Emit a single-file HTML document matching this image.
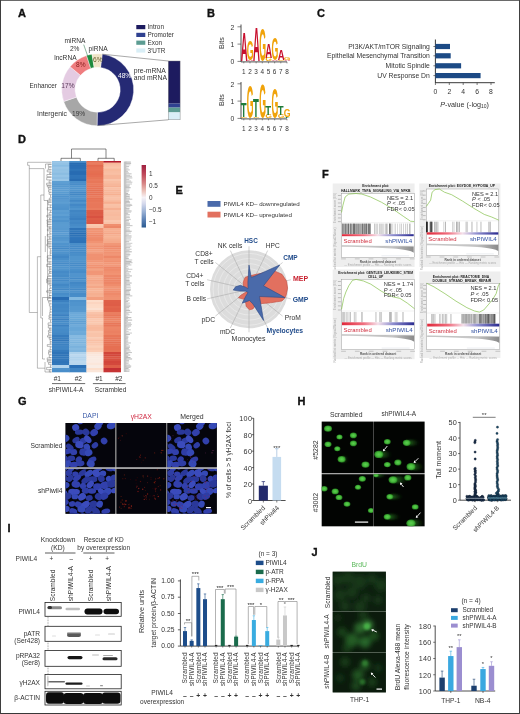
<!DOCTYPE html>
<html><head><meta charset="utf-8"><style>
html,body{margin:0;padding:0;background:#fff;}
svg{display:block;font-family:"Liberation Sans", sans-serif;will-change:transform;}
</style></head><body>
<svg width="520" height="714" viewBox="0 0 520 714">
<rect width="520" height="714" fill="#fff"/>
<text x="18.00" y="17.00" font-size="11" fill="#111" font-weight="bold" stroke="#111" stroke-width="0.35">A</text>
<text x="207.00" y="17.00" font-size="11" fill="#111" font-weight="bold" stroke="#111" stroke-width="0.35">B</text>
<text x="317.00" y="17.00" font-size="11" fill="#111" font-weight="bold" stroke="#111" stroke-width="0.35">C</text>
<text x="18.00" y="143.00" font-size="11" fill="#111" font-weight="bold" stroke="#111" stroke-width="0.35">D</text>
<text x="175.50" y="194.00" font-size="11" fill="#111" font-weight="bold" stroke="#111" stroke-width="0.35">E</text>
<text x="322.00" y="178.00" font-size="11" fill="#111" font-weight="bold" stroke="#111" stroke-width="0.35">F</text>
<text x="18.00" y="405.00" font-size="11" fill="#111" font-weight="bold" stroke="#111" stroke-width="0.35">G</text>
<text x="297.50" y="405.00" font-size="11" fill="#111" font-weight="bold" stroke="#111" stroke-width="0.35">H</text>
<text x="7.50" y="532.00" font-size="11" fill="#111" font-weight="bold" stroke="#111" stroke-width="0.35">I</text>
<text x="311.50" y="555.50" font-size="11" fill="#111" font-weight="bold" stroke="#111" stroke-width="0.35">J</text>
<path d="M102.21,54.08 A36,36 0 0 1 97.07,125.79 L97.31,112.30 A22.5,22.5 0 0 0 100.52,67.48 Z" fill="#252a74" stroke="#fff" stroke-width="0.4" />
<path d="M97.07,125.79 A36,36 0 0 1 63.66,101.52 L76.43,97.13 A22.5,22.5 0 0 0 97.31,112.30 Z" fill="#a7a7a7" stroke="#fff" stroke-width="0.4" />
<path d="M63.66,101.52 A36,36 0 0 1 70.12,66.66 L80.46,75.34 A22.5,22.5 0 0 0 76.43,97.13 Z" fill="#e4cbe2" stroke="#fff" stroke-width="0.4" />
<path d="M70.12,66.66 A36,36 0 0 1 86.58,55.56 L90.75,68.40 A22.5,22.5 0 0 0 80.46,75.34 Z" fill="#ef7d7f" stroke="#fff" stroke-width="0.4" />
<path d="M86.58,55.56 A36,36 0 0 1 92.07,54.24 L94.18,67.58 A22.5,22.5 0 0 0 90.75,68.40 Z" fill="#1e8a3d" stroke="#fff" stroke-width="0.4" />
<path d="M92.07,54.24 A36,36 0 0 1 102.21,54.08 L100.52,67.48 A22.5,22.5 0 0 0 94.18,67.58 Z" fill="#efe4c6" stroke="#fff" stroke-width="0.4" />
<line x1="102.30" y1="54.20" x2="168.30" y2="61.00" stroke="#555" stroke-width="0.5" />
<line x1="97.50" y1="125.60" x2="168.30" y2="119.80" stroke="#555" stroke-width="0.5" />
<rect x="168.30" y="61.00" width="11.80" height="42.60" fill="#1d1b5f" />
<rect x="168.30" y="103.60" width="11.80" height="4.00" fill="#2f4190" />
<rect x="168.30" y="107.60" width="11.80" height="4.80" fill="#5c9c92" />
<rect x="168.30" y="112.40" width="11.80" height="7.40" fill="#d9eef6" />
<rect x="168.30" y="61.00" width="11.80" height="58.80" fill="none" stroke="#777" stroke-width="0.4"/>
<rect x="136.30" y="25.00" width="9.00" height="4.20" fill="#1d1b5f" />
<text x="147.60" y="29.28" font-size="6.4" fill="#333" >Intron</text>
<rect x="136.30" y="32.80" width="9.00" height="4.20" fill="#2f4190" />
<text x="147.60" y="37.08" font-size="6.4" fill="#333" >Promoter</text>
<rect x="136.30" y="40.60" width="9.00" height="4.20" fill="#5c9c92" />
<text x="147.60" y="44.88" font-size="6.4" fill="#333" >Exon</text>
<rect x="136.30" y="48.40" width="9.00" height="4.20" fill="#d9eef6" />
<text x="147.60" y="52.68" font-size="6.4" fill="#333" >3′UTR</text>
<text x="133.70" y="72.71" font-size="6.8" fill="#333" >pre-mRNA</text>
<text x="133.70" y="79.71" font-size="6.8" fill="#333" >and mRNA</text>
<text x="118.00" y="77.74" font-size="6.6" fill="#fff" >48%</text>
<text x="75.00" y="42.64" font-size="6.6" fill="#333" text-anchor="middle" >miRNA</text>
<text x="74.70" y="50.74" font-size="6.6" fill="#333" text-anchor="middle" >2%</text>
<text x="54.20" y="59.54" font-size="6.6" fill="#333" >lncRNA</text>
<text x="88.50" y="51.44" font-size="6.6" fill="#333" >piRNA</text>
<text x="76.00" y="66.84" font-size="6.6" fill="#8a2020" >8%</text>
<text x="93.00" y="62.24" font-size="6.6" fill="#6a6030" >6%</text>
<text x="29.60" y="87.98" font-size="6.4" fill="#333" >Enhancer</text>
<text x="61.30" y="88.04" font-size="6.6" fill="#5a3a5a" >17%</text>
<text x="37.00" y="115.81" font-size="6.8" fill="#333" >Intergenic</text>
<text x="72.00" y="115.74" font-size="6.6" fill="#3a3a3a" >19%</text>
<line x1="83.70" y1="44.60" x2="87.60" y2="55.80" stroke="#1e6a3d" stroke-width="0.5" />
<line x1="241.00" y1="24.50" x2="241.00" y2="61.90" stroke="#222" stroke-width="0.8" />
<line x1="241.00" y1="61.90" x2="287.00" y2="61.90" stroke="#222" stroke-width="0.8" />
<line x1="237.50" y1="61.40" x2="241.00" y2="61.40" stroke="#333" stroke-width="0.6" />
<text x="234.20" y="64.31" font-size="6.8" fill="#333" text-anchor="end" >0</text>
<line x1="237.50" y1="44.10" x2="241.00" y2="44.10" stroke="#333" stroke-width="0.6" />
<text x="234.20" y="47.01" font-size="6.8" fill="#333" text-anchor="end" >1</text>
<line x1="237.50" y1="26.80" x2="241.00" y2="26.80" stroke="#333" stroke-width="0.6" />
<text x="234.20" y="29.71" font-size="6.8" fill="#333" text-anchor="end" >2</text>
<text transform="translate(221.50,43.10) rotate(-90)" x="0" y="2.45" font-size="7.2" fill="#333" text-anchor="middle" >Bits</text>
<line x1="243.80" y1="61.90" x2="243.80" y2="63.40" stroke="#333" stroke-width="0.5" />
<text x="243.80" y="73.58" font-size="6.4" fill="#333" text-anchor="middle" >1</text>
<line x1="249.97" y1="61.90" x2="249.97" y2="63.40" stroke="#333" stroke-width="0.5" />
<text x="249.97" y="73.58" font-size="6.4" fill="#333" text-anchor="middle" >2</text>
<line x1="256.14" y1="61.90" x2="256.14" y2="63.40" stroke="#333" stroke-width="0.5" />
<text x="256.14" y="73.58" font-size="6.4" fill="#333" text-anchor="middle" >3</text>
<line x1="262.31" y1="61.90" x2="262.31" y2="63.40" stroke="#333" stroke-width="0.5" />
<text x="262.31" y="73.58" font-size="6.4" fill="#333" text-anchor="middle" >4</text>
<line x1="268.48" y1="61.90" x2="268.48" y2="63.40" stroke="#333" stroke-width="0.5" />
<text x="268.48" y="73.58" font-size="6.4" fill="#333" text-anchor="middle" >5</text>
<line x1="274.65" y1="61.90" x2="274.65" y2="63.40" stroke="#333" stroke-width="0.5" />
<text x="274.65" y="73.58" font-size="6.4" fill="#333" text-anchor="middle" >6</text>
<line x1="280.82" y1="61.90" x2="280.82" y2="63.40" stroke="#333" stroke-width="0.5" />
<text x="280.82" y="73.58" font-size="6.4" fill="#333" text-anchor="middle" >7</text>
<line x1="286.99" y1="61.90" x2="286.99" y2="63.40" stroke="#333" stroke-width="0.5" />
<text x="286.99" y="73.58" font-size="6.4" fill="#333" text-anchor="middle" >8</text>
<text transform="translate(240.65,61.40) scale(0.955,4.156)" font-size="10" font-weight="bold" fill="#c8102e" x="0" y="0">A</text>
<text transform="translate(246.82,61.40) scale(0.955,0.193)" font-size="10" font-weight="bold" fill="#c8102e" x="0" y="0">A</text>
<text transform="translate(246.82,60.02) scale(0.875,2.706)" font-size="10" font-weight="bold" fill="#f0a30a" x="0" y="0">G</text>
<text transform="translate(252.99,61.40) scale(0.955,4.760)" font-size="10" font-weight="bold" fill="#c8102e" x="0" y="0">A</text>
<text transform="translate(259.16,61.40) scale(0.875,4.639)" font-size="10" font-weight="bold" fill="#f0a30a" x="0" y="0">G</text>
<text transform="translate(265.33,61.40) scale(0.875,0.483)" font-size="10" font-weight="bold" fill="#f0a30a" x="0" y="0">G</text>
<text transform="translate(265.33,57.94) scale(0.955,2.054)" font-size="10" font-weight="bold" fill="#c8102e" x="0" y="0">A</text>
<text transform="translate(271.50,61.40) scale(0.955,0.242)" font-size="10" font-weight="bold" fill="#c8102e" x="0" y="0">A</text>
<text transform="translate(271.50,59.67) scale(0.875,3.141)" font-size="10" font-weight="bold" fill="#f0a30a" x="0" y="0">G</text>
<text transform="translate(277.67,61.40) scale(0.875,0.242)" font-size="10" font-weight="bold" fill="#f0a30a" x="0" y="0">G</text>
<text transform="translate(277.67,59.67) scale(0.955,1.450)" font-size="10" font-weight="bold" fill="#c8102e" x="0" y="0">A</text>
<text transform="translate(283.84,61.40) scale(0.955,0.193)" font-size="10" font-weight="bold" fill="#c8102e" x="0" y="0">A</text>
<text transform="translate(283.84,60.02) scale(0.875,0.362)" font-size="10" font-weight="bold" fill="#f0a30a" x="0" y="0">G</text>
<line x1="241.00" y1="82.00" x2="241.00" y2="118.90" stroke="#222" stroke-width="0.8" />
<line x1="241.00" y1="118.90" x2="287.00" y2="118.90" stroke="#222" stroke-width="0.8" />
<line x1="237.50" y1="118.40" x2="241.00" y2="118.40" stroke="#333" stroke-width="0.6" />
<text x="234.20" y="121.31" font-size="6.8" fill="#333" text-anchor="end" >0</text>
<line x1="237.50" y1="101.10" x2="241.00" y2="101.10" stroke="#333" stroke-width="0.6" />
<text x="234.20" y="104.01" font-size="6.8" fill="#333" text-anchor="end" >1</text>
<line x1="237.50" y1="83.80" x2="241.00" y2="83.80" stroke="#333" stroke-width="0.6" />
<text x="234.20" y="86.71" font-size="6.8" fill="#333" text-anchor="end" >2</text>
<text transform="translate(221.50,100.10) rotate(-90)" x="0" y="2.45" font-size="7.2" fill="#333" text-anchor="middle" >Bits</text>
<line x1="243.80" y1="118.90" x2="243.80" y2="120.40" stroke="#333" stroke-width="0.5" />
<text x="243.80" y="130.58" font-size="6.4" fill="#333" text-anchor="middle" >1</text>
<line x1="249.97" y1="118.90" x2="249.97" y2="120.40" stroke="#333" stroke-width="0.5" />
<text x="249.97" y="130.58" font-size="6.4" fill="#333" text-anchor="middle" >2</text>
<line x1="256.14" y1="118.90" x2="256.14" y2="120.40" stroke="#333" stroke-width="0.5" />
<text x="256.14" y="130.58" font-size="6.4" fill="#333" text-anchor="middle" >3</text>
<line x1="262.31" y1="118.90" x2="262.31" y2="120.40" stroke="#333" stroke-width="0.5" />
<text x="262.31" y="130.58" font-size="6.4" fill="#333" text-anchor="middle" >4</text>
<line x1="268.48" y1="118.90" x2="268.48" y2="120.40" stroke="#333" stroke-width="0.5" />
<text x="268.48" y="130.58" font-size="6.4" fill="#333" text-anchor="middle" >5</text>
<line x1="274.65" y1="118.90" x2="274.65" y2="120.40" stroke="#333" stroke-width="0.5" />
<text x="274.65" y="130.58" font-size="6.4" fill="#333" text-anchor="middle" >6</text>
<line x1="280.82" y1="118.90" x2="280.82" y2="120.40" stroke="#333" stroke-width="0.5" />
<text x="280.82" y="130.58" font-size="6.4" fill="#333" text-anchor="middle" >7</text>
<line x1="286.99" y1="118.90" x2="286.99" y2="120.40" stroke="#333" stroke-width="0.5" />
<text x="286.99" y="130.58" font-size="6.4" fill="#333" text-anchor="middle" >8</text>
<text transform="translate(240.65,118.40) scale(0.875,0.242)" font-size="10" font-weight="bold" fill="#f0a30a" x="0" y="0">G</text>
<text transform="translate(240.65,116.67) scale(0.955,1.933)" font-size="10" font-weight="bold" fill="#1e7b3a" x="0" y="0">T</text>
<text transform="translate(246.82,118.40) scale(0.875,4.712)" font-size="10" font-weight="bold" fill="#f0a30a" x="0" y="0">G</text>
<text transform="translate(252.99,118.40) scale(0.875,0.242)" font-size="10" font-weight="bold" fill="#f0a30a" x="0" y="0">G</text>
<text transform="translate(252.99,116.67) scale(0.955,2.537)" font-size="10" font-weight="bold" fill="#1e7b3a" x="0" y="0">T</text>
<text transform="translate(259.16,118.40) scale(0.875,4.784)" font-size="10" font-weight="bold" fill="#f0a30a" x="0" y="0">G</text>
<text transform="translate(265.33,118.40) scale(0.875,0.483)" font-size="10" font-weight="bold" fill="#f0a30a" x="0" y="0">G</text>
<text transform="translate(265.33,114.94) scale(0.955,1.329)" font-size="10" font-weight="bold" fill="#1e7b3a" x="0" y="0">T</text>
<text transform="translate(271.50,118.40) scale(0.875,4.301)" font-size="10" font-weight="bold" fill="#f0a30a" x="0" y="0">G</text>
<text transform="translate(277.67,118.40) scale(0.875,0.483)" font-size="10" font-weight="bold" fill="#f0a30a" x="0" y="0">G</text>
<text transform="translate(277.67,114.94) scale(0.955,1.329)" font-size="10" font-weight="bold" fill="#1e7b3a" x="0" y="0">T</text>
<text transform="translate(283.84,118.40) scale(0.955,0.242)" font-size="10" font-weight="bold" fill="#1e7b3a" x="0" y="0">T</text>
<text transform="translate(283.84,116.67) scale(0.875,1.087)" font-size="10" font-weight="bold" fill="#f0a30a" x="0" y="0">G</text>
<line x1="435.40" y1="39.50" x2="435.40" y2="82.90" stroke="#222" stroke-width="0.9" />
<line x1="435.40" y1="82.70" x2="494.80" y2="82.70" stroke="#222" stroke-width="0.9" />
<rect x="435.40" y="43.90" width="14.60" height="5.20" fill="#1c4a85" />
<line x1="433.40" y1="46.50" x2="435.40" y2="46.50" stroke="#222" stroke-width="0.6" />
<text x="429.80" y="48.81" font-size="6.8" fill="#333" text-anchor="end" >PI3K/AKT/mTOR Signaling</text>
<rect x="435.40" y="53.20" width="15.29" height="5.20" fill="#1c4a85" />
<line x1="433.40" y1="55.80" x2="435.40" y2="55.80" stroke="#222" stroke-width="0.6" />
<text x="429.80" y="58.11" font-size="6.8" fill="#333" text-anchor="end" >Epithelial Mesenchymal Transition</text>
<rect x="435.40" y="63.20" width="25.72" height="5.20" fill="#1c4a85" />
<line x1="433.40" y1="65.80" x2="435.40" y2="65.80" stroke="#222" stroke-width="0.6" />
<text x="429.80" y="68.11" font-size="6.8" fill="#333" text-anchor="end" >Mitotic Spindle</text>
<rect x="435.40" y="73.00" width="45.18" height="5.20" fill="#1c4a85" />
<line x1="433.40" y1="75.60" x2="435.40" y2="75.60" stroke="#222" stroke-width="0.6" />
<text x="429.80" y="77.91" font-size="6.8" fill="#333" text-anchor="end" >UV Response Dn</text>
<line x1="435.40" y1="82.70" x2="435.40" y2="85.00" stroke="#222" stroke-width="0.6" />
<text x="435.40" y="94.31" font-size="6.8" fill="#333" text-anchor="middle" >0</text>
<line x1="449.30" y1="82.70" x2="449.30" y2="85.00" stroke="#222" stroke-width="0.6" />
<text x="449.30" y="94.31" font-size="6.8" fill="#333" text-anchor="middle" >2</text>
<line x1="463.20" y1="82.70" x2="463.20" y2="85.00" stroke="#222" stroke-width="0.6" />
<text x="463.20" y="94.31" font-size="6.8" fill="#333" text-anchor="middle" >4</text>
<line x1="477.10" y1="82.70" x2="477.10" y2="85.00" stroke="#222" stroke-width="0.6" />
<text x="477.10" y="94.31" font-size="6.8" fill="#333" text-anchor="middle" >6</text>
<line x1="491.00" y1="82.70" x2="491.00" y2="85.00" stroke="#222" stroke-width="0.6" />
<text x="491.00" y="94.31" font-size="6.8" fill="#333" text-anchor="middle" >8</text>
<text x="464.6" y="106.5" font-size="7.2" fill="#333" text-anchor="middle"><tspan font-style="italic">P</tspan>-value (-log<tspan font-size="5" dy="1.5">10</tspan><tspan dy="-1.5">)</tspan></text>
<rect x="52.00" y="161.00" width="17.50" height="1.90" fill="#95c4e6" />
<rect x="69.20" y="161.00" width="17.50" height="1.90" fill="#4b90ca" />
<rect x="86.40" y="161.00" width="17.40" height="1.90" fill="#e56c50" />
<rect x="103.50" y="161.00" width="17.50" height="1.90" fill="#b2182b" />
<rect x="52.00" y="162.60" width="17.50" height="2.34" fill="#93c2e5" />
<rect x="69.20" y="162.60" width="17.50" height="2.34" fill="#286cb2" />
<rect x="86.40" y="162.60" width="17.40" height="2.34" fill="#ea7d5f" />
<rect x="103.50" y="162.60" width="17.50" height="2.34" fill="#f7b89b" />
<rect x="52.00" y="164.64" width="17.50" height="2.34" fill="#89bce2" />
<rect x="69.20" y="164.64" width="17.50" height="2.34" fill="#296db3" />
<rect x="86.40" y="164.64" width="17.40" height="2.34" fill="#e46a4e" />
<rect x="103.50" y="164.64" width="17.50" height="2.34" fill="#f9bfa4" />
<rect x="52.00" y="166.69" width="17.50" height="2.34" fill="#98c5e7" />
<rect x="69.20" y="166.69" width="17.50" height="2.34" fill="#2a6fb5" />
<rect x="86.40" y="166.69" width="17.40" height="2.34" fill="#e67154" />
<rect x="103.50" y="166.69" width="17.50" height="2.34" fill="#fac5ab" />
<rect x="52.00" y="168.73" width="17.50" height="2.34" fill="#93c2e5" />
<rect x="69.20" y="168.73" width="17.50" height="2.34" fill="#3075b9" />
<rect x="86.40" y="168.73" width="17.40" height="2.34" fill="#e77356" />
<rect x="103.50" y="168.73" width="17.50" height="2.34" fill="#f8ba9d" />
<rect x="52.00" y="170.78" width="17.50" height="2.34" fill="#94c3e5" />
<rect x="69.20" y="170.78" width="17.50" height="2.34" fill="#286cb2" />
<rect x="86.40" y="170.78" width="17.40" height="2.34" fill="#e56f52" />
<rect x="103.50" y="170.78" width="17.50" height="2.34" fill="#f8bda1" />
<rect x="52.00" y="172.82" width="17.50" height="2.34" fill="#8bbde2" />
<rect x="69.20" y="172.82" width="17.50" height="2.34" fill="#276bb2" />
<rect x="86.40" y="172.82" width="17.40" height="2.34" fill="#e56d50" />
<rect x="103.50" y="172.82" width="17.50" height="2.34" fill="#f9bfa4" />
<rect x="52.00" y="174.87" width="17.50" height="2.34" fill="#95c4e6" />
<rect x="69.20" y="174.87" width="17.50" height="2.34" fill="#3075b9" />
<rect x="86.40" y="174.87" width="17.40" height="2.34" fill="#e66f53" />
<rect x="103.50" y="174.87" width="17.50" height="2.34" fill="#f7b699" />
<rect x="52.00" y="176.91" width="17.50" height="2.34" fill="#8dbee3" />
<rect x="69.20" y="176.91" width="17.50" height="2.34" fill="#2f74b8" />
<rect x="86.40" y="176.91" width="17.40" height="2.34" fill="#e77557" />
<rect x="103.50" y="176.91" width="17.50" height="2.34" fill="#f7b699" />
<rect x="52.00" y="178.96" width="17.50" height="2.34" fill="#99c6e7" />
<rect x="69.20" y="178.96" width="17.50" height="2.34" fill="#286cb2" />
<rect x="86.40" y="178.96" width="17.40" height="2.34" fill="#e97a5d" />
<rect x="103.50" y="178.96" width="17.50" height="2.34" fill="#f9c4aa" />
<rect x="52.00" y="181.00" width="17.50" height="2.37" fill="#5e9fd3" />
<rect x="69.20" y="181.00" width="17.50" height="2.37" fill="#498ec9" />
<rect x="86.40" y="181.00" width="17.40" height="2.37" fill="#e87759" />
<rect x="103.50" y="181.00" width="17.50" height="2.37" fill="#f8bda1" />
<rect x="52.00" y="183.07" width="17.50" height="2.37" fill="#5799d0" />
<rect x="69.20" y="183.07" width="17.50" height="2.37" fill="#488dc9" />
<rect x="86.40" y="183.07" width="17.40" height="2.37" fill="#ea7c5e" />
<rect x="103.50" y="183.07" width="17.50" height="2.37" fill="#f7b79a" />
<rect x="52.00" y="185.14" width="17.50" height="2.37" fill="#589ad0" />
<rect x="69.20" y="185.14" width="17.50" height="2.37" fill="#5094cd" />
<rect x="86.40" y="185.14" width="17.40" height="2.37" fill="#e87659" />
<rect x="103.50" y="185.14" width="17.50" height="2.37" fill="#f6b193" />
<rect x="52.00" y="187.21" width="17.50" height="2.37" fill="#5d9dd2" />
<rect x="69.20" y="187.21" width="17.50" height="2.37" fill="#5295cd" />
<rect x="86.40" y="187.21" width="17.40" height="2.37" fill="#e87659" />
<rect x="103.50" y="187.21" width="17.50" height="2.37" fill="#f9bfa4" />
<rect x="52.00" y="189.29" width="17.50" height="2.37" fill="#5d9ed2" />
<rect x="69.20" y="189.29" width="17.50" height="2.37" fill="#5195cd" />
<rect x="86.40" y="189.29" width="17.40" height="2.37" fill="#e67255" />
<rect x="103.50" y="189.29" width="17.50" height="2.37" fill="#f7b79a" />
<rect x="52.00" y="191.36" width="17.50" height="2.37" fill="#5a9cd1" />
<rect x="69.20" y="191.36" width="17.50" height="2.37" fill="#458ac7" />
<rect x="86.40" y="191.36" width="17.40" height="2.37" fill="#e77356" />
<rect x="103.50" y="191.36" width="17.50" height="2.37" fill="#f7b79a" />
<rect x="52.00" y="193.43" width="17.50" height="2.37" fill="#5396ce" />
<rect x="69.20" y="193.43" width="17.50" height="2.37" fill="#4388c5" />
<rect x="86.40" y="193.43" width="17.40" height="2.37" fill="#e77256" />
<rect x="103.50" y="193.43" width="17.50" height="2.37" fill="#f6b091" />
<rect x="52.00" y="195.50" width="17.50" height="2.37" fill="#5094cd" />
<rect x="69.20" y="195.50" width="17.50" height="2.37" fill="#4f93cc" />
<rect x="86.40" y="195.50" width="17.40" height="2.37" fill="#e97b5d" />
<rect x="103.50" y="195.50" width="17.50" height="2.37" fill="#f9bfa4" />
<rect x="52.00" y="197.57" width="17.50" height="2.37" fill="#5496ce" />
<rect x="69.20" y="197.57" width="17.50" height="2.37" fill="#4e92cc" />
<rect x="86.40" y="197.57" width="17.40" height="2.37" fill="#e77255" />
<rect x="103.50" y="197.57" width="17.50" height="2.37" fill="#f9c1a7" />
<rect x="52.00" y="199.64" width="17.50" height="2.37" fill="#599ad0" />
<rect x="69.20" y="199.64" width="17.50" height="2.37" fill="#4388c5" />
<rect x="86.40" y="199.64" width="17.40" height="2.37" fill="#e77558" />
<rect x="103.50" y="199.64" width="17.50" height="2.37" fill="#f8bca0" />
<rect x="52.00" y="201.71" width="17.50" height="2.37" fill="#5d9ed2" />
<rect x="69.20" y="201.71" width="17.50" height="2.37" fill="#5295cd" />
<rect x="86.40" y="201.71" width="17.40" height="2.37" fill="#e9795c" />
<rect x="103.50" y="201.71" width="17.50" height="2.37" fill="#f6af91" />
<rect x="52.00" y="203.79" width="17.50" height="2.37" fill="#5497ce" />
<rect x="69.20" y="203.79" width="17.50" height="2.37" fill="#4388c6" />
<rect x="86.40" y="203.79" width="17.40" height="2.37" fill="#e8775a" />
<rect x="103.50" y="203.79" width="17.50" height="2.37" fill="#f9c2a7" />
<rect x="52.00" y="205.86" width="17.50" height="2.37" fill="#5295cd" />
<rect x="69.20" y="205.86" width="17.50" height="2.37" fill="#498ec9" />
<rect x="86.40" y="205.86" width="17.40" height="2.37" fill="#e8775a" />
<rect x="103.50" y="205.86" width="17.50" height="2.37" fill="#f9bfa4" />
<rect x="52.00" y="207.93" width="17.50" height="2.37" fill="#4f93cc" />
<rect x="69.20" y="207.93" width="17.50" height="2.37" fill="#5094cd" />
<rect x="86.40" y="207.93" width="17.40" height="2.37" fill="#ea7d5f" />
<rect x="103.50" y="207.93" width="17.50" height="2.37" fill="#f6b092" />
<rect x="52.00" y="210.00" width="17.50" height="2.30" fill="#5d9ed2" />
<rect x="69.20" y="210.00" width="17.50" height="2.30" fill="#4085c3" />
<rect x="86.40" y="210.00" width="17.40" height="2.30" fill="#dd5c46" />
<rect x="103.50" y="210.00" width="17.50" height="2.30" fill="#f8bea3" />
<rect x="52.00" y="212.00" width="17.50" height="2.30" fill="#599bd1" />
<rect x="69.20" y="212.00" width="17.50" height="2.30" fill="#4489c6" />
<rect x="86.40" y="212.00" width="17.40" height="2.30" fill="#dc5a45" />
<rect x="103.50" y="212.00" width="17.50" height="2.30" fill="#f8bca0" />
<rect x="52.00" y="214.00" width="17.50" height="2.30" fill="#5e9fd3" />
<rect x="69.20" y="214.00" width="17.50" height="2.30" fill="#4287c5" />
<rect x="86.40" y="214.00" width="17.40" height="2.30" fill="#dd5c47" />
<rect x="103.50" y="214.00" width="17.50" height="2.30" fill="#f8ba9e" />
<rect x="52.00" y="216.00" width="17.50" height="2.30" fill="#5396ce" />
<rect x="69.20" y="216.00" width="17.50" height="2.30" fill="#3f84c3" />
<rect x="86.40" y="216.00" width="17.40" height="2.30" fill="#d85241" />
<rect x="103.50" y="216.00" width="17.50" height="2.30" fill="#f8bea2" />
<rect x="52.00" y="218.00" width="17.50" height="2.30" fill="#589ad0" />
<rect x="69.20" y="218.00" width="17.50" height="2.30" fill="#3a7fc0" />
<rect x="86.40" y="218.00" width="17.40" height="2.30" fill="#de5d47" />
<rect x="103.50" y="218.00" width="17.50" height="2.30" fill="#f8bda1" />
<rect x="52.00" y="220.00" width="17.50" height="2.30" fill="#4f93cc" />
<rect x="69.20" y="220.00" width="17.50" height="2.30" fill="#4489c6" />
<rect x="86.40" y="220.00" width="17.40" height="2.30" fill="#dc5945" />
<rect x="103.50" y="220.00" width="17.50" height="2.30" fill="#fac7ae" />
<rect x="52.00" y="222.00" width="17.50" height="2.30" fill="#599bd0" />
<rect x="69.20" y="222.00" width="17.50" height="2.30" fill="#4186c4" />
<rect x="86.40" y="222.00" width="17.40" height="2.30" fill="#db5844" />
<rect x="103.50" y="222.00" width="17.50" height="2.30" fill="#f9c1a7" />
<rect x="52.00" y="224.00" width="17.50" height="2.30" fill="#5a9cd1" />
<rect x="69.20" y="224.00" width="17.50" height="2.30" fill="#468bc7" />
<rect x="86.40" y="224.00" width="17.40" height="2.30" fill="#fac8ae" />
<rect x="103.50" y="224.00" width="17.50" height="2.30" fill="#f08f6f" />
<rect x="52.00" y="226.00" width="17.50" height="2.30" fill="#5a9bd1" />
<rect x="69.20" y="226.00" width="17.50" height="2.30" fill="#498eca" />
<rect x="86.40" y="226.00" width="17.40" height="2.30" fill="#f9c3a9" />
<rect x="103.50" y="226.00" width="17.50" height="2.30" fill="#ed8768" />
<rect x="52.00" y="228.00" width="17.50" height="2.44" fill="#589ad0" />
<rect x="69.20" y="228.00" width="17.50" height="2.44" fill="#2f74b8" />
<rect x="86.40" y="228.00" width="17.40" height="2.44" fill="#f09373" />
<rect x="103.50" y="228.00" width="17.50" height="2.44" fill="#f6af91" />
<rect x="52.00" y="230.14" width="17.50" height="2.44" fill="#5597cf" />
<rect x="69.20" y="230.14" width="17.50" height="2.44" fill="#3479bb" />
<rect x="86.40" y="230.14" width="17.40" height="2.44" fill="#f19474" />
<rect x="103.50" y="230.14" width="17.50" height="2.44" fill="#f6ae90" />
<rect x="52.00" y="232.29" width="17.50" height="2.44" fill="#5b9cd2" />
<rect x="69.20" y="232.29" width="17.50" height="2.44" fill="#2a6fb5" />
<rect x="86.40" y="232.29" width="17.40" height="2.44" fill="#f08f6f" />
<rect x="103.50" y="232.29" width="17.50" height="2.44" fill="#f4a789" />
<rect x="52.00" y="234.43" width="17.50" height="2.44" fill="#5497ce" />
<rect x="69.20" y="234.43" width="17.50" height="2.44" fill="#2e73b7" />
<rect x="86.40" y="234.43" width="17.40" height="2.44" fill="#ee8a6b" />
<rect x="103.50" y="234.43" width="17.50" height="2.44" fill="#f6b192" />
<rect x="52.00" y="236.57" width="17.50" height="2.44" fill="#5295cd" />
<rect x="69.20" y="236.57" width="17.50" height="2.44" fill="#3176ba" />
<rect x="86.40" y="236.57" width="17.40" height="2.44" fill="#ef8c6d" />
<rect x="103.50" y="236.57" width="17.50" height="2.44" fill="#f7b395" />
<rect x="52.00" y="238.71" width="17.50" height="2.44" fill="#5497ce" />
<rect x="69.20" y="238.71" width="17.50" height="2.44" fill="#2f74b9" />
<rect x="86.40" y="238.71" width="17.40" height="2.44" fill="#ee8a6a" />
<rect x="103.50" y="238.71" width="17.50" height="2.44" fill="#f5ad8e" />
<rect x="52.00" y="240.86" width="17.50" height="2.44" fill="#5c9dd2" />
<rect x="69.20" y="240.86" width="17.50" height="2.44" fill="#2d72b7" />
<rect x="86.40" y="240.86" width="17.40" height="2.44" fill="#f19373" />
<rect x="103.50" y="240.86" width="17.50" height="2.44" fill="#f5a98a" />
<rect x="52.00" y="243.00" width="17.50" height="2.43" fill="#5094cd" />
<rect x="69.20" y="243.00" width="17.50" height="2.43" fill="#498ec9" />
<rect x="86.40" y="243.00" width="17.40" height="2.43" fill="#f39e7f" />
<rect x="103.50" y="243.00" width="17.50" height="2.43" fill="#f19777" />
<rect x="52.00" y="245.13" width="17.50" height="2.43" fill="#4a8fca" />
<rect x="69.20" y="245.13" width="17.50" height="2.43" fill="#458ac7" />
<rect x="86.40" y="245.13" width="17.40" height="2.43" fill="#f19474" />
<rect x="103.50" y="245.13" width="17.50" height="2.43" fill="#ee8a6a" />
<rect x="52.00" y="247.27" width="17.50" height="2.43" fill="#458ac7" />
<rect x="69.20" y="247.27" width="17.50" height="2.43" fill="#468bc8" />
<rect x="86.40" y="247.27" width="17.40" height="2.43" fill="#f19474" />
<rect x="103.50" y="247.27" width="17.50" height="2.43" fill="#ef8d6e" />
<rect x="52.00" y="249.40" width="17.50" height="2.43" fill="#4f93cc" />
<rect x="69.20" y="249.40" width="17.50" height="2.43" fill="#488dc8" />
<rect x="86.40" y="249.40" width="17.40" height="2.43" fill="#f3a081" />
<rect x="103.50" y="249.40" width="17.50" height="2.43" fill="#f19474" />
<rect x="52.00" y="251.53" width="17.50" height="2.43" fill="#4f93cc" />
<rect x="69.20" y="251.53" width="17.50" height="2.43" fill="#468bc8" />
<rect x="86.40" y="251.53" width="17.40" height="2.43" fill="#f29c7d" />
<rect x="103.50" y="251.53" width="17.50" height="2.43" fill="#f09272" />
<rect x="52.00" y="253.67" width="17.50" height="2.43" fill="#498ec9" />
<rect x="69.20" y="253.67" width="17.50" height="2.43" fill="#498ec9" />
<rect x="86.40" y="253.67" width="17.40" height="2.43" fill="#f09172" />
<rect x="103.50" y="253.67" width="17.50" height="2.43" fill="#f19677" />
<rect x="52.00" y="255.80" width="17.50" height="2.43" fill="#4287c5" />
<rect x="69.20" y="255.80" width="17.50" height="2.43" fill="#5195cd" />
<rect x="86.40" y="255.80" width="17.40" height="2.43" fill="#f09272" />
<rect x="103.50" y="255.80" width="17.50" height="2.43" fill="#ed8768" />
<rect x="52.00" y="257.93" width="17.50" height="2.43" fill="#498ec9" />
<rect x="69.20" y="257.93" width="17.50" height="2.43" fill="#5195cd" />
<rect x="86.40" y="257.93" width="17.40" height="2.43" fill="#f09171" />
<rect x="103.50" y="257.93" width="17.50" height="2.43" fill="#f19575" />
<rect x="52.00" y="260.07" width="17.50" height="2.43" fill="#4e92cc" />
<rect x="69.20" y="260.07" width="17.50" height="2.43" fill="#4f93cc" />
<rect x="86.40" y="260.07" width="17.40" height="2.43" fill="#f19677" />
<rect x="103.50" y="260.07" width="17.50" height="2.43" fill="#f09070" />
<rect x="52.00" y="262.20" width="17.50" height="2.43" fill="#478cc8" />
<rect x="69.20" y="262.20" width="17.50" height="2.43" fill="#478cc8" />
<rect x="86.40" y="262.20" width="17.40" height="2.43" fill="#f39e7f" />
<rect x="103.50" y="262.20" width="17.50" height="2.43" fill="#f29878" />
<rect x="52.00" y="264.33" width="17.50" height="2.43" fill="#4b90cb" />
<rect x="69.20" y="264.33" width="17.50" height="2.43" fill="#478cc8" />
<rect x="86.40" y="264.33" width="17.40" height="2.43" fill="#f19474" />
<rect x="103.50" y="264.33" width="17.50" height="2.43" fill="#f29879" />
<rect x="52.00" y="266.47" width="17.50" height="2.43" fill="#5094cd" />
<rect x="69.20" y="266.47" width="17.50" height="2.43" fill="#4d91cb" />
<rect x="86.40" y="266.47" width="17.40" height="2.43" fill="#f09171" />
<rect x="103.50" y="266.47" width="17.50" height="2.43" fill="#ee8869" />
<rect x="52.00" y="268.60" width="17.50" height="2.43" fill="#5094cd" />
<rect x="69.20" y="268.60" width="17.50" height="2.43" fill="#4b90cb" />
<rect x="86.40" y="268.60" width="17.40" height="2.43" fill="#f3a283" />
<rect x="103.50" y="268.60" width="17.50" height="2.43" fill="#ef8b6c" />
<rect x="52.00" y="270.73" width="17.50" height="2.43" fill="#458ac7" />
<rect x="69.20" y="270.73" width="17.50" height="2.43" fill="#478cc8" />
<rect x="86.40" y="270.73" width="17.40" height="2.43" fill="#f19677" />
<rect x="103.50" y="270.73" width="17.50" height="2.43" fill="#f09070" />
<rect x="52.00" y="272.87" width="17.50" height="2.43" fill="#498ec9" />
<rect x="69.20" y="272.87" width="17.50" height="2.43" fill="#5194cd" />
<rect x="86.40" y="272.87" width="17.40" height="2.43" fill="#f19778" />
<rect x="103.50" y="272.87" width="17.50" height="2.43" fill="#f19373" />
<rect x="52.00" y="275.00" width="17.50" height="2.50" fill="#468bc7" />
<rect x="69.20" y="275.00" width="17.50" height="2.50" fill="#5094cd" />
<rect x="86.40" y="275.00" width="17.40" height="2.50" fill="#f5ac8e" />
<rect x="103.50" y="275.00" width="17.50" height="2.50" fill="#ed8768" />
<rect x="52.00" y="277.20" width="17.50" height="2.50" fill="#488dc8" />
<rect x="69.20" y="277.20" width="17.50" height="2.50" fill="#458ac7" />
<rect x="86.40" y="277.20" width="17.40" height="2.50" fill="#f5ab8d" />
<rect x="103.50" y="277.20" width="17.50" height="2.50" fill="#ed8667" />
<rect x="52.00" y="279.40" width="17.50" height="2.50" fill="#458ac7" />
<rect x="69.20" y="279.40" width="17.50" height="2.50" fill="#4f93cc" />
<rect x="86.40" y="279.40" width="17.40" height="2.50" fill="#f4a485" />
<rect x="103.50" y="279.40" width="17.50" height="2.50" fill="#ed8667" />
<rect x="52.00" y="281.60" width="17.50" height="2.50" fill="#4f93cc" />
<rect x="69.20" y="281.60" width="17.50" height="2.50" fill="#4287c5" />
<rect x="86.40" y="281.60" width="17.40" height="2.50" fill="#f5a98b" />
<rect x="103.50" y="281.60" width="17.50" height="2.50" fill="#ed8566" />
<rect x="52.00" y="283.80" width="17.50" height="2.50" fill="#4388c5" />
<rect x="69.20" y="283.80" width="17.50" height="2.50" fill="#468bc8" />
<rect x="86.40" y="283.80" width="17.40" height="2.50" fill="#f6b092" />
<rect x="103.50" y="283.80" width="17.50" height="2.50" fill="#ef8c6c" />
<rect x="52.00" y="286.00" width="17.50" height="2.50" fill="#498ec9" />
<rect x="69.20" y="286.00" width="17.50" height="2.50" fill="#4a8fca" />
<rect x="86.40" y="286.00" width="17.40" height="2.50" fill="#f4a788" />
<rect x="103.50" y="286.00" width="17.50" height="2.50" fill="#f19676" />
<rect x="52.00" y="288.20" width="17.50" height="2.50" fill="#4388c5" />
<rect x="69.20" y="288.20" width="17.50" height="2.50" fill="#4489c6" />
<rect x="86.40" y="288.20" width="17.40" height="2.50" fill="#f7b395" />
<rect x="103.50" y="288.20" width="17.50" height="2.50" fill="#f19475" />
<rect x="52.00" y="290.40" width="17.50" height="2.50" fill="#5295cd" />
<rect x="69.20" y="290.40" width="17.50" height="2.50" fill="#5093cc" />
<rect x="86.40" y="290.40" width="17.40" height="2.50" fill="#f7b395" />
<rect x="103.50" y="290.40" width="17.50" height="2.50" fill="#ef8c6d" />
<rect x="52.00" y="292.60" width="17.50" height="2.50" fill="#478cc8" />
<rect x="69.20" y="292.60" width="17.50" height="2.50" fill="#478cc8" />
<rect x="86.40" y="292.60" width="17.40" height="2.50" fill="#f6af90" />
<rect x="103.50" y="292.60" width="17.50" height="2.50" fill="#ee896a" />
<rect x="52.00" y="294.80" width="17.50" height="2.50" fill="#4b90cb" />
<rect x="69.20" y="294.80" width="17.50" height="2.50" fill="#488dc9" />
<rect x="86.40" y="294.80" width="17.40" height="2.50" fill="#f6b193" />
<rect x="103.50" y="294.80" width="17.50" height="2.50" fill="#f08f70" />
<rect x="52.00" y="297.00" width="17.50" height="3.30" fill="#286cb3" />
<rect x="69.20" y="297.00" width="17.50" height="3.30" fill="#84b9e0" />
<rect x="86.40" y="297.00" width="17.40" height="3.30" fill="#f39f7f" />
<rect x="103.50" y="297.00" width="17.50" height="3.30" fill="#f09272" />
<rect x="52.00" y="300.00" width="17.50" height="2.30" fill="#3b80c0" />
<rect x="69.20" y="300.00" width="17.50" height="2.30" fill="#4d91cb" />
<rect x="86.40" y="300.00" width="17.40" height="2.30" fill="#fdddca" />
<rect x="103.50" y="300.00" width="17.50" height="2.30" fill="#df5f48" />
<rect x="52.00" y="302.00" width="17.50" height="2.30" fill="#478cc8" />
<rect x="69.20" y="302.00" width="17.50" height="2.30" fill="#5094cd" />
<rect x="86.40" y="302.00" width="17.40" height="2.30" fill="#fcd5c0" />
<rect x="103.50" y="302.00" width="17.50" height="2.30" fill="#de5e48" />
<rect x="52.00" y="304.00" width="17.50" height="2.30" fill="#4186c4" />
<rect x="69.20" y="304.00" width="17.50" height="2.30" fill="#5094cd" />
<rect x="86.40" y="304.00" width="17.40" height="2.30" fill="#fddbc7" />
<rect x="103.50" y="304.00" width="17.50" height="2.30" fill="#de5d47" />
<rect x="52.00" y="306.00" width="17.50" height="2.30" fill="#4186c4" />
<rect x="69.20" y="306.00" width="17.50" height="2.30" fill="#5598cf" />
<rect x="86.40" y="306.00" width="17.40" height="2.30" fill="#fddcc8" />
<rect x="103.50" y="306.00" width="17.50" height="2.30" fill="#e2654c" />
<rect x="52.00" y="308.00" width="17.50" height="2.30" fill="#4388c5" />
<rect x="69.20" y="308.00" width="17.50" height="2.30" fill="#5598cf" />
<rect x="86.40" y="308.00" width="17.40" height="2.30" fill="#fce1d1" />
<rect x="103.50" y="308.00" width="17.50" height="2.30" fill="#e0624a" />
<rect x="52.00" y="310.00" width="17.50" height="2.30" fill="#4186c4" />
<rect x="69.20" y="310.00" width="17.50" height="2.30" fill="#589ad0" />
<rect x="86.40" y="310.00" width="17.40" height="2.30" fill="#fcd3bd" />
<rect x="103.50" y="310.00" width="17.50" height="2.30" fill="#e1634a" />
<rect x="52.00" y="312.00" width="17.50" height="2.39" fill="#488dc9" />
<rect x="69.20" y="312.00" width="17.50" height="2.39" fill="#6ca9d9" />
<rect x="86.40" y="312.00" width="17.40" height="2.39" fill="#f9c3a9" />
<rect x="103.50" y="312.00" width="17.50" height="2.39" fill="#ea7e60" />
<rect x="52.00" y="314.09" width="17.50" height="2.39" fill="#3c81c1" />
<rect x="69.20" y="314.09" width="17.50" height="2.39" fill="#6daad9" />
<rect x="86.40" y="314.09" width="17.40" height="2.39" fill="#f8bb9f" />
<rect x="103.50" y="314.09" width="17.50" height="2.39" fill="#e87658" />
<rect x="52.00" y="316.18" width="17.50" height="2.39" fill="#478cc8" />
<rect x="69.20" y="316.18" width="17.50" height="2.39" fill="#69a8d8" />
<rect x="86.40" y="316.18" width="17.40" height="2.39" fill="#f8ba9d" />
<rect x="103.50" y="316.18" width="17.50" height="2.39" fill="#ea7c5e" />
<rect x="52.00" y="318.27" width="17.50" height="2.39" fill="#3c81c1" />
<rect x="69.20" y="318.27" width="17.50" height="2.39" fill="#68a7d7" />
<rect x="86.40" y="318.27" width="17.40" height="2.39" fill="#fac8af" />
<rect x="103.50" y="318.27" width="17.50" height="2.39" fill="#ec8465" />
<rect x="52.00" y="320.36" width="17.50" height="2.39" fill="#468bc8" />
<rect x="69.20" y="320.36" width="17.50" height="2.39" fill="#60a0d3" />
<rect x="86.40" y="320.36" width="17.40" height="2.39" fill="#fac6ad" />
<rect x="103.50" y="320.36" width="17.50" height="2.39" fill="#ec8566" />
<rect x="52.00" y="322.45" width="17.50" height="2.39" fill="#488dc9" />
<rect x="69.20" y="322.45" width="17.50" height="2.39" fill="#62a1d4" />
<rect x="86.40" y="322.45" width="17.40" height="2.39" fill="#fac8ae" />
<rect x="103.50" y="322.45" width="17.50" height="2.39" fill="#e87759" />
<rect x="52.00" y="324.55" width="17.50" height="2.39" fill="#3c81c1" />
<rect x="69.20" y="324.55" width="17.50" height="2.39" fill="#6eaad9" />
<rect x="86.40" y="324.55" width="17.40" height="2.39" fill="#f8bb9f" />
<rect x="103.50" y="324.55" width="17.50" height="2.39" fill="#e87759" />
<rect x="52.00" y="326.64" width="17.50" height="2.39" fill="#498eca" />
<rect x="69.20" y="326.64" width="17.50" height="2.39" fill="#68a6d7" />
<rect x="86.40" y="326.64" width="17.40" height="2.39" fill="#f8b99c" />
<rect x="103.50" y="326.64" width="17.50" height="2.39" fill="#ed8667" />
<rect x="52.00" y="328.73" width="17.50" height="2.39" fill="#468bc8" />
<rect x="69.20" y="328.73" width="17.50" height="2.39" fill="#67a6d7" />
<rect x="86.40" y="328.73" width="17.40" height="2.39" fill="#f8ba9e" />
<rect x="103.50" y="328.73" width="17.50" height="2.39" fill="#ec8466" />
<rect x="52.00" y="330.82" width="17.50" height="2.39" fill="#468bc7" />
<rect x="69.20" y="330.82" width="17.50" height="2.39" fill="#70acda" />
<rect x="86.40" y="330.82" width="17.40" height="2.39" fill="#fac7ae" />
<rect x="103.50" y="330.82" width="17.50" height="2.39" fill="#eb8062" />
<rect x="52.00" y="332.91" width="17.50" height="2.39" fill="#4388c5" />
<rect x="69.20" y="332.91" width="17.50" height="2.39" fill="#6daad9" />
<rect x="86.40" y="332.91" width="17.40" height="2.39" fill="#f9c3a9" />
<rect x="103.50" y="332.91" width="17.50" height="2.39" fill="#ec8364" />
<rect x="52.00" y="335.00" width="17.50" height="2.42" fill="#367bbd" />
<rect x="69.20" y="335.00" width="17.50" height="2.42" fill="#86bae1" />
<rect x="86.40" y="335.00" width="17.40" height="2.42" fill="#f9c3a9" />
<rect x="103.50" y="335.00" width="17.50" height="2.42" fill="#e87658" />
<rect x="52.00" y="337.12" width="17.50" height="2.42" fill="#387dbe" />
<rect x="69.20" y="337.12" width="17.50" height="2.42" fill="#80b6df" />
<rect x="86.40" y="337.12" width="17.40" height="2.42" fill="#facbb3" />
<rect x="103.50" y="337.12" width="17.50" height="2.42" fill="#e77558" />
<rect x="52.00" y="339.25" width="17.50" height="2.42" fill="#3378bb" />
<rect x="69.20" y="339.25" width="17.50" height="2.42" fill="#83b8e0" />
<rect x="86.40" y="339.25" width="17.40" height="2.42" fill="#f9bfa4" />
<rect x="103.50" y="339.25" width="17.50" height="2.42" fill="#e87558" />
<rect x="52.00" y="341.38" width="17.50" height="2.42" fill="#3e83c2" />
<rect x="69.20" y="341.38" width="17.50" height="2.42" fill="#7bb3dd" />
<rect x="86.40" y="341.38" width="17.40" height="2.42" fill="#f9c4aa" />
<rect x="103.50" y="341.38" width="17.50" height="2.42" fill="#e56f52" />
<rect x="52.00" y="343.50" width="17.50" height="2.42" fill="#3d82c1" />
<rect x="69.20" y="343.50" width="17.50" height="2.42" fill="#83b8e0" />
<rect x="86.40" y="343.50" width="17.40" height="2.42" fill="#fac8af" />
<rect x="103.50" y="343.50" width="17.50" height="2.42" fill="#e67154" />
<rect x="52.00" y="345.62" width="17.50" height="2.42" fill="#4085c4" />
<rect x="69.20" y="345.62" width="17.50" height="2.42" fill="#7ab2dd" />
<rect x="86.40" y="345.62" width="17.40" height="2.42" fill="#fbd0b9" />
<rect x="103.50" y="345.62" width="17.50" height="2.42" fill="#e66f52" />
<rect x="52.00" y="347.75" width="17.50" height="2.42" fill="#4186c4" />
<rect x="69.20" y="347.75" width="17.50" height="2.42" fill="#83b8e0" />
<rect x="86.40" y="347.75" width="17.40" height="2.42" fill="#fac9b0" />
<rect x="103.50" y="347.75" width="17.50" height="2.42" fill="#e66f53" />
<rect x="52.00" y="349.88" width="17.50" height="2.42" fill="#357abc" />
<rect x="69.20" y="349.88" width="17.50" height="2.42" fill="#7db4de" />
<rect x="86.40" y="349.88" width="17.40" height="2.42" fill="#fbceb6" />
<rect x="103.50" y="349.88" width="17.50" height="2.42" fill="#e67255" />
<rect x="52.00" y="352.00" width="17.50" height="2.47" fill="#2f74b8" />
<rect x="69.20" y="352.00" width="17.50" height="2.47" fill="#afd2ec" />
<rect x="86.40" y="352.00" width="17.40" height="2.47" fill="#fbe4d6" />
<rect x="103.50" y="352.00" width="17.50" height="2.47" fill="#d2463a" />
<rect x="52.00" y="354.17" width="17.50" height="2.47" fill="#2f74b8" />
<rect x="69.20" y="354.17" width="17.50" height="2.47" fill="#bbd8ef" />
<rect x="86.40" y="354.17" width="17.40" height="2.47" fill="#fae7dc" />
<rect x="103.50" y="354.17" width="17.50" height="2.47" fill="#d3483b" />
<rect x="52.00" y="356.33" width="17.50" height="2.47" fill="#3378bb" />
<rect x="69.20" y="356.33" width="17.50" height="2.47" fill="#b0d2ec" />
<rect x="86.40" y="356.33" width="17.40" height="2.47" fill="#faeae1" />
<rect x="103.50" y="356.33" width="17.50" height="2.47" fill="#db5744" />
<rect x="52.00" y="358.50" width="17.50" height="2.47" fill="#3277ba" />
<rect x="69.20" y="358.50" width="17.50" height="2.47" fill="#b3d4ed" />
<rect x="86.40" y="358.50" width="17.40" height="2.47" fill="#faebe2" />
<rect x="103.50" y="358.50" width="17.50" height="2.47" fill="#d85140" />
<rect x="52.00" y="360.67" width="17.50" height="2.47" fill="#2f74b8" />
<rect x="69.20" y="360.67" width="17.50" height="2.47" fill="#bcd9ef" />
<rect x="86.40" y="360.67" width="17.40" height="2.47" fill="#faebe3" />
<rect x="103.50" y="360.67" width="17.50" height="2.47" fill="#d2453a" />
<rect x="52.00" y="362.83" width="17.50" height="2.47" fill="#3277ba" />
<rect x="69.20" y="362.83" width="17.50" height="2.47" fill="#b8d7ee" />
<rect x="86.40" y="362.83" width="17.40" height="2.47" fill="#fbe7db" />
<rect x="103.50" y="362.83" width="17.50" height="2.47" fill="#d3483c" />
<rect x="52.00" y="365.00" width="17.50" height="3.30" fill="#b1d3ed" />
<rect x="69.20" y="365.00" width="17.50" height="3.30" fill="#2b70b6" />
<rect x="86.40" y="365.00" width="17.40" height="3.30" fill="#f9ece4" />
<rect x="103.50" y="365.00" width="17.50" height="3.30" fill="#de5d47" />
<rect x="52.00" y="368.00" width="17.50" height="2.30" fill="#5093cc" />
<rect x="69.20" y="368.00" width="17.50" height="2.30" fill="#4085c4" />
<rect x="86.40" y="368.00" width="17.40" height="2.30" fill="#fcdfcd" />
<rect x="103.50" y="368.00" width="17.50" height="2.30" fill="#c32f33" />
<rect x="52.00" y="370.00" width="17.50" height="2.30" fill="#498eca" />
<rect x="69.20" y="370.00" width="17.50" height="2.30" fill="#3e83c2" />
<rect x="86.40" y="370.00" width="17.40" height="2.30" fill="#fbe6d9" />
<rect x="103.50" y="370.00" width="17.50" height="2.30" fill="#c73535" />
<rect x="123.80" y="161.50" width="2.60" height="210.50" fill="#c4c4c4" />
<rect x="125.50" y="161.50" width="5.30" height="1.10" fill="#bcbcbc" />
<rect x="125.50" y="162.79" width="5.61" height="1.10" fill="#bcbcbc" />
<rect x="125.50" y="164.31" width="4.89" height="1.10" fill="#d0d0d0" />
<rect x="125.50" y="165.93" width="3.62" height="1.10" fill="#c8c8c8" />
<rect x="125.50" y="167.65" width="3.01" height="1.10" fill="#d0d0d0" />
<rect x="125.50" y="169.34" width="4.21" height="1.10" fill="#c8c8c8" />
<rect x="125.50" y="170.80" width="2.56" height="1.10" fill="#c8c8c8" />
<rect x="125.50" y="172.13" width="3.32" height="1.10" fill="#d0d0d0" />
<rect x="125.50" y="173.26" width="6.09" height="1.10" fill="#c8c8c8" />
<rect x="125.50" y="174.75" width="4.50" height="1.10" fill="#c8c8c8" />
<rect x="125.50" y="175.75" width="6.42" height="1.10" fill="#c8c8c8" />
<rect x="125.50" y="177.37" width="6.82" height="1.10" fill="#c8c8c8" />
<rect x="125.50" y="179.07" width="3.80" height="1.10" fill="#c8c8c8" />
<rect x="125.50" y="180.50" width="5.55" height="1.10" fill="#c8c8c8" />
<rect x="125.50" y="181.65" width="6.86" height="1.10" fill="#c8c8c8" />
<rect x="125.50" y="183.42" width="6.52" height="1.10" fill="#d0d0d0" />
<rect x="125.50" y="184.44" width="4.37" height="1.10" fill="#c8c8c8" />
<rect x="125.50" y="185.65" width="3.99" height="1.10" fill="#bcbcbc" />
<rect x="125.50" y="187.12" width="5.18" height="1.10" fill="#bcbcbc" />
<rect x="125.50" y="188.39" width="3.89" height="1.10" fill="#d0d0d0" />
<rect x="125.50" y="189.77" width="3.92" height="1.10" fill="#d0d0d0" />
<rect x="125.50" y="191.15" width="3.29" height="1.10" fill="#d0d0d0" />
<rect x="125.50" y="192.93" width="2.60" height="1.10" fill="#bcbcbc" />
<rect x="125.50" y="194.22" width="4.32" height="1.10" fill="#bcbcbc" />
<rect x="125.50" y="195.85" width="4.15" height="1.10" fill="#bcbcbc" />
<rect x="125.50" y="197.52" width="4.54" height="1.10" fill="#bcbcbc" />
<rect x="125.50" y="198.66" width="6.80" height="1.10" fill="#c8c8c8" />
<rect x="125.50" y="199.76" width="3.61" height="1.10" fill="#d0d0d0" />
<rect x="125.50" y="201.04" width="4.10" height="1.10" fill="#bcbcbc" />
<rect x="125.50" y="202.24" width="4.58" height="1.10" fill="#bcbcbc" />
<rect x="125.50" y="203.84" width="6.09" height="1.10" fill="#d0d0d0" />
<rect x="125.50" y="204.86" width="6.76" height="1.10" fill="#c8c8c8" />
<rect x="125.50" y="206.03" width="4.81" height="1.10" fill="#d0d0d0" />
<rect x="125.50" y="207.77" width="4.03" height="1.10" fill="#bcbcbc" />
<rect x="125.50" y="209.20" width="3.91" height="1.10" fill="#d0d0d0" />
<rect x="125.50" y="210.45" width="6.09" height="1.10" fill="#bcbcbc" />
<rect x="125.50" y="211.57" width="5.60" height="1.10" fill="#d0d0d0" />
<rect x="125.50" y="212.69" width="2.72" height="1.10" fill="#bcbcbc" />
<rect x="125.50" y="214.12" width="4.33" height="1.10" fill="#c8c8c8" />
<rect x="125.50" y="215.71" width="4.05" height="1.10" fill="#d0d0d0" />
<rect x="125.50" y="217.08" width="4.40" height="1.10" fill="#c8c8c8" />
<rect x="125.50" y="218.86" width="5.37" height="1.10" fill="#d0d0d0" />
<rect x="125.50" y="220.13" width="3.43" height="1.10" fill="#bcbcbc" />
<rect x="125.50" y="221.58" width="3.10" height="1.10" fill="#d0d0d0" />
<rect x="125.50" y="222.67" width="4.46" height="1.10" fill="#c8c8c8" />
<rect x="125.50" y="223.71" width="4.39" height="1.10" fill="#c8c8c8" />
<rect x="125.50" y="225.08" width="7.00" height="1.10" fill="#c8c8c8" />
<rect x="125.50" y="226.86" width="4.54" height="1.10" fill="#d0d0d0" />
<rect x="125.50" y="228.41" width="3.93" height="1.10" fill="#d0d0d0" />
<rect x="125.50" y="229.64" width="4.32" height="1.10" fill="#c8c8c8" />
<rect x="125.50" y="230.73" width="6.20" height="1.10" fill="#bcbcbc" />
<rect x="125.50" y="232.50" width="5.32" height="1.10" fill="#d0d0d0" />
<rect x="125.50" y="234.19" width="3.31" height="1.10" fill="#d0d0d0" />
<rect x="125.50" y="235.41" width="6.02" height="1.10" fill="#bcbcbc" />
<rect x="125.50" y="236.70" width="6.04" height="1.10" fill="#d0d0d0" />
<rect x="125.50" y="238.25" width="5.49" height="1.10" fill="#d0d0d0" />
<rect x="125.50" y="239.55" width="5.67" height="1.10" fill="#d0d0d0" />
<rect x="125.50" y="241.21" width="3.69" height="1.10" fill="#bcbcbc" />
<rect x="125.50" y="242.79" width="6.81" height="1.10" fill="#d0d0d0" />
<rect x="125.50" y="244.31" width="5.11" height="1.10" fill="#c8c8c8" />
<rect x="125.50" y="245.69" width="5.98" height="1.10" fill="#d0d0d0" />
<rect x="125.50" y="247.22" width="4.58" height="1.10" fill="#bcbcbc" />
<rect x="125.50" y="248.74" width="6.09" height="1.10" fill="#d0d0d0" />
<rect x="125.50" y="249.96" width="4.06" height="1.10" fill="#d0d0d0" />
<rect x="125.50" y="251.24" width="6.29" height="1.10" fill="#bcbcbc" />
<rect x="125.50" y="252.60" width="4.14" height="1.10" fill="#d0d0d0" />
<rect x="125.50" y="254.01" width="4.88" height="1.10" fill="#c8c8c8" />
<rect x="125.50" y="255.17" width="4.13" height="1.10" fill="#d0d0d0" />
<rect x="125.50" y="256.40" width="2.85" height="1.10" fill="#bcbcbc" />
<rect x="125.50" y="257.98" width="3.27" height="1.10" fill="#bcbcbc" />
<rect x="125.50" y="259.40" width="6.71" height="1.10" fill="#d0d0d0" />
<rect x="125.50" y="260.90" width="5.99" height="1.10" fill="#bcbcbc" />
<rect x="125.50" y="262.11" width="6.98" height="1.10" fill="#c8c8c8" />
<rect x="125.50" y="263.24" width="4.48" height="1.10" fill="#bcbcbc" />
<rect x="125.50" y="264.39" width="5.92" height="1.10" fill="#c8c8c8" />
<rect x="125.50" y="265.89" width="2.69" height="1.10" fill="#d0d0d0" />
<rect x="125.50" y="267.67" width="3.25" height="1.10" fill="#c8c8c8" />
<rect x="125.50" y="268.76" width="6.86" height="1.10" fill="#d0d0d0" />
<rect x="125.50" y="269.92" width="2.66" height="1.10" fill="#d0d0d0" />
<rect x="125.50" y="271.20" width="5.48" height="1.10" fill="#c8c8c8" />
<rect x="125.50" y="272.67" width="3.57" height="1.10" fill="#d0d0d0" />
<rect x="125.50" y="273.67" width="4.32" height="1.10" fill="#d0d0d0" />
<rect x="125.50" y="275.36" width="6.40" height="1.10" fill="#bcbcbc" />
<rect x="125.50" y="277.02" width="4.18" height="1.10" fill="#c8c8c8" />
<rect x="125.50" y="278.46" width="3.86" height="1.10" fill="#d0d0d0" />
<rect x="125.50" y="279.90" width="4.03" height="1.10" fill="#bcbcbc" />
<rect x="125.50" y="281.13" width="4.08" height="1.10" fill="#c8c8c8" />
<rect x="125.50" y="282.47" width="6.16" height="1.10" fill="#bcbcbc" />
<rect x="125.50" y="283.90" width="4.60" height="1.10" fill="#c8c8c8" />
<rect x="125.50" y="285.37" width="5.04" height="1.10" fill="#c8c8c8" />
<rect x="125.50" y="287.15" width="5.24" height="1.10" fill="#d0d0d0" />
<rect x="125.50" y="288.81" width="5.48" height="1.10" fill="#d0d0d0" />
<rect x="125.50" y="289.89" width="5.05" height="1.10" fill="#bcbcbc" />
<rect x="125.50" y="291.32" width="3.96" height="1.10" fill="#bcbcbc" />
<rect x="125.50" y="292.62" width="4.44" height="1.10" fill="#c8c8c8" />
<rect x="125.50" y="294.02" width="4.66" height="1.10" fill="#bcbcbc" />
<rect x="125.50" y="295.32" width="6.83" height="1.10" fill="#c8c8c8" />
<rect x="125.50" y="296.80" width="3.67" height="1.10" fill="#d0d0d0" />
<rect x="125.50" y="298.20" width="4.37" height="1.10" fill="#d0d0d0" />
<rect x="125.50" y="299.95" width="3.88" height="1.10" fill="#d0d0d0" />
<rect x="125.50" y="301.07" width="2.61" height="1.10" fill="#bcbcbc" />
<rect x="125.50" y="302.56" width="4.50" height="1.10" fill="#d0d0d0" />
<rect x="125.50" y="303.60" width="3.11" height="1.10" fill="#d0d0d0" />
<rect x="125.50" y="304.61" width="4.90" height="1.10" fill="#d0d0d0" />
<rect x="125.50" y="305.80" width="4.63" height="1.10" fill="#c8c8c8" />
<rect x="125.50" y="307.00" width="3.70" height="1.10" fill="#c8c8c8" />
<rect x="125.50" y="308.58" width="3.79" height="1.10" fill="#d0d0d0" />
<rect x="125.50" y="310.06" width="4.64" height="1.10" fill="#bcbcbc" />
<rect x="125.50" y="311.75" width="6.46" height="1.10" fill="#c8c8c8" />
<rect x="125.50" y="312.77" width="3.07" height="1.10" fill="#d0d0d0" />
<rect x="125.50" y="314.19" width="4.01" height="1.10" fill="#d0d0d0" />
<rect x="125.50" y="315.78" width="2.62" height="1.10" fill="#d0d0d0" />
<rect x="125.50" y="317.07" width="5.85" height="1.10" fill="#bcbcbc" />
<rect x="125.50" y="318.17" width="2.51" height="1.10" fill="#bcbcbc" />
<rect x="125.50" y="319.54" width="6.62" height="1.10" fill="#bcbcbc" />
<rect x="125.50" y="320.97" width="2.57" height="1.10" fill="#d0d0d0" />
<rect x="125.50" y="322.45" width="5.60" height="1.10" fill="#bcbcbc" />
<rect x="125.50" y="323.97" width="6.36" height="1.10" fill="#d0d0d0" />
<rect x="125.50" y="325.35" width="5.57" height="1.10" fill="#bcbcbc" />
<rect x="125.50" y="326.51" width="3.83" height="1.10" fill="#c8c8c8" />
<rect x="125.50" y="327.75" width="2.51" height="1.10" fill="#d0d0d0" />
<rect x="125.50" y="329.21" width="5.42" height="1.10" fill="#d0d0d0" />
<rect x="125.50" y="330.94" width="3.14" height="1.10" fill="#d0d0d0" />
<rect x="125.50" y="332.50" width="6.50" height="1.10" fill="#d0d0d0" />
<rect x="125.50" y="333.93" width="4.42" height="1.10" fill="#bcbcbc" />
<rect x="125.50" y="335.58" width="2.81" height="1.10" fill="#c8c8c8" />
<rect x="125.50" y="336.79" width="2.88" height="1.10" fill="#c8c8c8" />
<rect x="125.50" y="338.32" width="2.61" height="1.10" fill="#bcbcbc" />
<rect x="125.50" y="339.67" width="2.81" height="1.10" fill="#d0d0d0" />
<rect x="125.50" y="341.23" width="2.72" height="1.10" fill="#c8c8c8" />
<rect x="125.50" y="342.40" width="5.41" height="1.10" fill="#c8c8c8" />
<rect x="125.50" y="343.97" width="3.11" height="1.10" fill="#d0d0d0" />
<rect x="125.50" y="345.54" width="4.47" height="1.10" fill="#c8c8c8" />
<rect x="125.50" y="347.03" width="4.36" height="1.10" fill="#c8c8c8" />
<rect x="125.50" y="348.08" width="3.46" height="1.10" fill="#bcbcbc" />
<rect x="125.50" y="349.17" width="4.21" height="1.10" fill="#c8c8c8" />
<rect x="125.50" y="350.39" width="5.07" height="1.10" fill="#c8c8c8" />
<rect x="125.50" y="351.98" width="6.45" height="1.10" fill="#c8c8c8" />
<rect x="125.50" y="352.99" width="2.91" height="1.10" fill="#bcbcbc" />
<rect x="125.50" y="354.47" width="4.70" height="1.10" fill="#bcbcbc" />
<rect x="125.50" y="355.77" width="2.75" height="1.10" fill="#bcbcbc" />
<rect x="125.50" y="357.01" width="5.06" height="1.10" fill="#bcbcbc" />
<rect x="125.50" y="358.41" width="6.60" height="1.10" fill="#bcbcbc" />
<rect x="125.50" y="359.85" width="3.49" height="1.10" fill="#c8c8c8" />
<rect x="125.50" y="361.29" width="3.64" height="1.10" fill="#d0d0d0" />
<rect x="125.50" y="362.71" width="3.10" height="1.10" fill="#c8c8c8" />
<rect x="125.50" y="364.40" width="4.54" height="1.10" fill="#d0d0d0" />
<rect x="125.50" y="365.54" width="5.71" height="1.10" fill="#bcbcbc" />
<rect x="125.50" y="366.81" width="5.08" height="1.10" fill="#c8c8c8" />
<rect x="125.50" y="367.89" width="3.06" height="1.10" fill="#bcbcbc" />
<rect x="125.50" y="369.25" width="4.25" height="1.10" fill="#d0d0d0" />
<rect x="125.50" y="370.64" width="3.95" height="1.10" fill="#bcbcbc" />
<path d="M61,161 V158.3 H80.3 V161 M98,161 V158.3 H114.2 V161 M71.5,158.3 V149 H106 V158.3" fill="none" stroke="#333" stroke-width="0.6" />
<path d="M51.5,162.3 H27.6 V165.3 H29.3 M29.3,165.3 V312.5 H37.4 M29.3,168.6 H44 V200.5 M40.8,195 H44 M40.8,195 V318 H42.5 M37.4,256.7 H40.8 M37.4,256.7 V368.2 H45 M42.5,318 V359 H45 M44,200.5 H47.5 V300 M42.5,297.5 H50.8 M42.5,297.5 V316 M45.3,236 V252 M45,362 V372 H51.5 M45.5,168.6 V164 H51.5 M51.5,164.5 H48.3 V166.5 H51.5 M51.5,167.4 H48.4 V169.3 H51.5 M51.5,170.0 H47.2 V171.9 H51.5 M51.5,172.6 H49.7 V174.1 H51.5 M51.5,174.5 H46.9 V176.7 H51.5 M51.5,177.5 H46.7 V179.9 H51.5 M51.5,180.8 H49.1 V182.9 H51.5 M51.5,183.2 H46.6 V185.1 H51.5 M51.5,185.4 H47.3 V187.0 H51.5 M51.5,187.2 H48.4 V189.1 H51.5 M51.5,189.9 H48.6 V192.0 H51.5 M51.5,192.6 H49.1 V194.4 H51.5 M51.5,194.9 H50.5 V197.3 H51.5 M51.5,198.1 H49.3 V199.8 H51.5 M51.5,200.2 H47.7 V201.7 H51.5 M51.5,202.5 H48.1 V204.8 H51.5 M51.5,205.3 H50.3 V207.5 H51.5 M51.5,207.7 H47.3 V210.0 H51.5 M51.5,210.6 H50.4 V212.4 H51.5 M51.5,212.7 H49.0 V214.8 H51.5 M51.5,215.3 H46.8 V217.0 H51.5 M51.5,218.0 H49.5 V219.5 H51.5 M51.5,219.9 H46.9 V221.3 H51.5 M51.5,222.2 H47.2 V224.1 H51.5 M51.5,224.7 H47.3 V226.8 H51.5 M51.5,227.1 H49.1 V228.6 H51.5 M51.5,229.2 H47.4 V230.8 H51.5 M51.5,231.8 H49.7 V233.5 H51.5 M51.5,234.4 H47.3 V236.2 H51.5 M51.5,237.1 H49.1 V238.6 H51.5 M51.5,239.6 H47.4 V241.3 H51.5 M51.5,242.1 H47.8 V243.8 H51.5 M51.5,244.0 H46.9 V246.0 H51.5 M51.5,246.4 H48.9 V248.2 H51.5 M51.5,248.8 H50.3 V250.6 H51.5 M51.5,251.3 H50.0 V252.9 H51.5 M51.5,253.2 H50.1 V255.4 H51.5 M51.5,255.8 H47.3 V258.0 H51.5 M51.5,258.9 H47.3 V261.3 H51.5 M51.5,262.2 H48.9 V264.0 H51.5 M51.5,264.3 H46.7 V266.6 H51.5 M51.5,267.0 H49.3 V268.7 H51.5 M51.5,269.5 H48.9 V271.2 H51.5 M51.5,271.6 H49.4 V273.0 H51.5 M51.5,273.4 H48.7 V275.7 H51.5 M51.5,276.4 H47.6 V278.7 H51.5 M51.5,279.0 H46.6 V280.7 H51.5 M51.5,281.3 H46.7 V282.9 H51.5 M51.5,283.3 H48.8 V284.9 H51.5 M51.5,285.4 H50.1 V287.7 H51.5 M51.5,288.5 H49.3 V290.5 H51.5 M51.5,290.8 H46.6 V292.2 H51.5 M51.5,293.1 H49.3 V295.5 H51.5 M51.5,295.7 H49.0 V297.6 H51.5 M51.5,298.4 H47.8 V300.8 H51.5 M51.5,301.0 H48.7 V303.2 H51.5 M51.5,304.1 H49.4 V306.2 H51.5 M51.5,307.0 H50.2 V308.8 H51.5 M51.5,309.5 H50.1 V311.8 H51.5 M51.5,312.3 H49.7 V314.6 H51.5 M51.5,315.2 H49.0 V317.0 H51.5 M51.5,317.7 H48.9 V319.2 H51.5 M51.5,319.9 H50.5 V322.2 H51.5 M51.5,322.9 H48.1 V325.1 H51.5 M51.5,325.7 H48.3 V328.0 H51.5 M51.5,328.3 H49.5 V329.7 H51.5 M51.5,330.4 H48.4 V332.0 H51.5 M51.5,332.8 H48.5 V334.8 H51.5 M51.5,335.7 H47.5 V337.1 H51.5 M51.5,337.6 H49.2 V339.2 H51.5 M51.5,339.5 H50.1 V341.6 H51.5 M51.5,342.1 H50.1 V343.8 H51.5 M51.5,344.6 H47.3 V346.4 H51.5 M51.5,347.2 H50.2 V349.5 H51.5 M51.5,350.0 H48.8 V351.7 H51.5 M51.5,352.1 H48.5 V354.3 H51.5 M51.5,355.2 H49.3 V357.5 H51.5 M51.5,357.9 H47.2 V359.8 H51.5 M51.5,360.2 H47.4 V362.0 H51.5 M51.5,362.7 H48.5 V364.4 H51.5 M51.5,365.3 H50.4 V367.2 H51.5 M51.5,367.4 H46.6 V369.7 H51.5 M51.5,369.9 H49.3 V371.9 H51.5" fill="none" stroke="#6a6a6a" stroke-width="0.45" />
<defs><linearGradient id="cbg" x1="0" y1="0" x2="0" y2="1"><stop offset="0" stop-color="#a02040"/><stop offset="0.15" stop-color="#c04a5c"/><stop offset="0.3" stop-color="#d88888"/><stop offset="0.42" stop-color="#ecc4bc"/><stop offset="0.52" stop-color="#f6f2f6"/><stop offset="0.62" stop-color="#d4d8ec"/><stop offset="0.75" stop-color="#98b0d4"/><stop offset="0.88" stop-color="#5a80b4"/><stop offset="1" stop-color="#2a5a90"/></linearGradient></defs>
<rect x="141.60" y="165.00" width="4.40" height="62.50" fill="url(#cbg)" />
<text x="148.90" y="175.68" font-size="6.4" fill="#333" >1</text>
<text x="148.90" y="187.98" font-size="6.4" fill="#333" >0.5</text>
<text x="148.90" y="200.28" font-size="6.4" fill="#333" >0</text>
<text x="148.90" y="212.08" font-size="6.4" fill="#333" >−0.5</text>
<text x="148.90" y="224.38" font-size="6.4" fill="#333" >−1</text>
<text x="57.30" y="380.54" font-size="6.6" fill="#333" text-anchor="middle" >#1</text>
<text x="78.30" y="380.54" font-size="6.6" fill="#333" text-anchor="middle" >#2</text>
<text x="99.10" y="380.54" font-size="6.6" fill="#333" text-anchor="middle" >#1</text>
<text x="118.80" y="380.54" font-size="6.6" fill="#333" text-anchor="middle" >#2</text>
<line x1="52.00" y1="383.60" x2="85.20" y2="383.60" stroke="#444" stroke-width="0.8" />
<line x1="92.90" y1="383.60" x2="125.60" y2="383.60" stroke="#444" stroke-width="0.8" />
<text x="66.00" y="392.01" font-size="6.5" fill="#333" text-anchor="middle" >shPIWIL4-A</text>
<text x="110.60" y="392.04" font-size="6.6" fill="#333" text-anchor="middle" >Scrambled</text>
<circle cx="249" cy="289.3" r="39" fill="#dcdcdc"/>
<circle cx="249" cy="289.3" r="5.13" fill="none" stroke="#ececec" stroke-width="0.7"/>
<circle cx="249" cy="289.3" r="10.26" fill="none" stroke="#ececec" stroke-width="0.7"/>
<circle cx="249" cy="289.3" r="15.39" fill="none" stroke="#ececec" stroke-width="0.7"/>
<circle cx="249" cy="289.3" r="20.53" fill="none" stroke="#ececec" stroke-width="0.7"/>
<circle cx="249" cy="289.3" r="25.66" fill="none" stroke="#ececec" stroke-width="0.7"/>
<circle cx="249" cy="289.3" r="30.79" fill="none" stroke="#ececec" stroke-width="0.7"/>
<circle cx="249" cy="289.3" r="35.92" fill="none" stroke="#ececec" stroke-width="0.7"/>
<line x1="249.00" y1="289.30" x2="249.00" y2="246.30" stroke="#9a9a9a" stroke-width="0.45" />
<line x1="249.00" y1="289.30" x2="267.66" y2="250.56" stroke="#9a9a9a" stroke-width="0.45" />
<line x1="249.00" y1="289.30" x2="282.62" y2="262.49" stroke="#9a9a9a" stroke-width="0.45" />
<line x1="249.00" y1="289.30" x2="290.92" y2="279.73" stroke="#9a9a9a" stroke-width="0.45" />
<line x1="249.00" y1="289.30" x2="290.92" y2="298.87" stroke="#9a9a9a" stroke-width="0.45" />
<line x1="249.00" y1="289.30" x2="282.62" y2="316.11" stroke="#9a9a9a" stroke-width="0.45" />
<line x1="249.00" y1="289.30" x2="268.96" y2="330.74" stroke="#9a9a9a" stroke-width="0.45" />
<line x1="249.00" y1="289.30" x2="249.00" y2="332.30" stroke="#9a9a9a" stroke-width="0.45" />
<line x1="249.00" y1="289.30" x2="230.34" y2="328.04" stroke="#9a9a9a" stroke-width="0.45" />
<line x1="249.00" y1="289.30" x2="215.38" y2="316.11" stroke="#9a9a9a" stroke-width="0.45" />
<line x1="249.00" y1="289.30" x2="207.08" y2="298.87" stroke="#9a9a9a" stroke-width="0.45" />
<line x1="249.00" y1="289.30" x2="207.08" y2="279.73" stroke="#9a9a9a" stroke-width="0.45" />
<line x1="249.00" y1="289.30" x2="215.38" y2="262.49" stroke="#9a9a9a" stroke-width="0.45" />
<line x1="249.00" y1="289.30" x2="230.34" y2="250.56" stroke="#9a9a9a" stroke-width="0.45" />
<path d="M243.20,281.90 L245.20,277.20 L251.90,275.20 L262.70,273.00 L269.40,271.60 L275.00,271.20 L282.00,274.30 L286.60,281.20 L287.60,288.20 L286.20,295.00 L285.00,297.80 L282.00,301.00 L270.40,302.80 L259.60,303.80 L254.50,306.50 L252.90,309.00 L249.50,309.80 L246.20,306.50 L245.20,299.60 L238.50,297.80 L240.50,295.40 L247.10,291.50 L243.80,288.60 Z" fill="#e2705f" stroke="#c24a3c" stroke-width="0.6" stroke-linejoin="round"/>
<path d="M249.00,265.10 L251.20,277.20 L253.90,276.50 L279.70,265.00 L263.50,285.80 L285.00,297.60 L259.50,296.50 L263.50,320.40 L252.90,304.00 L249.50,300.50 L242.30,303.20 L245.70,296.30 L248.00,292.50 L245.70,291.20 L239.40,291.00 L233.20,290.10 L235.60,286.70 L240.40,285.30 L245.70,287.20 L248.00,288.70 L247.90,281.90 Z" fill="#4a6aaa" stroke="#2c4a86" stroke-width="0.6" stroke-linejoin="round"/>
<rect x="207.50" y="201.00" width="13.00" height="5.80" fill="#4a6aaa" />
<rect x="207.50" y="211.70" width="13.00" height="5.80" fill="#e2705f" />
<text x="223.40" y="206.01" font-size="6.2" fill="#333" >PIWIL4 KD– downregulated</text>
<text x="223.40" y="216.71" font-size="6.2" fill="#333" >PIWIL4 KD– upregulated</text>
<text x="230.00" y="248.28" font-size="6.7" fill="#333" text-anchor="middle" >NK cells</text>
<text x="251.00" y="242.78" font-size="6.4" fill="#1f4a8a" text-anchor="middle" font-weight="bold" >HSC</text>
<text x="272.80" y="248.44" font-size="6.6" fill="#333" text-anchor="middle" >HPC</text>
<text x="290.50" y="259.91" font-size="6.5" fill="#1f4a8a" text-anchor="middle" font-weight="bold" >CMP</text>
<text x="300.50" y="280.88" font-size="7" fill="#c8202e" text-anchor="middle" font-weight="bold" >MEP</text>
<text x="300.50" y="302.15" font-size="6.9" fill="#1f4a8a" text-anchor="middle" font-weight="bold" >GMP</text>
<text x="292.80" y="320.28" font-size="6.7" fill="#333" text-anchor="middle" >ProM</text>
<text x="284.80" y="333.11" font-size="6.8" fill="#1f4a8a" text-anchor="middle" font-weight="bold" >Myelocytes</text>
<text x="248.50" y="341.18" font-size="7.0" fill="#333" text-anchor="middle" >Monocytes</text>
<text x="227.40" y="333.74" font-size="6.6" fill="#333" text-anchor="middle" >mDC</text>
<text x="208.40" y="322.11" font-size="6.8" fill="#333" text-anchor="middle" >pDC</text>
<text x="196.30" y="300.88" font-size="6.7" fill="#333" text-anchor="middle" >B cells</text>
<text x="194.80" y="278.28" font-size="6.7" fill="#333" text-anchor="middle" >CD4+</text>
<text x="194.80" y="286.28" font-size="6.7" fill="#333" text-anchor="middle" >T cells</text>
<text x="204.00" y="256.28" font-size="6.7" fill="#333" text-anchor="middle" >CD8+</text>
<text x="204.00" y="264.28" font-size="6.7" fill="#333" text-anchor="middle" >T cells</text>
<rect x="332.70" y="183.50" width="81.90" height="83.50" fill="#eeeeee" />
<text x="375.65" y="186.96" font-size="3.4" fill="#222" text-anchor="middle" font-weight="bold" >Enrichment plot:</text>
<text x="375.65" y="191.56" font-size="3.4" fill="#222" text-anchor="middle" font-weight="bold" >HALLMARK_TNFA_SIGNALING_VIA_NFKB</text>
<rect x="341.50" y="193.50" width="72.70" height="63.80" fill="#ffffff" stroke="#888" stroke-width="0.4"/>
<rect x="337.90" y="195.10" width="3.00" height="0.80" fill="#b0b0b0" />
<rect x="337.90" y="198.84" width="3.00" height="0.80" fill="#b0b0b0" />
<rect x="337.90" y="202.59" width="3.00" height="0.80" fill="#b0b0b0" />
<rect x="337.90" y="206.33" width="3.00" height="0.80" fill="#b0b0b0" />
<rect x="337.90" y="210.07" width="3.00" height="0.80" fill="#b0b0b0" />
<rect x="337.90" y="213.81" width="3.00" height="0.80" fill="#b0b0b0" />
<rect x="337.90" y="217.56" width="3.00" height="0.80" fill="#b0b0b0" />
<rect x="337.90" y="221.30" width="3.00" height="0.80" fill="#b0b0b0" />
<text transform="translate(335.20,208.10) rotate(-90)" x="0" y="1.02" font-size="3" fill="#aaa" text-anchor="middle" >Enrichment score (ES)</text>
<text transform="translate(335.20,249.75) rotate(-90)" x="0" y="1.02" font-size="3" fill="#aaa" text-anchor="middle" >Ranked list metric (Signal2Noise)</text>
<path d="M341.50,212.48 L342.95,205.18 L345.13,197.00 L348.77,194.08 L356.04,193.50 L361.86,194.08 L370.58,197.00 L381.49,202.26 L392.39,208.68 L403.29,216.28 L410.56,221.24 L414.20,221.53" fill="none" stroke="#84c04a" stroke-width="0.7" />
<line x1="341.50" y1="222.70" x2="414.20" y2="222.70" stroke="#ccc" stroke-width="0.3" />
<rect x="342.00" y="223.60" width="0.38" height="10.60" fill="#111" />
<rect x="342.76" y="223.60" width="0.47" height="10.60" fill="#444" />
<rect x="343.69" y="223.60" width="0.44" height="10.60" fill="#222" />
<rect x="344.33" y="223.60" width="0.36" height="10.60" fill="#444" />
<rect x="345.23" y="223.60" width="0.54" height="10.60" fill="#111" />
<rect x="346.33" y="223.60" width="0.42" height="10.60" fill="#222" />
<rect x="347.35" y="223.60" width="0.38" height="10.60" fill="#333" />
<rect x="347.94" y="223.60" width="0.36" height="10.60" fill="#1a1a1a" />
<rect x="348.52" y="223.60" width="0.57" height="10.60" fill="#222" />
<rect x="349.83" y="223.60" width="0.53" height="10.60" fill="#1a1a1a" />
<rect x="350.57" y="223.60" width="0.46" height="10.60" fill="#444" />
<rect x="351.56" y="223.60" width="0.44" height="10.60" fill="#222" />
<rect x="352.70" y="223.60" width="0.59" height="10.60" fill="#111" />
<rect x="353.59" y="223.60" width="0.58" height="10.60" fill="#111" />
<rect x="354.30" y="223.60" width="0.60" height="10.60" fill="#333" />
<rect x="354.96" y="223.60" width="0.43" height="10.60" fill="#1a1a1a" />
<rect x="356.25" y="223.60" width="0.46" height="10.60" fill="#222" />
<rect x="357.05" y="223.60" width="0.50" height="10.60" fill="#444" />
<rect x="358.26" y="223.60" width="0.48" height="10.60" fill="#1a1a1a" />
<rect x="359.48" y="223.60" width="0.47" height="10.60" fill="#444" />
<rect x="360.36" y="223.60" width="0.39" height="10.60" fill="#1a1a1a" />
<rect x="361.60" y="223.60" width="0.54" height="10.60" fill="#333" />
<rect x="362.24" y="223.60" width="0.52" height="10.60" fill="#111" />
<rect x="363.40" y="223.60" width="0.48" height="10.60" fill="#444" />
<rect x="364.25" y="223.60" width="0.53" height="10.60" fill="#444" />
<rect x="364.86" y="223.60" width="0.53" height="10.60" fill="#1a1a1a" />
<rect x="365.88" y="223.60" width="0.45" height="10.60" fill="#222" />
<rect x="366.57" y="223.60" width="0.41" height="10.60" fill="#111" />
<rect x="367.73" y="223.60" width="0.48" height="10.60" fill="#1a1a1a" />
<rect x="368.48" y="223.60" width="0.48" height="10.60" fill="#1a1a1a" />
<rect x="369.32" y="223.60" width="0.58" height="10.60" fill="#1a1a1a" />
<rect x="370.35" y="223.60" width="0.53" height="10.60" fill="#444" />
<rect x="374.50" y="223.60" width="0.46" height="10.60" fill="#888" />
<rect x="375.82" y="223.60" width="0.41" height="10.60" fill="#666" />
<rect x="377.59" y="223.60" width="0.40" height="10.60" fill="#999" />
<rect x="378.96" y="223.60" width="0.34" height="10.60" fill="#666" />
<rect x="380.24" y="223.60" width="0.37" height="10.60" fill="#999" />
<rect x="381.03" y="223.60" width="0.41" height="10.60" fill="#999" />
<rect x="382.28" y="223.60" width="0.31" height="10.60" fill="#888" />
<rect x="383.72" y="223.60" width="0.41" height="10.60" fill="#888" />
<rect x="385.40" y="223.60" width="0.46" height="10.60" fill="#999" />
<rect x="386.21" y="223.60" width="0.49" height="10.60" fill="#777" />
<rect x="387.08" y="223.60" width="0.30" height="10.60" fill="#777" />
<rect x="389.00" y="223.60" width="0.46" height="10.60" fill="#444" />
<rect x="389.48" y="223.60" width="0.52" height="10.60" fill="#444" />
<rect x="390.06" y="223.60" width="0.43" height="10.60" fill="#444" />
<rect x="390.78" y="223.60" width="0.43" height="10.60" fill="#444" />
<rect x="392.00" y="223.60" width="0.36" height="10.60" fill="#aaa" />
<rect x="393.89" y="223.60" width="0.32" height="10.60" fill="#aaa" />
<rect x="395.62" y="223.60" width="0.38" height="10.60" fill="#999" />
<rect x="397.16" y="223.60" width="0.35" height="10.60" fill="#999" />
<rect x="399.76" y="223.60" width="0.39" height="10.60" fill="#888" />
<rect x="401.25" y="223.60" width="0.38" height="10.60" fill="#888" />
<rect x="403.48" y="223.60" width="0.33" height="10.60" fill="#777" />
<rect x="405.45" y="223.60" width="0.34" height="10.60" fill="#777" />
<rect x="406.93" y="223.60" width="0.43" height="10.60" fill="#777" />
<rect x="409.09" y="223.60" width="0.46" height="10.60" fill="#777" />
<rect x="410.32" y="223.60" width="0.36" height="10.60" fill="#999" />
<defs><linearGradient id="g332183" x1="0" x2="1"><stop offset="0" stop-color="#e0283a"/><stop offset="0.3" stop-color="#f07080"/><stop offset="0.5" stop-color="#f4e0ea"/><stop offset="0.7" stop-color="#9090d0"/><stop offset="1" stop-color="#2a2a90"/></linearGradient></defs>
<rect x="342.00" y="234.20" width="71.70" height="2.00" fill="url(#g332183)" />
<text x="343.50" y="242.51" font-size="5.9" fill="#d03040" >Scrambled</text>
<text x="412.20" y="242.61" font-size="6.2" fill="#3050a0" text-anchor="end" >shPIWIL4</text>
<defs><linearGradient id="g332183r" x1="0" x2="1"><stop offset="0" stop-color="#d4d4d4"/><stop offset="0.7" stop-color="#c4c4c4"/><stop offset="1" stop-color="#8a8a8a"/></linearGradient></defs>
<path d="M342.00,245.00 C363.31,245.80 385.12,246.20 413.70,246.40 L413.70,252.70 C409.20,248.70 385.12,247.60 342.00,246.80 Z" fill="url(#g332183r)" stroke="none" stroke-width="0.6" />
<line x1="341.50" y1="246.20" x2="414.20" y2="246.20" stroke="#aaa" stroke-width="0.3" />
<line x1="381.49" y1="255.80" x2="409.20" y2="255.80" stroke="#b8c0cc" stroke-width="0.3" />
<rect x="341.10" y="258.50" width="4.80" height="0.80" fill="#b8b8b8" />
<rect x="354.84" y="258.50" width="4.80" height="0.80" fill="#b8b8b8" />
<rect x="368.58" y="258.50" width="4.80" height="0.80" fill="#b8b8b8" />
<rect x="382.32" y="258.50" width="4.80" height="0.80" fill="#b8b8b8" />
<rect x="396.06" y="258.50" width="4.80" height="0.80" fill="#b8b8b8" />
<rect x="409.80" y="258.50" width="4.80" height="0.80" fill="#b8b8b8" />
<text x="377.85" y="262.69" font-size="3.2" fill="#555" text-anchor="middle" font-weight="bold" >Rank in ordered dataset</text>
<text x="377.85" y="266.25" font-size="2.8" fill="#aaa" text-anchor="middle" >— Enrichment profile  — Hits  — Ranking metric scores</text>
<text x="387.00" y="199.64" font-size="5.7" fill="#333" >NES = 2.1</text>
<text x="387.00" y="205.14" font-size="5.7" fill="#333"><tspan font-style="italic">P</tspan> &lt; .05</text>
<text x="387.00" y="210.74" font-size="5.7" fill="#333" >FDR< 0.05</text>
<rect x="419.30" y="183.50" width="81.10" height="83.50" fill="#eeeeee" />
<text x="461.85" y="186.96" font-size="3.4" fill="#222" text-anchor="middle" font-weight="bold" >Enrichment plot: EGYDOE_HYPOXIA_UP</text>
<rect x="426.30" y="189.00" width="72.50" height="66.40" fill="#ffffff" stroke="#888" stroke-width="0.4"/>
<rect x="422.70" y="190.60" width="3.00" height="0.80" fill="#b0b0b0" />
<rect x="422.70" y="194.71" width="3.00" height="0.80" fill="#b0b0b0" />
<rect x="422.70" y="198.83" width="3.00" height="0.80" fill="#b0b0b0" />
<rect x="422.70" y="202.94" width="3.00" height="0.80" fill="#b0b0b0" />
<rect x="422.70" y="207.06" width="3.00" height="0.80" fill="#b0b0b0" />
<rect x="422.70" y="211.17" width="3.00" height="0.80" fill="#b0b0b0" />
<rect x="422.70" y="215.29" width="3.00" height="0.80" fill="#b0b0b0" />
<rect x="422.70" y="219.40" width="3.00" height="0.80" fill="#b0b0b0" />
<text transform="translate(421.80,204.90) rotate(-90)" x="0" y="1.02" font-size="3" fill="#aaa" text-anchor="middle" >Enrichment score (ES)</text>
<text transform="translate(421.80,248.00) rotate(-90)" x="0" y="1.02" font-size="3" fill="#aaa" text-anchor="middle" >Ranked list metric (Signal2Noise)</text>
<path d="M426.30,206.49 L428.48,203.31 L430.65,200.13 L432.10,192.18 L435.00,189.64 L439.35,189.00 L444.43,192.18 L451.68,194.72 L462.55,201.08 L473.43,208.08 L484.30,214.44 L491.55,216.98 L498.80,220.16" fill="none" stroke="#84c04a" stroke-width="0.7" />
<line x1="426.30" y1="220.80" x2="498.80" y2="220.80" stroke="#ccc" stroke-width="0.3" />
<rect x="426.20" y="221.70" width="0.79" height="10.60" fill="#111" />
<rect x="426.60" y="221.70" width="0.61" height="10.60" fill="#111" />
<rect x="427.32" y="221.70" width="0.70" height="10.60" fill="#111" />
<rect x="429.80" y="221.70" width="0.56" height="10.60" fill="#111" />
<rect x="430.44" y="221.70" width="0.55" height="10.60" fill="#222" />
<rect x="431.11" y="221.70" width="0.74" height="10.60" fill="#222" />
<rect x="431.73" y="221.70" width="0.63" height="10.60" fill="#222" />
<rect x="434.20" y="221.70" width="0.66" height="10.60" fill="#999" />
<rect x="435.37" y="221.70" width="0.50" height="10.60" fill="#999" />
<rect x="436.49" y="221.70" width="0.67" height="10.60" fill="#888" />
<rect x="437.75" y="221.70" width="0.47" height="10.60" fill="#888" />
<rect x="443.70" y="221.70" width="0.43" height="10.60" fill="#999" />
<rect x="445.10" y="221.70" width="0.53" height="10.60" fill="#777" />
<rect x="452.50" y="221.70" width="0.49" height="10.60" fill="#aaa" />
<rect x="453.69" y="221.70" width="0.58" height="10.60" fill="#aaa" />
<rect x="456.00" y="221.70" width="0.51" height="10.60" fill="#888" />
<rect x="456.73" y="221.70" width="0.63" height="10.60" fill="#888" />
<rect x="457.85" y="221.70" width="0.47" height="10.60" fill="#888" />
<rect x="459.19" y="221.70" width="0.55" height="10.60" fill="#888" />
<rect x="465.70" y="221.70" width="0.49" height="10.60" fill="#aaa" />
<rect x="466.58" y="221.70" width="0.55" height="10.60" fill="#aaa" />
<rect x="467.57" y="221.70" width="0.44" height="10.60" fill="#aaa" />
<rect x="471.00" y="221.70" width="0.57" height="10.60" fill="#bbb" />
<rect x="472.22" y="221.70" width="0.50" height="10.60" fill="#bbb" />
<rect x="476.00" y="221.70" width="0.44" height="10.60" fill="#bbb" />
<rect x="477.02" y="221.70" width="0.34" height="10.60" fill="#bbb" />
<rect x="480.00" y="221.70" width="0.42" height="10.60" fill="#aaa" />
<rect x="481.47" y="221.70" width="0.37" height="10.60" fill="#aaa" />
<rect x="488.30" y="221.70" width="0.44" height="10.60" fill="#999" />
<rect x="489.08" y="221.70" width="0.53" height="10.60" fill="#aaa" />
<rect x="490.36" y="221.70" width="0.54" height="10.60" fill="#999" />
<defs><linearGradient id="g419183" x1="0" x2="1"><stop offset="0" stop-color="#e0283a"/><stop offset="0.3" stop-color="#f07080"/><stop offset="0.5" stop-color="#f4e0ea"/><stop offset="0.7" stop-color="#9090d0"/><stop offset="1" stop-color="#2a2a90"/></linearGradient></defs>
<rect x="426.80" y="232.30" width="71.50" height="2.30" fill="url(#g419183)" />
<text x="428.30" y="240.91" font-size="5.9" fill="#d03040" >Scrambled</text>
<text x="496.80" y="241.01" font-size="6.2" fill="#3050a0" text-anchor="end" >shPIWIL4</text>
<defs><linearGradient id="g419183r" x1="0" x2="1"><stop offset="0" stop-color="#d4d4d4"/><stop offset="0.7" stop-color="#c4c4c4"/><stop offset="1" stop-color="#8a8a8a"/></linearGradient></defs>
<path d="M426.80,243.40 C448.05,244.20 469.80,244.60 498.30,244.80 L498.30,251.10 C493.80,247.10 469.80,246.00 426.80,245.20 Z" fill="url(#g419183r)" stroke="none" stroke-width="0.6" />
<line x1="426.30" y1="244.60" x2="498.80" y2="244.60" stroke="#aaa" stroke-width="0.3" />
<line x1="466.18" y1="253.90" x2="493.80" y2="253.90" stroke="#b8c0cc" stroke-width="0.3" />
<rect x="425.90" y="256.60" width="4.80" height="0.80" fill="#b8b8b8" />
<rect x="439.60" y="256.60" width="4.80" height="0.80" fill="#b8b8b8" />
<rect x="453.30" y="256.60" width="4.80" height="0.80" fill="#b8b8b8" />
<rect x="467.00" y="256.60" width="4.80" height="0.80" fill="#b8b8b8" />
<rect x="480.70" y="256.60" width="4.80" height="0.80" fill="#b8b8b8" />
<rect x="494.40" y="256.60" width="4.80" height="0.80" fill="#b8b8b8" />
<text x="462.55" y="260.79" font-size="3.2" fill="#555" text-anchor="middle" font-weight="bold" >Rank in ordered dataset</text>
<text x="462.55" y="264.35" font-size="2.8" fill="#aaa" text-anchor="middle" >— Enrichment profile  — Hits  — Ranking metric scores</text>
<text x="472.00" y="195.74" font-size="5.7" fill="#333" >NES = 2.1</text>
<text x="472.00" y="201.14" font-size="5.7" fill="#333"><tspan font-style="italic">P</tspan> &lt; .05</text>
<text x="472.00" y="206.74" font-size="5.7" fill="#333" >FDR< 0.05</text>
<rect x="332.70" y="269.50" width="81.90" height="89.70" fill="#eeeeee" />
<text x="375.65" y="273.86" font-size="3.4" fill="#222" text-anchor="middle" font-weight="bold" >Enrichment plot: GENTLES_LEUKEMIC_STEM</text>
<text x="375.65" y="277.66" font-size="3.4" fill="#222" text-anchor="middle" font-weight="bold" >CELL_UP</text>
<rect x="341.50" y="279.40" width="73.10" height="70.20" fill="#ffffff" stroke="#888" stroke-width="0.4"/>
<rect x="337.90" y="281.00" width="3.00" height="0.80" fill="#b0b0b0" />
<rect x="337.90" y="285.09" width="3.00" height="0.80" fill="#b0b0b0" />
<rect x="337.90" y="289.17" width="3.00" height="0.80" fill="#b0b0b0" />
<rect x="337.90" y="293.26" width="3.00" height="0.80" fill="#b0b0b0" />
<rect x="337.90" y="297.34" width="3.00" height="0.80" fill="#b0b0b0" />
<rect x="337.90" y="301.43" width="3.00" height="0.80" fill="#b0b0b0" />
<rect x="337.90" y="305.51" width="3.00" height="0.80" fill="#b0b0b0" />
<rect x="337.90" y="309.60" width="3.00" height="0.80" fill="#b0b0b0" />
<text transform="translate(335.20,295.20) rotate(-90)" x="0" y="1.02" font-size="3" fill="#aaa" text-anchor="middle" >Enrichment score (ES)</text>
<text transform="translate(335.20,340.40) rotate(-90)" x="0" y="1.02" font-size="3" fill="#aaa" text-anchor="middle" >Ranked list metric (Signal2Noise)</text>
<path d="M341.50,309.42 L343.69,298.36 L345.89,292.04 L348.81,285.72 L352.47,280.35 L356.12,279.40 L363.43,280.98 L370.74,284.14 L381.71,291.41 L392.67,296.78 L399.98,298.36 L407.29,303.10 L414.60,308.79" fill="none" stroke="#84c04a" stroke-width="0.7" />
<line x1="341.50" y1="311.00" x2="414.60" y2="311.00" stroke="#ccc" stroke-width="0.3" />
<rect x="342.20" y="312.00" width="0.45" height="10.30" fill="#999" />
<rect x="343.10" y="312.00" width="0.52" height="10.30" fill="#999" />
<rect x="344.18" y="312.00" width="0.58" height="10.30" fill="#aaa" />
<rect x="345.80" y="312.00" width="0.45" height="10.30" fill="#999" />
<rect x="346.83" y="312.00" width="0.51" height="10.30" fill="#999" />
<rect x="348.80" y="312.00" width="0.43" height="10.30" fill="#888" />
<rect x="350.09" y="312.00" width="0.50" height="10.30" fill="#888" />
<rect x="353.90" y="312.00" width="0.41" height="10.30" fill="#999" />
<rect x="354.74" y="312.00" width="0.41" height="10.30" fill="#aaa" />
<rect x="355.72" y="312.00" width="0.54" height="10.30" fill="#aaa" />
<rect x="361.20" y="312.00" width="0.58" height="10.30" fill="#aaa" />
<rect x="362.38" y="312.00" width="0.52" height="10.30" fill="#aaa" />
<rect x="375.00" y="312.00" width="0.42" height="10.30" fill="#aaa" />
<rect x="376.00" y="312.00" width="0.45" height="10.30" fill="#bbb" />
<rect x="379.50" y="312.00" width="0.57" height="10.30" fill="#aaa" />
<rect x="380.51" y="312.00" width="0.48" height="10.30" fill="#aaa" />
<rect x="381.53" y="312.00" width="0.48" height="10.30" fill="#999" />
<rect x="389.00" y="312.00" width="0.54" height="10.30" fill="#888" />
<rect x="390.29" y="312.00" width="0.60" height="10.30" fill="#888" />
<rect x="391.44" y="312.00" width="0.47" height="10.30" fill="#888" />
<rect x="394.80" y="312.00" width="0.44" height="10.30" fill="#bbb" />
<rect x="395.63" y="312.00" width="0.41" height="10.30" fill="#bbb" />
<rect x="396.30" y="312.00" width="0.56" height="10.30" fill="#bbb" />
<rect x="397.62" y="312.00" width="0.40" height="10.30" fill="#bbb" />
<rect x="402.00" y="312.00" width="0.57" height="10.30" fill="#bbb" />
<rect x="403.08" y="312.00" width="0.55" height="10.30" fill="#bbb" />
<defs><linearGradient id="g332269" x1="0" x2="1"><stop offset="0" stop-color="#e0283a"/><stop offset="0.3" stop-color="#f07080"/><stop offset="0.5" stop-color="#f4e0ea"/><stop offset="0.7" stop-color="#9090d0"/><stop offset="1" stop-color="#2a2a90"/></linearGradient></defs>
<rect x="342.00" y="322.30" width="72.10" height="2.90" fill="url(#g332269)" />
<text x="343.50" y="331.51" font-size="5.9" fill="#d03040" >Scrambled</text>
<text x="412.60" y="331.61" font-size="6.2" fill="#3050a0" text-anchor="end" >shPIWIL4</text>
<defs><linearGradient id="g332269r" x1="0" x2="1"><stop offset="0" stop-color="#d4d4d4"/><stop offset="0.7" stop-color="#c4c4c4"/><stop offset="1" stop-color="#8a8a8a"/></linearGradient></defs>
<path d="M342.00,334.00 C363.43,334.80 385.36,335.20 414.10,335.40 L414.10,341.70 C409.60,337.70 385.36,336.60 342.00,335.80 Z" fill="url(#g332269r)" stroke="none" stroke-width="0.6" />
<line x1="341.50" y1="335.20" x2="414.60" y2="335.20" stroke="#aaa" stroke-width="0.3" />
<line x1="381.71" y1="348.10" x2="409.60" y2="348.10" stroke="#b8c0cc" stroke-width="0.3" />
<rect x="341.10" y="350.80" width="4.80" height="0.80" fill="#b8b8b8" />
<rect x="354.92" y="350.80" width="4.80" height="0.80" fill="#b8b8b8" />
<rect x="368.74" y="350.80" width="4.80" height="0.80" fill="#b8b8b8" />
<rect x="382.56" y="350.80" width="4.80" height="0.80" fill="#b8b8b8" />
<rect x="396.38" y="350.80" width="4.80" height="0.80" fill="#b8b8b8" />
<rect x="410.20" y="350.80" width="4.80" height="0.80" fill="#b8b8b8" />
<text x="378.05" y="354.99" font-size="3.2" fill="#555" text-anchor="middle" font-weight="bold" >Rank in ordered dataset</text>
<text x="378.05" y="358.55" font-size="2.8" fill="#aaa" text-anchor="middle" >— Enrichment profile  — Hits  — Ranking metric scores</text>
<text x="383.80" y="286.14" font-size="5.7" fill="#333" >NES = 1.74</text>
<text x="383.80" y="291.54" font-size="5.7" fill="#333"><tspan font-style="italic">P</tspan> &lt; .05</text>
<text x="383.80" y="297.14" font-size="5.7" fill="#333" >FDR< 0.05</text>
<rect x="419.30" y="271.50" width="81.10" height="86.50" fill="#eeeeee" />
<text x="461.85" y="277.66" font-size="3.4" fill="#222" text-anchor="middle" font-weight="bold" >Enrichment plot: REACTOME_DNA_</text>
<text x="461.85" y="281.96" font-size="3.4" fill="#222" text-anchor="middle" font-weight="bold" >DOUBLE_STRAND_BREAK_REPAIR</text>
<rect x="426.70" y="283.30" width="73.10" height="66.30" fill="#ffffff" stroke="#888" stroke-width="0.4"/>
<rect x="423.10" y="284.90" width="3.00" height="0.80" fill="#b0b0b0" />
<rect x="423.10" y="288.71" width="3.00" height="0.80" fill="#b0b0b0" />
<rect x="423.10" y="292.53" width="3.00" height="0.80" fill="#b0b0b0" />
<rect x="423.10" y="296.34" width="3.00" height="0.80" fill="#b0b0b0" />
<rect x="423.10" y="300.16" width="3.00" height="0.80" fill="#b0b0b0" />
<rect x="423.10" y="303.97" width="3.00" height="0.80" fill="#b0b0b0" />
<rect x="423.10" y="307.79" width="3.00" height="0.80" fill="#b0b0b0" />
<rect x="423.10" y="311.60" width="3.00" height="0.80" fill="#b0b0b0" />
<text transform="translate(421.80,298.15) rotate(-90)" x="0" y="1.02" font-size="3" fill="#aaa" text-anchor="middle" >Enrichment score (ES)</text>
<text transform="translate(421.80,341.05) rotate(-90)" x="0" y="1.02" font-size="3" fill="#aaa" text-anchor="middle" >Ranked list metric (Signal2Noise)</text>
<path d="M426.70,283.30 L434.01,286.86 L444.98,293.69 L455.94,301.12 L466.90,307.65 L474.22,310.92 L479.33,312.11 L483.72,310.03 L488.84,304.09 L492.49,299.63 L496.14,293.69 L498.34,285.68 L499.80,283.30" fill="none" stroke="#84c04a" stroke-width="0.7" />
<line x1="426.70" y1="313.00" x2="499.80" y2="313.00" stroke="#ccc" stroke-width="0.3" />
<rect x="431.30" y="314.00" width="0.45" height="9.70" fill="#888" />
<rect x="432.59" y="314.00" width="0.50" height="9.70" fill="#888" />
<rect x="433.31" y="314.00" width="0.48" height="9.70" fill="#999" />
<rect x="434.68" y="314.00" width="0.55" height="9.70" fill="#888" />
<rect x="439.40" y="314.00" width="0.47" height="9.70" fill="#999" />
<rect x="440.66" y="314.00" width="0.45" height="9.70" fill="#999" />
<rect x="442.30" y="314.00" width="0.56" height="9.70" fill="#999" />
<rect x="443.21" y="314.00" width="0.46" height="9.70" fill="#aaa" />
<rect x="444.76" y="314.00" width="0.59" height="9.70" fill="#999" />
<rect x="445.56" y="314.00" width="0.52" height="9.70" fill="#aaa" />
<rect x="446.65" y="314.00" width="0.45" height="9.70" fill="#888" />
<rect x="450.30" y="314.00" width="0.42" height="9.70" fill="#aaa" />
<rect x="450.91" y="314.00" width="0.46" height="9.70" fill="#aaa" />
<rect x="461.30" y="314.00" width="0.45" height="9.70" fill="#888" />
<rect x="462.15" y="314.00" width="0.41" height="9.70" fill="#888" />
<rect x="462.80" y="314.00" width="0.41" height="9.70" fill="#555" />
<rect x="463.40" y="314.00" width="0.44" height="9.70" fill="#777" />
<rect x="464.31" y="314.00" width="0.48" height="9.70" fill="#777" />
<rect x="464.96" y="314.00" width="0.48" height="9.70" fill="#555" />
<rect x="465.79" y="314.00" width="0.39" height="9.70" fill="#888" />
<rect x="466.53" y="314.00" width="0.42" height="9.70" fill="#444" />
<rect x="467.30" y="314.00" width="0.46" height="9.70" fill="#777" />
<rect x="467.92" y="314.00" width="0.36" height="9.70" fill="#666" />
<rect x="468.66" y="314.00" width="0.47" height="9.70" fill="#666" />
<rect x="469.29" y="314.00" width="0.54" height="9.70" fill="#777" />
<rect x="470.16" y="314.00" width="0.36" height="9.70" fill="#555" />
<rect x="471.34" y="314.00" width="0.54" height="9.70" fill="#777" />
<rect x="471.89" y="314.00" width="0.41" height="9.70" fill="#666" />
<rect x="472.99" y="314.00" width="0.43" height="9.70" fill="#444" />
<rect x="474.02" y="314.00" width="0.37" height="9.70" fill="#444" />
<rect x="474.70" y="314.00" width="0.44" height="9.70" fill="#666" />
<rect x="475.42" y="314.00" width="0.47" height="9.70" fill="#666" />
<rect x="476.20" y="314.00" width="0.35" height="9.70" fill="#555" />
<rect x="477.07" y="314.00" width="0.42" height="9.70" fill="#777" />
<rect x="478.32" y="314.00" width="0.46" height="9.70" fill="#888" />
<rect x="479.57" y="314.00" width="0.43" height="9.70" fill="#666" />
<rect x="479.60" y="314.00" width="0.41" height="9.70" fill="#222" />
<rect x="480.46" y="314.00" width="0.59" height="9.70" fill="#111" />
<rect x="481.29" y="314.00" width="0.52" height="9.70" fill="#333" />
<rect x="482.41" y="314.00" width="0.42" height="9.70" fill="#333" />
<rect x="483.38" y="314.00" width="0.48" height="9.70" fill="#222" />
<rect x="484.17" y="314.00" width="0.45" height="9.70" fill="#444" />
<rect x="484.97" y="314.00" width="0.44" height="9.70" fill="#444" />
<rect x="485.60" y="314.00" width="0.58" height="9.70" fill="#222" />
<rect x="486.40" y="314.00" width="0.41" height="9.70" fill="#333" />
<rect x="487.05" y="314.00" width="0.51" height="9.70" fill="#222" />
<rect x="487.79" y="314.00" width="0.45" height="9.70" fill="#333" />
<rect x="488.31" y="314.00" width="0.59" height="9.70" fill="#111" />
<rect x="489.42" y="314.00" width="0.48" height="9.70" fill="#111" />
<rect x="490.22" y="314.00" width="0.42" height="9.70" fill="#222" />
<rect x="491.29" y="314.00" width="0.51" height="9.70" fill="#222" />
<rect x="491.99" y="314.00" width="0.53" height="9.70" fill="#333" />
<rect x="492.99" y="314.00" width="0.51" height="9.70" fill="#333" />
<rect x="493.68" y="314.00" width="0.48" height="9.70" fill="#444" />
<rect x="494.21" y="314.00" width="0.59" height="9.70" fill="#222" />
<rect x="494.72" y="314.00" width="0.58" height="9.70" fill="#222" />
<defs><linearGradient id="g419271" x1="0" x2="1"><stop offset="0" stop-color="#e0283a"/><stop offset="0.3" stop-color="#f07080"/><stop offset="0.5" stop-color="#f4e0ea"/><stop offset="0.7" stop-color="#9090d0"/><stop offset="1" stop-color="#2a2a90"/></linearGradient></defs>
<rect x="427.20" y="323.70" width="72.10" height="2.80" fill="url(#g419271)" />
<text x="428.70" y="332.81" font-size="5.9" fill="#d03040" >Scrambled</text>
<text x="497.80" y="332.91" font-size="6.2" fill="#3050a0" text-anchor="end" >shPIWIL4</text>
<defs><linearGradient id="g419271r" x1="0" x2="1"><stop offset="0" stop-color="#d4d4d4"/><stop offset="0.7" stop-color="#c4c4c4"/><stop offset="1" stop-color="#8a8a8a"/></linearGradient></defs>
<path d="M427.20,335.30 C448.63,336.10 470.56,336.50 499.30,336.70 L499.30,343.00 C494.80,339.00 470.56,337.90 427.20,337.10 Z" fill="url(#g419271r)" stroke="none" stroke-width="0.6" />
<line x1="426.70" y1="336.50" x2="499.80" y2="336.50" stroke="#aaa" stroke-width="0.3" />
<line x1="466.90" y1="348.10" x2="494.80" y2="348.10" stroke="#b8c0cc" stroke-width="0.3" />
<rect x="426.30" y="350.80" width="4.80" height="0.80" fill="#b8b8b8" />
<rect x="440.12" y="350.80" width="4.80" height="0.80" fill="#b8b8b8" />
<rect x="453.94" y="350.80" width="4.80" height="0.80" fill="#b8b8b8" />
<rect x="467.76" y="350.80" width="4.80" height="0.80" fill="#b8b8b8" />
<rect x="481.58" y="350.80" width="4.80" height="0.80" fill="#b8b8b8" />
<rect x="495.40" y="350.80" width="4.80" height="0.80" fill="#b8b8b8" />
<text x="463.25" y="354.99" font-size="3.2" fill="#555" text-anchor="middle" font-weight="bold" >Rank in ordered dataset</text>
<text x="463.25" y="358.55" font-size="2.8" fill="#aaa" text-anchor="middle" >— Enrichment profile  — Hits  — Ranking metric scores</text>
<text x="470.40" y="290.44" font-size="5.7" fill="#333" >NES = 2.1</text>
<text x="470.40" y="296.14" font-size="5.7" fill="#333"><tspan font-style="italic">P</tspan> &lt; .05</text>
<text x="470.40" y="301.94" font-size="5.7" fill="#333" >FDR< 0.05</text>
<defs><filter id="bl1" x="-20%" y="-20%" width="140%" height="140%"><feGaussianBlur stdDeviation="0.45"/></filter><filter id="bl0" x="-20%" y="-20%" width="140%" height="140%"><feGaussianBlur stdDeviation="0.7"/></filter><filter id="bl2" x="-50%" y="-50%" width="200%" height="200%"><feGaussianBlur stdDeviation="1.2"/></filter><filter id="bl3" x="-50%" y="-50%" width="200%" height="200%"><feGaussianBlur stdDeviation="2.5"/></filter></defs>
<rect x="65.50" y="423.00" width="151.00" height="90.80" fill="#8c8c8c" />
<clipPath id="gc00"><rect x="65.5" y="423" width="49.6" height="44.5"/></clipPath>
<rect x="65.50" y="423.00" width="49.60" height="44.50" fill="#05050c" />
<g clip-path="url(#gc00)"><g filter="url(#bl0)">
<ellipse cx="79.8" cy="420.3" rx="4.2" ry="3.6" transform="rotate(37 79.8 420.3)" fill="#3040ac"/>
<ellipse cx="92.8" cy="419.7" rx="3.4" ry="3.1" transform="rotate(8 92.8 419.7)" fill="#3a4cbc"/>
<ellipse cx="99.8" cy="422.2" rx="3.7" ry="3.1" transform="rotate(13 99.8 422.2)" fill="#3a4cbc"/>
<ellipse cx="106.8" cy="420.2" rx="3.5" ry="2.7" transform="rotate(-25 106.8 420.2)" fill="#2a389a"/>
<ellipse cx="114.4" cy="421.4" rx="4.6" ry="2.9" transform="rotate(-27 114.4 421.4)" fill="#3648b6"/>
<ellipse cx="75.7" cy="427.6" rx="3.6" ry="3.4" transform="rotate(-16 75.7 427.6)" fill="#3a4cbc"/>
<ellipse cx="98.0" cy="426.2" rx="3.8" ry="3.4" transform="rotate(-38 98.0 426.2)" fill="#3648b6"/>
<ellipse cx="111.0" cy="426.0" rx="4.2" ry="3.2" transform="rotate(-6 111.0 426.0)" fill="#3648b6"/>
<ellipse cx="62.1" cy="434.6" rx="3.2" ry="3.3" transform="rotate(-18 62.1 434.6)" fill="#3a4cbc"/>
<ellipse cx="79.2" cy="432.1" rx="4.3" ry="2.7" transform="rotate(-4 79.2 432.1)" fill="#2a389a"/>
<ellipse cx="86.0" cy="432.2" rx="3.7" ry="3.3" transform="rotate(46 86.0 432.2)" fill="#2a389a"/>
<ellipse cx="94.1" cy="432.5" rx="4.0" ry="3.4" transform="rotate(-34 94.1 432.5)" fill="#3040ac"/>
<ellipse cx="65.8" cy="438.4" rx="3.6" ry="3.5" transform="rotate(-40 65.8 438.4)" fill="#3648b6"/>
<ellipse cx="76.0" cy="440.0" rx="3.9" ry="2.6" transform="rotate(-31 76.0 440.0)" fill="#2a389a"/>
<ellipse cx="83.2" cy="440.8" rx="3.7" ry="3.0" transform="rotate(-20 83.2 440.8)" fill="#2e3ca4"/>
<ellipse cx="87.8" cy="439.3" rx="4.4" ry="2.9" transform="rotate(48 87.8 439.3)" fill="#3a4cbc"/>
<ellipse cx="104.1" cy="441.0" rx="3.2" ry="3.4" transform="rotate(-43 104.1 441.0)" fill="#3040ac"/>
<ellipse cx="61.8" cy="445.1" rx="4.2" ry="3.7" transform="rotate(-50 61.8 445.1)" fill="#2e3ca4"/>
<ellipse cx="69.8" cy="447.1" rx="4.3" ry="2.7" transform="rotate(35 69.8 447.1)" fill="#2a389a"/>
<ellipse cx="79.4" cy="444.7" rx="4.2" ry="3.6" transform="rotate(6 79.4 444.7)" fill="#3a4cbc"/>
<ellipse cx="86.8" cy="447.1" rx="3.3" ry="3.6" transform="rotate(-18 86.8 447.1)" fill="#3648b6"/>
<ellipse cx="94.9" cy="445.3" rx="3.5" ry="2.7" transform="rotate(-37 94.9 445.3)" fill="#2e3ca4"/>
<ellipse cx="67.4" cy="451.4" rx="4.4" ry="2.8" transform="rotate(-14 67.4 451.4)" fill="#3040ac"/>
<ellipse cx="73.6" cy="452.1" rx="3.6" ry="3.0" transform="rotate(-11 73.6 452.1)" fill="#3040ac"/>
<ellipse cx="83.5" cy="452.0" rx="4.2" ry="3.7" transform="rotate(12 83.5 452.0)" fill="#2e3ca4"/>
<ellipse cx="88.6" cy="452.7" rx="3.9" ry="3.4" transform="rotate(-26 88.6 452.7)" fill="#3648b6"/>
<ellipse cx="63.7" cy="458.6" rx="4.3" ry="3.4" transform="rotate(4 63.7 458.6)" fill="#2e3ca4"/>
<ellipse cx="71.4" cy="458.3" rx="3.8" ry="2.8" transform="rotate(1 71.4 458.3)" fill="#2a389a"/>
<ellipse cx="78.8" cy="459.5" rx="3.4" ry="2.9" transform="rotate(-47 78.8 459.5)" fill="#2e3ca4"/>
<ellipse cx="92.3" cy="459.7" rx="4.3" ry="2.7" transform="rotate(-24 92.3 459.7)" fill="#2e3ca4"/>
<ellipse cx="67.1" cy="464.1" rx="4.6" ry="3.4" transform="rotate(-40 67.1 464.1)" fill="#3648b6"/>
<ellipse cx="73.9" cy="464.5" rx="4.7" ry="2.8" transform="rotate(-6 73.9 464.5)" fill="#3040ac"/>
<ellipse cx="80.8" cy="463.5" rx="3.7" ry="2.8" transform="rotate(-10 80.8 463.5)" fill="#2e3ca4"/>
<ellipse cx="90.7" cy="463.8" rx="4.1" ry="3.5" transform="rotate(22 90.7 463.8)" fill="#3648b6"/>
</g></g>
<clipPath id="gc01"><rect x="116.5" y="423" width="49.6" height="44.5"/></clipPath>
<rect x="116.50" y="423.00" width="49.60" height="44.50" fill="#05050c" />
<g clip-path="url(#gc01)"><g filter="url(#bl0)">
<circle cx="139.8" cy="457.0" r="0.68" fill="#5a1410"/>
<circle cx="161.9" cy="450.4" r="0.64" fill="#7a2016"/>
<circle cx="141.5" cy="462.2" r="0.40" fill="#4a100c"/>
<circle cx="140.5" cy="455.2" r="0.59" fill="#5a1410"/>
<circle cx="126.2" cy="433.8" r="0.49" fill="#4a100c"/>
<circle cx="139.4" cy="456.8" r="0.58" fill="#4a100c"/>
<circle cx="122.2" cy="435.8" r="0.61" fill="#7a2016"/>
<circle cx="119.9" cy="437.1" r="0.44" fill="#5a1410"/>
<circle cx="136.9" cy="459.5" r="0.44" fill="#6a1812"/>
<circle cx="118.4" cy="438.2" r="0.64" fill="#4a100c"/>
<circle cx="162.9" cy="450.3" r="0.59" fill="#6a1812"/>
<circle cx="145.2" cy="457.8" r="0.62" fill="#6a1812"/>
<circle cx="154.7" cy="452.9" r="0.54" fill="#5a1410"/>
<circle cx="114.9" cy="438.1" r="0.76" fill="#7a2016"/>
<circle cx="161.2" cy="452.7" r="0.78" fill="#5a1410"/>
<circle cx="140.3" cy="457.6" r="0.46" fill="#6a1812"/>
<circle cx="143.1" cy="460.1" r="0.45" fill="#7a2016"/>
<circle cx="120.4" cy="440.2" r="0.36" fill="#7a2016"/>
</g></g>
<clipPath id="gc02"><rect x="167.3" y="423" width="49.6" height="44.5"/></clipPath>
<rect x="167.30" y="423.00" width="49.60" height="44.50" fill="#05050c" />
<g clip-path="url(#gc02)"><g filter="url(#bl0)">
<ellipse cx="181.6" cy="420.3" rx="4.2" ry="3.6" transform="rotate(37 181.6 420.3)" fill="#3040ac"/>
<ellipse cx="194.6" cy="419.7" rx="3.4" ry="3.1" transform="rotate(8 194.6 419.7)" fill="#3a4cbc"/>
<ellipse cx="201.6" cy="422.2" rx="3.7" ry="3.1" transform="rotate(13 201.6 422.2)" fill="#3a4cbc"/>
<ellipse cx="208.6" cy="420.2" rx="3.5" ry="2.7" transform="rotate(-25 208.6 420.2)" fill="#2a389a"/>
<ellipse cx="216.2" cy="421.4" rx="4.6" ry="2.9" transform="rotate(-27 216.2 421.4)" fill="#3648b6"/>
<ellipse cx="177.5" cy="427.6" rx="3.6" ry="3.4" transform="rotate(-16 177.5 427.6)" fill="#3a4cbc"/>
<ellipse cx="199.8" cy="426.2" rx="3.8" ry="3.4" transform="rotate(-38 199.8 426.2)" fill="#3648b6"/>
<ellipse cx="212.8" cy="426.0" rx="4.2" ry="3.2" transform="rotate(-6 212.8 426.0)" fill="#3648b6"/>
<ellipse cx="163.9" cy="434.6" rx="3.2" ry="3.3" transform="rotate(-18 163.9 434.6)" fill="#3a4cbc"/>
<ellipse cx="181.0" cy="432.1" rx="4.3" ry="2.7" transform="rotate(-4 181.0 432.1)" fill="#2a389a"/>
<ellipse cx="187.8" cy="432.2" rx="3.7" ry="3.3" transform="rotate(46 187.8 432.2)" fill="#2a389a"/>
<ellipse cx="195.9" cy="432.5" rx="4.0" ry="3.4" transform="rotate(-34 195.9 432.5)" fill="#3040ac"/>
<ellipse cx="167.6" cy="438.4" rx="3.6" ry="3.5" transform="rotate(-40 167.6 438.4)" fill="#3648b6"/>
<ellipse cx="177.8" cy="440.0" rx="3.9" ry="2.6" transform="rotate(-31 177.8 440.0)" fill="#2a389a"/>
<ellipse cx="185.0" cy="440.8" rx="3.7" ry="3.0" transform="rotate(-20 185.0 440.8)" fill="#2e3ca4"/>
<ellipse cx="189.6" cy="439.3" rx="4.4" ry="2.9" transform="rotate(48 189.6 439.3)" fill="#3a4cbc"/>
<ellipse cx="205.9" cy="441.0" rx="3.2" ry="3.4" transform="rotate(-43 205.9 441.0)" fill="#3040ac"/>
<ellipse cx="163.6" cy="445.1" rx="4.2" ry="3.7" transform="rotate(-50 163.6 445.1)" fill="#2e3ca4"/>
<ellipse cx="171.6" cy="447.1" rx="4.3" ry="2.7" transform="rotate(35 171.6 447.1)" fill="#2a389a"/>
<ellipse cx="181.2" cy="444.7" rx="4.2" ry="3.6" transform="rotate(6 181.2 444.7)" fill="#3a4cbc"/>
<ellipse cx="188.6" cy="447.1" rx="3.3" ry="3.6" transform="rotate(-18 188.6 447.1)" fill="#3648b6"/>
<ellipse cx="196.7" cy="445.3" rx="3.5" ry="2.7" transform="rotate(-37 196.7 445.3)" fill="#2e3ca4"/>
<ellipse cx="169.2" cy="451.4" rx="4.4" ry="2.8" transform="rotate(-14 169.2 451.4)" fill="#3040ac"/>
<ellipse cx="175.4" cy="452.1" rx="3.6" ry="3.0" transform="rotate(-11 175.4 452.1)" fill="#3040ac"/>
<ellipse cx="185.3" cy="452.0" rx="4.2" ry="3.7" transform="rotate(12 185.3 452.0)" fill="#2e3ca4"/>
<ellipse cx="190.4" cy="452.7" rx="3.9" ry="3.4" transform="rotate(-26 190.4 452.7)" fill="#3648b6"/>
<ellipse cx="165.5" cy="458.6" rx="4.3" ry="3.4" transform="rotate(4 165.5 458.6)" fill="#2e3ca4"/>
<ellipse cx="173.2" cy="458.3" rx="3.8" ry="2.8" transform="rotate(1 173.2 458.3)" fill="#2a389a"/>
<ellipse cx="180.6" cy="459.5" rx="3.4" ry="2.9" transform="rotate(-47 180.6 459.5)" fill="#2e3ca4"/>
<ellipse cx="194.1" cy="459.7" rx="4.3" ry="2.7" transform="rotate(-24 194.1 459.7)" fill="#2e3ca4"/>
<ellipse cx="168.9" cy="464.1" rx="4.6" ry="3.4" transform="rotate(-40 168.9 464.1)" fill="#3648b6"/>
<ellipse cx="175.7" cy="464.5" rx="4.7" ry="2.8" transform="rotate(-6 175.7 464.5)" fill="#3040ac"/>
<ellipse cx="182.6" cy="463.5" rx="3.7" ry="2.8" transform="rotate(-10 182.6 463.5)" fill="#2e3ca4"/>
<ellipse cx="192.5" cy="463.8" rx="4.1" ry="3.5" transform="rotate(22 192.5 463.8)" fill="#3648b6"/>
<circle cx="190.6" cy="457.0" r="0.48" fill="#7a2a60"/>
<circle cx="212.7" cy="450.4" r="0.45" fill="#7a2a60"/>
<circle cx="192.3" cy="462.2" r="0.28" fill="#7a2a60"/>
<circle cx="191.3" cy="455.2" r="0.41" fill="#7a2a60"/>
<circle cx="177.0" cy="433.8" r="0.34" fill="#7a2a60"/>
<circle cx="190.2" cy="456.8" r="0.41" fill="#7a2a60"/>
<circle cx="173.0" cy="435.8" r="0.43" fill="#7a2a60"/>
<circle cx="170.7" cy="437.1" r="0.31" fill="#7a2a60"/>
<circle cx="187.7" cy="459.5" r="0.31" fill="#7a2a60"/>
<circle cx="169.2" cy="438.2" r="0.45" fill="#7a2a60"/>
<circle cx="213.7" cy="450.3" r="0.41" fill="#7a2a60"/>
<circle cx="196.0" cy="457.8" r="0.44" fill="#7a2a60"/>
<circle cx="205.5" cy="452.9" r="0.38" fill="#7a2a60"/>
<circle cx="165.7" cy="438.1" r="0.53" fill="#7a2a60"/>
<circle cx="212.0" cy="452.7" r="0.55" fill="#7a2a60"/>
<circle cx="191.1" cy="457.6" r="0.32" fill="#7a2a60"/>
<circle cx="193.9" cy="460.1" r="0.31" fill="#7a2a60"/>
<circle cx="171.2" cy="440.2" r="0.25" fill="#7a2a60"/>
</g></g>
<clipPath id="gc10"><rect x="65.5" y="468.6" width="49.6" height="45.2"/></clipPath>
<rect x="65.50" y="468.60" width="49.60" height="45.20" fill="#05050c" />
<g clip-path="url(#gc10)"><g filter="url(#bl0)">
<ellipse cx="64.2" cy="467.0" rx="4.0" ry="2.8" transform="rotate(29 64.2 467.0)" fill="#3040ac"/>
<ellipse cx="71.0" cy="467.5" rx="3.2" ry="3.6" transform="rotate(-7 71.0 467.5)" fill="#3648b6"/>
<ellipse cx="77.3" cy="465.8" rx="3.3" ry="3.7" transform="rotate(24 77.3 465.8)" fill="#3a4cbc"/>
<ellipse cx="84.0" cy="466.1" rx="4.0" ry="2.7" transform="rotate(45 84.0 466.1)" fill="#2a389a"/>
<ellipse cx="94.0" cy="465.4" rx="4.5" ry="2.6" transform="rotate(-34 94.0 465.4)" fill="#2a389a"/>
<ellipse cx="99.2" cy="467.1" rx="4.0" ry="3.5" transform="rotate(-43 99.2 467.1)" fill="#3648b6"/>
<ellipse cx="109.6" cy="467.8" rx="4.4" ry="3.4" transform="rotate(8 109.6 467.8)" fill="#2e3ca4"/>
<ellipse cx="115.2" cy="467.6" rx="3.5" ry="3.6" transform="rotate(39 115.2 467.6)" fill="#3a4cbc"/>
<ellipse cx="68.8" cy="472.8" rx="3.7" ry="3.1" transform="rotate(-23 68.8 472.8)" fill="#2e3ca4"/>
<ellipse cx="75.4" cy="474.2" rx="3.2" ry="2.7" transform="rotate(10 75.4 474.2)" fill="#3040ac"/>
<ellipse cx="82.4" cy="473.0" rx="4.2" ry="2.8" transform="rotate(-33 82.4 473.0)" fill="#2a389a"/>
<ellipse cx="88.8" cy="473.6" rx="4.7" ry="2.9" transform="rotate(-33 88.8 473.6)" fill="#3648b6"/>
<ellipse cx="96.3" cy="473.4" rx="4.3" ry="3.6" transform="rotate(46 96.3 473.4)" fill="#3a4cbc"/>
<ellipse cx="103.0" cy="473.5" rx="3.2" ry="3.0" transform="rotate(1 103.0 473.5)" fill="#3648b6"/>
<ellipse cx="63.7" cy="478.8" rx="3.9" ry="3.4" transform="rotate(-44 63.7 478.8)" fill="#2a389a"/>
<ellipse cx="70.0" cy="478.4" rx="3.9" ry="2.8" transform="rotate(-43 70.0 478.4)" fill="#2a389a"/>
<ellipse cx="77.0" cy="478.0" rx="4.4" ry="2.7" transform="rotate(-36 77.0 478.0)" fill="#3040ac"/>
<ellipse cx="85.6" cy="480.4" rx="4.6" ry="3.0" transform="rotate(-35 85.6 480.4)" fill="#2a389a"/>
<ellipse cx="92.8" cy="479.2" rx="4.6" ry="2.9" transform="rotate(3 92.8 479.2)" fill="#2a389a"/>
<ellipse cx="101.3" cy="478.6" rx="3.4" ry="3.4" transform="rotate(-24 101.3 478.6)" fill="#2a389a"/>
<ellipse cx="109.2" cy="479.3" rx="3.6" ry="3.0" transform="rotate(46 109.2 479.3)" fill="#3648b6"/>
<ellipse cx="113.8" cy="477.8" rx="3.2" ry="3.1" transform="rotate(-36 113.8 477.8)" fill="#2e3ca4"/>
<ellipse cx="65.9" cy="485.3" rx="3.7" ry="3.1" transform="rotate(-28 65.9 485.3)" fill="#3648b6"/>
<ellipse cx="75.9" cy="484.3" rx="4.4" ry="3.4" transform="rotate(10 75.9 484.3)" fill="#3040ac"/>
<ellipse cx="83.0" cy="486.1" rx="3.2" ry="3.1" transform="rotate(-44 83.0 486.1)" fill="#3040ac"/>
<ellipse cx="90.2" cy="484.5" rx="4.3" ry="2.9" transform="rotate(-46 90.2 484.5)" fill="#3a4cbc"/>
<ellipse cx="97.6" cy="486.7" rx="4.5" ry="3.5" transform="rotate(-1 97.6 486.7)" fill="#3040ac"/>
<ellipse cx="104.6" cy="485.2" rx="4.4" ry="3.7" transform="rotate(-19 104.6 485.2)" fill="#3040ac"/>
<ellipse cx="111.8" cy="483.9" rx="4.5" ry="3.7" transform="rotate(-14 111.8 483.9)" fill="#2a389a"/>
<ellipse cx="63.2" cy="492.5" rx="4.2" ry="3.3" transform="rotate(31 63.2 492.5)" fill="#3a4cbc"/>
<ellipse cx="72.5" cy="491.9" rx="4.3" ry="3.1" transform="rotate(1 72.5 491.9)" fill="#3a4cbc"/>
<ellipse cx="76.6" cy="491.9" rx="3.3" ry="2.9" transform="rotate(9 76.6 491.9)" fill="#3a4cbc"/>
<ellipse cx="85.5" cy="490.6" rx="3.8" ry="3.1" transform="rotate(13 85.5 490.6)" fill="#2e3ca4"/>
<ellipse cx="91.9" cy="491.0" rx="4.2" ry="2.8" transform="rotate(-5 91.9 491.0)" fill="#3040ac"/>
<ellipse cx="101.8" cy="492.0" rx="4.3" ry="2.9" transform="rotate(42 101.8 492.0)" fill="#3a4cbc"/>
<ellipse cx="107.5" cy="491.5" rx="4.3" ry="3.6" transform="rotate(-34 107.5 491.5)" fill="#3648b6"/>
<ellipse cx="114.9" cy="490.3" rx="4.1" ry="2.7" transform="rotate(-20 114.9 490.3)" fill="#3a4cbc"/>
<ellipse cx="67.1" cy="496.4" rx="4.7" ry="3.4" transform="rotate(-29 67.1 496.4)" fill="#2a389a"/>
<ellipse cx="74.9" cy="496.7" rx="3.3" ry="2.6" transform="rotate(1 74.9 496.7)" fill="#3648b6"/>
<ellipse cx="82.0" cy="496.8" rx="4.3" ry="3.4" transform="rotate(-34 82.0 496.8)" fill="#3a4cbc"/>
<ellipse cx="89.2" cy="498.0" rx="3.6" ry="2.8" transform="rotate(-12 89.2 498.0)" fill="#2a389a"/>
<ellipse cx="98.5" cy="496.7" rx="3.8" ry="3.3" transform="rotate(37 98.5 496.7)" fill="#2a389a"/>
<ellipse cx="104.2" cy="496.2" rx="4.2" ry="3.4" transform="rotate(-26 104.2 496.2)" fill="#2e3ca4"/>
<ellipse cx="65.2" cy="502.9" rx="3.8" ry="2.6" transform="rotate(-33 65.2 502.9)" fill="#3040ac"/>
<ellipse cx="72.1" cy="503.9" rx="3.3" ry="2.8" transform="rotate(-10 72.1 503.9)" fill="#3040ac"/>
<ellipse cx="78.6" cy="504.8" rx="4.1" ry="3.1" transform="rotate(29 78.6 504.8)" fill="#3040ac"/>
<ellipse cx="85.5" cy="504.8" rx="4.8" ry="3.3" transform="rotate(-35 85.5 504.8)" fill="#3a4cbc"/>
<ellipse cx="93.5" cy="504.2" rx="4.0" ry="3.5" transform="rotate(-16 93.5 504.2)" fill="#2a389a"/>
<ellipse cx="99.7" cy="504.2" rx="3.2" ry="3.5" transform="rotate(17 99.7 504.2)" fill="#3648b6"/>
<ellipse cx="66.4" cy="508.7" rx="3.3" ry="3.1" transform="rotate(18 66.4 508.7)" fill="#3a4cbc"/>
<ellipse cx="73.2" cy="511.3" rx="4.1" ry="3.0" transform="rotate(19 73.2 511.3)" fill="#3040ac"/>
<ellipse cx="81.4" cy="509.2" rx="4.0" ry="3.4" transform="rotate(11 81.4 509.2)" fill="#3648b6"/>
<ellipse cx="88.9" cy="509.9" rx="4.6" ry="3.1" transform="rotate(-48 88.9 509.9)" fill="#2a389a"/>
<ellipse cx="95.8" cy="510.8" rx="4.6" ry="3.2" transform="rotate(41 95.8 510.8)" fill="#2a389a"/>
<ellipse cx="105.8" cy="511.3" rx="4.5" ry="2.6" transform="rotate(-15 105.8 511.3)" fill="#3040ac"/>
<ellipse cx="63.1" cy="516.9" rx="3.5" ry="3.7" transform="rotate(0 63.1 516.9)" fill="#3a4cbc"/>
<ellipse cx="72.7" cy="516.4" rx="4.4" ry="3.4" transform="rotate(38 72.7 516.4)" fill="#2a389a"/>
<ellipse cx="77.4" cy="516.5" rx="3.8" ry="3.3" transform="rotate(37 77.4 516.5)" fill="#3040ac"/>
<ellipse cx="84.0" cy="516.0" rx="4.1" ry="2.6" transform="rotate(17 84.0 516.0)" fill="#3648b6"/>
<ellipse cx="92.1" cy="516.3" rx="3.8" ry="3.7" transform="rotate(-20 92.1 516.3)" fill="#3648b6"/>
<ellipse cx="100.2" cy="516.6" rx="4.4" ry="3.4" transform="rotate(15 100.2 516.6)" fill="#2a389a"/>
</g></g>
<clipPath id="gc11"><rect x="116.5" y="468.6" width="49.6" height="45.2"/></clipPath>
<rect x="116.50" y="468.60" width="49.60" height="45.20" fill="#05050c" />
<g clip-path="url(#gc11)"><g filter="url(#bl0)">
<circle cx="119.6" cy="507.1" r="0.60" fill="#5a1410"/>
<circle cx="128.9" cy="507.4" r="0.76" fill="#6a1812"/>
<circle cx="136.1" cy="483.0" r="0.36" fill="#6a1812"/>
<circle cx="160.1" cy="485.7" r="0.49" fill="#6a1812"/>
<circle cx="125.8" cy="504.3" r="0.65" fill="#7a2016"/>
<circle cx="155.6" cy="490.0" r="0.39" fill="#7a2016"/>
<circle cx="152.9" cy="488.5" r="0.36" fill="#5a1410"/>
<circle cx="121.0" cy="502.1" r="0.71" fill="#5a1410"/>
<circle cx="126.1" cy="500.8" r="0.69" fill="#5a1410"/>
<circle cx="121.1" cy="496.5" r="0.54" fill="#5a1410"/>
<circle cx="143.5" cy="495.1" r="0.39" fill="#6a1812"/>
<circle cx="138.7" cy="488.5" r="0.66" fill="#7a2016"/>
<circle cx="147.5" cy="482.7" r="0.47" fill="#6a1812"/>
<circle cx="123.0" cy="504.3" r="0.67" fill="#7a2016"/>
<circle cx="159.5" cy="477.8" r="0.68" fill="#6a1812"/>
<circle cx="151.0" cy="479.4" r="0.43" fill="#6a1812"/>
<circle cx="131.4" cy="506.3" r="0.63" fill="#7a2016"/>
<circle cx="155.3" cy="499.0" r="0.67" fill="#7a2016"/>
<circle cx="147.6" cy="494.0" r="0.70" fill="#7a2016"/>
<circle cx="157.7" cy="494.2" r="0.36" fill="#6a1812"/>
<circle cx="125.2" cy="504.4" r="0.76" fill="#7a2016"/>
<circle cx="129.9" cy="503.7" r="0.37" fill="#4a100c"/>
<circle cx="140.5" cy="481.5" r="0.76" fill="#4a100c"/>
<circle cx="154.6" cy="498.2" r="0.63" fill="#5a1410"/>
<circle cx="121.1" cy="508.2" r="0.49" fill="#7a2016"/>
<circle cx="122.7" cy="503.9" r="0.56" fill="#7a2016"/>
<circle cx="136.6" cy="487.4" r="0.48" fill="#6a1812"/>
<circle cx="122.9" cy="478.8" r="0.52" fill="#5a1410"/>
<circle cx="155.6" cy="478.9" r="0.71" fill="#4a100c"/>
<circle cx="150.0" cy="495.9" r="0.36" fill="#6a1812"/>
<circle cx="145.9" cy="495.6" r="0.64" fill="#7a2016"/>
<circle cx="137.0" cy="486.2" r="0.63" fill="#6a1812"/>
<circle cx="155.3" cy="488.2" r="0.50" fill="#6a1812"/>
<circle cx="130.6" cy="479.4" r="0.37" fill="#4a100c"/>
<circle cx="144.3" cy="499.4" r="0.65" fill="#7a2016"/>
<circle cx="136.0" cy="480.0" r="0.52" fill="#5a1410"/>
<circle cx="157.3" cy="469.7" r="0.65" fill="#4a100c"/>
<circle cx="151.0" cy="477.8" r="0.52" fill="#4a100c"/>
<circle cx="145.8" cy="497.1" r="0.42" fill="#5a1410"/>
<circle cx="128.9" cy="504.7" r="0.76" fill="#4a100c"/>
<circle cx="154.1" cy="495.7" r="0.76" fill="#5a1410"/>
<circle cx="143.4" cy="477.7" r="0.47" fill="#4a100c"/>
<circle cx="158.3" cy="496.6" r="0.74" fill="#7a2016"/>
<circle cx="124.4" cy="474.9" r="0.63" fill="#4a100c"/>
<circle cx="145.3" cy="490.4" r="0.46" fill="#5a1410"/>
<circle cx="155.3" cy="481.5" r="0.72" fill="#4a100c"/>
<circle cx="149.4" cy="499.8" r="0.48" fill="#4a100c"/>
<circle cx="129.7" cy="507.4" r="0.61" fill="#6a1812"/>
<circle cx="158.3" cy="486.6" r="0.67" fill="#4a100c"/>
<circle cx="125.9" cy="501.0" r="0.70" fill="#7a2016"/>
<circle cx="154.9" cy="488.3" r="0.44" fill="#4a100c"/>
<circle cx="146.4" cy="496.9" r="0.54" fill="#5a1410"/>
<circle cx="143.1" cy="476.1" r="0.74" fill="#5a1410"/>
<circle cx="124.3" cy="506.7" r="0.65" fill="#5a1410"/>
<circle cx="163.8" cy="478.8" r="0.70" fill="#5a1410"/>
<circle cx="131.3" cy="505.5" r="0.55" fill="#7a2016"/>
<circle cx="155.3" cy="489.6" r="0.63" fill="#5a1410"/>
<circle cx="158.1" cy="478.2" r="0.52" fill="#7a2016"/>
<circle cx="138.0" cy="491.6" r="0.76" fill="#6a1812"/>
<circle cx="122.2" cy="500.1" r="0.77" fill="#4a100c"/>
<circle cx="155.0" cy="483.6" r="0.39" fill="#6a1812"/>
<circle cx="149.2" cy="498.9" r="0.39" fill="#4a100c"/>
<circle cx="154.4" cy="482.4" r="0.74" fill="#6a1812"/>
<circle cx="152.7" cy="496.0" r="0.35" fill="#7a2016"/>
<circle cx="131.0" cy="508.2" r="0.77" fill="#4a100c"/>
<circle cx="124.3" cy="503.2" r="0.48" fill="#6a1812"/>
<circle cx="129.0" cy="508.3" r="0.78" fill="#5a1410"/>
<circle cx="144.1" cy="496.4" r="0.45" fill="#7a2016"/>
<circle cx="142.7" cy="489.2" r="0.73" fill="#7a2016"/>
<circle cx="146.4" cy="499.1" r="0.70" fill="#4a100c"/>
<circle cx="145.2" cy="498.1" r="0.42" fill="#7a2016"/>
<circle cx="125.2" cy="478.6" r="0.57" fill="#4a100c"/>
<circle cx="144.6" cy="487.4" r="0.59" fill="#4a100c"/>
<circle cx="156.5" cy="488.3" r="0.45" fill="#5a1410"/>
<circle cx="147.7" cy="476.1" r="0.56" fill="#7a2016"/>
<circle cx="124.3" cy="504.9" r="0.45" fill="#5a1410"/>
<circle cx="144.8" cy="496.8" r="0.41" fill="#5a1410"/>
<circle cx="137.2" cy="477.8" r="0.44" fill="#4a100c"/>
<circle cx="155.7" cy="491.6" r="0.56" fill="#4a100c"/>
<circle cx="160.6" cy="489.9" r="0.68" fill="#6a1812"/>
</g></g>
<clipPath id="gc12"><rect x="167.3" y="468.6" width="49.6" height="45.2"/></clipPath>
<rect x="167.30" y="468.60" width="49.60" height="45.20" fill="#05050c" />
<g clip-path="url(#gc12)"><g filter="url(#bl0)">
<ellipse cx="166.0" cy="467.0" rx="4.0" ry="2.8" transform="rotate(29 166.0 467.0)" fill="#3040ac"/>
<ellipse cx="172.8" cy="467.5" rx="3.2" ry="3.6" transform="rotate(-7 172.8 467.5)" fill="#3648b6"/>
<ellipse cx="179.1" cy="465.8" rx="3.3" ry="3.7" transform="rotate(24 179.1 465.8)" fill="#3a4cbc"/>
<ellipse cx="185.8" cy="466.1" rx="4.0" ry="2.7" transform="rotate(45 185.8 466.1)" fill="#2a389a"/>
<ellipse cx="195.8" cy="465.4" rx="4.5" ry="2.6" transform="rotate(-34 195.8 465.4)" fill="#2a389a"/>
<ellipse cx="201.0" cy="467.1" rx="4.0" ry="3.5" transform="rotate(-43 201.0 467.1)" fill="#3648b6"/>
<ellipse cx="211.4" cy="467.8" rx="4.4" ry="3.4" transform="rotate(8 211.4 467.8)" fill="#2e3ca4"/>
<ellipse cx="217.0" cy="467.6" rx="3.5" ry="3.6" transform="rotate(39 217.0 467.6)" fill="#3a4cbc"/>
<ellipse cx="170.6" cy="472.8" rx="3.7" ry="3.1" transform="rotate(-23 170.6 472.8)" fill="#2e3ca4"/>
<ellipse cx="177.2" cy="474.2" rx="3.2" ry="2.7" transform="rotate(10 177.2 474.2)" fill="#3040ac"/>
<ellipse cx="184.2" cy="473.0" rx="4.2" ry="2.8" transform="rotate(-33 184.2 473.0)" fill="#2a389a"/>
<ellipse cx="190.6" cy="473.6" rx="4.7" ry="2.9" transform="rotate(-33 190.6 473.6)" fill="#3648b6"/>
<ellipse cx="198.1" cy="473.4" rx="4.3" ry="3.6" transform="rotate(46 198.1 473.4)" fill="#3a4cbc"/>
<ellipse cx="204.8" cy="473.5" rx="3.2" ry="3.0" transform="rotate(1 204.8 473.5)" fill="#3648b6"/>
<ellipse cx="165.5" cy="478.8" rx="3.9" ry="3.4" transform="rotate(-44 165.5 478.8)" fill="#2a389a"/>
<ellipse cx="171.8" cy="478.4" rx="3.9" ry="2.8" transform="rotate(-43 171.8 478.4)" fill="#2a389a"/>
<ellipse cx="178.8" cy="478.0" rx="4.4" ry="2.7" transform="rotate(-36 178.8 478.0)" fill="#3040ac"/>
<ellipse cx="187.4" cy="480.4" rx="4.6" ry="3.0" transform="rotate(-35 187.4 480.4)" fill="#2a389a"/>
<ellipse cx="194.6" cy="479.2" rx="4.6" ry="2.9" transform="rotate(3 194.6 479.2)" fill="#2a389a"/>
<ellipse cx="203.1" cy="478.6" rx="3.4" ry="3.4" transform="rotate(-24 203.1 478.6)" fill="#2a389a"/>
<ellipse cx="211.0" cy="479.3" rx="3.6" ry="3.0" transform="rotate(46 211.0 479.3)" fill="#3648b6"/>
<ellipse cx="215.6" cy="477.8" rx="3.2" ry="3.1" transform="rotate(-36 215.6 477.8)" fill="#2e3ca4"/>
<ellipse cx="167.7" cy="485.3" rx="3.7" ry="3.1" transform="rotate(-28 167.7 485.3)" fill="#3648b6"/>
<ellipse cx="177.7" cy="484.3" rx="4.4" ry="3.4" transform="rotate(10 177.7 484.3)" fill="#3040ac"/>
<ellipse cx="184.8" cy="486.1" rx="3.2" ry="3.1" transform="rotate(-44 184.8 486.1)" fill="#3040ac"/>
<ellipse cx="192.0" cy="484.5" rx="4.3" ry="2.9" transform="rotate(-46 192.0 484.5)" fill="#3a4cbc"/>
<ellipse cx="199.4" cy="486.7" rx="4.5" ry="3.5" transform="rotate(-1 199.4 486.7)" fill="#3040ac"/>
<ellipse cx="206.4" cy="485.2" rx="4.4" ry="3.7" transform="rotate(-19 206.4 485.2)" fill="#3040ac"/>
<ellipse cx="213.6" cy="483.9" rx="4.5" ry="3.7" transform="rotate(-14 213.6 483.9)" fill="#2a389a"/>
<ellipse cx="165.0" cy="492.5" rx="4.2" ry="3.3" transform="rotate(31 165.0 492.5)" fill="#3a4cbc"/>
<ellipse cx="174.3" cy="491.9" rx="4.3" ry="3.1" transform="rotate(1 174.3 491.9)" fill="#3a4cbc"/>
<ellipse cx="178.4" cy="491.9" rx="3.3" ry="2.9" transform="rotate(9 178.4 491.9)" fill="#3a4cbc"/>
<ellipse cx="187.3" cy="490.6" rx="3.8" ry="3.1" transform="rotate(13 187.3 490.6)" fill="#2e3ca4"/>
<ellipse cx="193.7" cy="491.0" rx="4.2" ry="2.8" transform="rotate(-5 193.7 491.0)" fill="#3040ac"/>
<ellipse cx="203.6" cy="492.0" rx="4.3" ry="2.9" transform="rotate(42 203.6 492.0)" fill="#3a4cbc"/>
<ellipse cx="209.3" cy="491.5" rx="4.3" ry="3.6" transform="rotate(-34 209.3 491.5)" fill="#3648b6"/>
<ellipse cx="216.7" cy="490.3" rx="4.1" ry="2.7" transform="rotate(-20 216.7 490.3)" fill="#3a4cbc"/>
<ellipse cx="168.9" cy="496.4" rx="4.7" ry="3.4" transform="rotate(-29 168.9 496.4)" fill="#2a389a"/>
<ellipse cx="176.7" cy="496.7" rx="3.3" ry="2.6" transform="rotate(1 176.7 496.7)" fill="#3648b6"/>
<ellipse cx="183.8" cy="496.8" rx="4.3" ry="3.4" transform="rotate(-34 183.8 496.8)" fill="#3a4cbc"/>
<ellipse cx="191.0" cy="498.0" rx="3.6" ry="2.8" transform="rotate(-12 191.0 498.0)" fill="#2a389a"/>
<ellipse cx="200.3" cy="496.7" rx="3.8" ry="3.3" transform="rotate(37 200.3 496.7)" fill="#2a389a"/>
<ellipse cx="206.0" cy="496.2" rx="4.2" ry="3.4" transform="rotate(-26 206.0 496.2)" fill="#2e3ca4"/>
<ellipse cx="167.0" cy="502.9" rx="3.8" ry="2.6" transform="rotate(-33 167.0 502.9)" fill="#3040ac"/>
<ellipse cx="173.9" cy="503.9" rx="3.3" ry="2.8" transform="rotate(-10 173.9 503.9)" fill="#3040ac"/>
<ellipse cx="180.4" cy="504.8" rx="4.1" ry="3.1" transform="rotate(29 180.4 504.8)" fill="#3040ac"/>
<ellipse cx="187.3" cy="504.8" rx="4.8" ry="3.3" transform="rotate(-35 187.3 504.8)" fill="#3a4cbc"/>
<ellipse cx="195.3" cy="504.2" rx="4.0" ry="3.5" transform="rotate(-16 195.3 504.2)" fill="#2a389a"/>
<ellipse cx="201.5" cy="504.2" rx="3.2" ry="3.5" transform="rotate(17 201.5 504.2)" fill="#3648b6"/>
<ellipse cx="168.2" cy="508.7" rx="3.3" ry="3.1" transform="rotate(18 168.2 508.7)" fill="#3a4cbc"/>
<ellipse cx="175.0" cy="511.3" rx="4.1" ry="3.0" transform="rotate(19 175.0 511.3)" fill="#3040ac"/>
<ellipse cx="183.2" cy="509.2" rx="4.0" ry="3.4" transform="rotate(11 183.2 509.2)" fill="#3648b6"/>
<ellipse cx="190.7" cy="509.9" rx="4.6" ry="3.1" transform="rotate(-48 190.7 509.9)" fill="#2a389a"/>
<ellipse cx="197.6" cy="510.8" rx="4.6" ry="3.2" transform="rotate(41 197.6 510.8)" fill="#2a389a"/>
<ellipse cx="207.6" cy="511.3" rx="4.5" ry="2.6" transform="rotate(-15 207.6 511.3)" fill="#3040ac"/>
<ellipse cx="164.9" cy="516.9" rx="3.5" ry="3.7" transform="rotate(0 164.9 516.9)" fill="#3a4cbc"/>
<ellipse cx="174.5" cy="516.4" rx="4.4" ry="3.4" transform="rotate(38 174.5 516.4)" fill="#2a389a"/>
<ellipse cx="179.2" cy="516.5" rx="3.8" ry="3.3" transform="rotate(37 179.2 516.5)" fill="#3040ac"/>
<ellipse cx="185.8" cy="516.0" rx="4.1" ry="2.6" transform="rotate(17 185.8 516.0)" fill="#3648b6"/>
<ellipse cx="193.9" cy="516.3" rx="3.8" ry="3.7" transform="rotate(-20 193.9 516.3)" fill="#3648b6"/>
<ellipse cx="202.0" cy="516.6" rx="4.4" ry="3.4" transform="rotate(15 202.0 516.6)" fill="#2a389a"/>
<circle cx="170.4" cy="507.1" r="0.42" fill="#7a2a60"/>
<circle cx="179.7" cy="507.4" r="0.53" fill="#7a2a60"/>
<circle cx="186.9" cy="483.0" r="0.25" fill="#7a2a60"/>
<circle cx="210.9" cy="485.7" r="0.34" fill="#7a2a60"/>
<circle cx="176.6" cy="504.3" r="0.45" fill="#7a2a60"/>
<circle cx="206.4" cy="490.0" r="0.27" fill="#7a2a60"/>
<circle cx="203.7" cy="488.5" r="0.25" fill="#7a2a60"/>
<circle cx="171.8" cy="502.1" r="0.50" fill="#7a2a60"/>
<circle cx="176.9" cy="500.8" r="0.48" fill="#7a2a60"/>
<circle cx="171.9" cy="496.5" r="0.38" fill="#7a2a60"/>
<circle cx="194.3" cy="495.1" r="0.28" fill="#7a2a60"/>
<circle cx="189.5" cy="488.5" r="0.46" fill="#7a2a60"/>
<circle cx="198.3" cy="482.7" r="0.33" fill="#7a2a60"/>
<circle cx="173.8" cy="504.3" r="0.47" fill="#7a2a60"/>
<circle cx="210.3" cy="477.8" r="0.48" fill="#7a2a60"/>
<circle cx="201.8" cy="479.4" r="0.30" fill="#7a2a60"/>
<circle cx="182.2" cy="506.3" r="0.44" fill="#7a2a60"/>
<circle cx="206.1" cy="499.0" r="0.47" fill="#7a2a60"/>
<circle cx="198.4" cy="494.0" r="0.49" fill="#7a2a60"/>
<circle cx="208.5" cy="494.2" r="0.25" fill="#7a2a60"/>
<circle cx="176.0" cy="504.4" r="0.53" fill="#7a2a60"/>
<circle cx="180.7" cy="503.7" r="0.26" fill="#7a2a60"/>
<circle cx="191.3" cy="481.5" r="0.53" fill="#7a2a60"/>
<circle cx="205.4" cy="498.2" r="0.44" fill="#7a2a60"/>
<circle cx="171.9" cy="508.2" r="0.34" fill="#7a2a60"/>
<circle cx="173.5" cy="503.9" r="0.39" fill="#7a2a60"/>
<circle cx="187.4" cy="487.4" r="0.34" fill="#7a2a60"/>
<circle cx="173.7" cy="478.8" r="0.36" fill="#7a2a60"/>
<circle cx="206.4" cy="478.9" r="0.50" fill="#7a2a60"/>
<circle cx="200.8" cy="495.9" r="0.25" fill="#7a2a60"/>
<circle cx="196.7" cy="495.6" r="0.45" fill="#7a2a60"/>
<circle cx="187.8" cy="486.2" r="0.44" fill="#7a2a60"/>
<circle cx="206.1" cy="488.2" r="0.35" fill="#7a2a60"/>
<circle cx="181.4" cy="479.4" r="0.26" fill="#7a2a60"/>
<circle cx="195.1" cy="499.4" r="0.45" fill="#7a2a60"/>
<circle cx="186.8" cy="480.0" r="0.37" fill="#7a2a60"/>
<circle cx="208.1" cy="469.7" r="0.46" fill="#7a2a60"/>
<circle cx="201.8" cy="477.8" r="0.36" fill="#7a2a60"/>
<circle cx="196.6" cy="497.1" r="0.30" fill="#7a2a60"/>
<circle cx="179.7" cy="504.7" r="0.53" fill="#7a2a60"/>
<circle cx="204.9" cy="495.7" r="0.53" fill="#7a2a60"/>
<circle cx="194.2" cy="477.7" r="0.33" fill="#7a2a60"/>
<circle cx="209.1" cy="496.6" r="0.52" fill="#7a2a60"/>
<circle cx="175.2" cy="474.9" r="0.44" fill="#7a2a60"/>
<circle cx="196.1" cy="490.4" r="0.32" fill="#7a2a60"/>
<circle cx="206.1" cy="481.5" r="0.51" fill="#7a2a60"/>
<circle cx="200.2" cy="499.8" r="0.34" fill="#7a2a60"/>
<circle cx="180.5" cy="507.4" r="0.43" fill="#7a2a60"/>
<circle cx="209.1" cy="486.6" r="0.47" fill="#7a2a60"/>
<circle cx="176.7" cy="501.0" r="0.49" fill="#7a2a60"/>
<circle cx="205.7" cy="488.3" r="0.31" fill="#7a2a60"/>
<circle cx="197.2" cy="496.9" r="0.38" fill="#7a2a60"/>
<circle cx="193.9" cy="476.1" r="0.52" fill="#7a2a60"/>
<circle cx="175.1" cy="506.7" r="0.45" fill="#7a2a60"/>
<circle cx="214.6" cy="478.8" r="0.49" fill="#7a2a60"/>
<circle cx="182.1" cy="505.5" r="0.39" fill="#7a2a60"/>
<circle cx="206.1" cy="489.6" r="0.44" fill="#7a2a60"/>
<circle cx="208.9" cy="478.2" r="0.37" fill="#7a2a60"/>
<circle cx="188.8" cy="491.6" r="0.53" fill="#7a2a60"/>
<circle cx="173.0" cy="500.1" r="0.54" fill="#7a2a60"/>
<circle cx="205.8" cy="483.6" r="0.27" fill="#7a2a60"/>
<circle cx="200.0" cy="498.9" r="0.27" fill="#7a2a60"/>
<circle cx="205.2" cy="482.4" r="0.52" fill="#7a2a60"/>
<circle cx="203.5" cy="496.0" r="0.25" fill="#7a2a60"/>
<circle cx="181.8" cy="508.2" r="0.54" fill="#7a2a60"/>
<circle cx="175.1" cy="503.2" r="0.33" fill="#7a2a60"/>
<circle cx="179.8" cy="508.3" r="0.54" fill="#7a2a60"/>
<circle cx="194.9" cy="496.4" r="0.31" fill="#7a2a60"/>
<circle cx="193.5" cy="489.2" r="0.51" fill="#7a2a60"/>
<circle cx="197.2" cy="499.1" r="0.49" fill="#7a2a60"/>
<circle cx="196.0" cy="498.1" r="0.29" fill="#7a2a60"/>
<circle cx="176.0" cy="478.6" r="0.40" fill="#7a2a60"/>
<circle cx="195.4" cy="487.4" r="0.42" fill="#7a2a60"/>
<circle cx="207.3" cy="488.3" r="0.31" fill="#7a2a60"/>
<circle cx="198.5" cy="476.1" r="0.39" fill="#7a2a60"/>
<circle cx="175.1" cy="504.9" r="0.32" fill="#7a2a60"/>
<circle cx="195.6" cy="496.8" r="0.29" fill="#7a2a60"/>
<circle cx="188.0" cy="477.8" r="0.31" fill="#7a2a60"/>
<circle cx="206.5" cy="491.6" r="0.39" fill="#7a2a60"/>
<circle cx="211.4" cy="489.9" r="0.48" fill="#7a2a60"/>
</g></g>
<rect x="65.50" y="467.50" width="151.40" height="1.10" fill="#d4d4d4" />
<rect x="206.00" y="507.00" width="5.00" height="1.20" fill="#ffffff" />
<text x="90.40" y="418.11" font-size="6.8" fill="#3a5aa8" text-anchor="middle" >DAPI</text>
<text x="141.30" y="418.61" font-size="6.8" fill="#d02840" text-anchor="middle" >γH2AX</text>
<text x="191.90" y="418.65" font-size="6.9" fill="#333" text-anchor="middle" >Merged</text>
<text x="62.50" y="447.78" font-size="6.7" fill="#333" text-anchor="end" >Scrambled</text>
<text x="62.50" y="493.28" font-size="6.7" fill="#333" text-anchor="end" >shPiwil4</text>
<line x1="253.70" y1="418.20" x2="253.70" y2="500.50" stroke="#222" stroke-width="0.8" />
<line x1="253.70" y1="500.50" x2="285.60" y2="500.50" stroke="#222" stroke-width="0.8" />
<line x1="251.90" y1="500.50" x2="253.70" y2="500.50" stroke="#222" stroke-width="0.7" />
<text x="252.30" y="503.55" font-size="7.2" fill="#333" text-anchor="end" letter-spacing="0.35">0</text>
<line x1="251.90" y1="484.05" x2="253.70" y2="484.05" stroke="#222" stroke-width="0.7" />
<text x="252.30" y="487.10" font-size="7.2" fill="#333" text-anchor="end" letter-spacing="0.35">20</text>
<line x1="251.90" y1="467.60" x2="253.70" y2="467.60" stroke="#222" stroke-width="0.7" />
<text x="252.30" y="470.65" font-size="7.2" fill="#333" text-anchor="end" letter-spacing="0.35">40</text>
<line x1="251.90" y1="451.15" x2="253.70" y2="451.15" stroke="#222" stroke-width="0.7" />
<text x="252.30" y="454.20" font-size="7.2" fill="#333" text-anchor="end" letter-spacing="0.35">60</text>
<line x1="251.90" y1="434.70" x2="253.70" y2="434.70" stroke="#222" stroke-width="0.7" />
<text x="252.30" y="437.75" font-size="7.2" fill="#333" text-anchor="end" letter-spacing="0.35">80</text>
<line x1="251.90" y1="418.25" x2="253.70" y2="418.25" stroke="#222" stroke-width="0.7" />
<text x="252.30" y="421.30" font-size="7.2" fill="#333" text-anchor="end" letter-spacing="0.35">100</text>
<rect x="258.80" y="485.69" width="9.10" height="14.80" fill="#232a6c" />
<path d="M263.35,485.695 V481.5825 M261.6,481.5825 H265.1" fill="none" stroke="#232a6c" stroke-width="0.7" />
<rect x="272.50" y="456.91" width="8.60" height="43.59" fill="#c5dcf0" />
<path d="M276.8,456.9075 V448.6825 M275,448.6825 H278.6" fill="none" stroke="#9ab8d8" stroke-width="0.7" />
<text x="276.80" y="449.54" font-size="6" fill="#333" text-anchor="middle" >***</text>
<line x1="263.35" y1="500.50" x2="263.35" y2="502.50" stroke="#222" stroke-width="0.6" />
<line x1="276.80" y1="500.50" x2="276.80" y2="502.50" stroke="#222" stroke-width="0.6" />
<text transform="translate(265.50,508.30) rotate(-45)" x="0" y="0.00" font-size="6.6" fill="#333" text-anchor="end" >Scrambled</text>
<text transform="translate(279.50,508.30) rotate(-45)" x="0" y="0.00" font-size="6.6" fill="#333" text-anchor="end" >shPiwil4</text>
<text transform="translate(228.20,460.00) rotate(-90)" x="0" y="2.31" font-size="6.8" fill="#333" text-anchor="middle" >% of cells &gt; 5 γH2AX foci</text>
<defs><radialGradient id="cn" cx="0.5" cy="0.5" r="0.5"><stop offset="0" stop-color="#5cd04e"/><stop offset="0.6" stop-color="#46b83c"/><stop offset="1" stop-color="#247a1e"/></radialGradient><linearGradient id="ct" x1="0" x2="1"><stop offset="0" stop-color="#3cb032" stop-opacity="0.9"/><stop offset="1" stop-color="#1a6014" stop-opacity="0"/></linearGradient></defs>
<rect x="321.70" y="421.60" width="103.00" height="104.70" fill="#ececec" />
<clipPath id="hc00"><rect x="321.7" y="421.6" width="51.3" height="51.7"/></clipPath>
<rect x="321.70" y="421.60" width="51.30" height="51.70" fill="#020402" />
<g clip-path="url(#hc00)">
<ellipse cx="328.0" cy="428.6" rx="4.0" ry="3.2" fill="url(#cn)" filter="url(#bl1)"/>
<ellipse cx="339.5" cy="437.0" rx="3.1" ry="2.5" fill="url(#cn)" filter="url(#bl1)"/>
<ellipse cx="353.4" cy="435.4" rx="3.5" ry="2.8" fill="url(#cn)" filter="url(#bl1)"/>
<ellipse cx="328.0" cy="444.3" rx="3.5" ry="2.8" fill="url(#cn)" filter="url(#bl1)"/>
<ellipse cx="337.3" cy="448.7" rx="3.1" ry="2.5" fill="url(#cn)" filter="url(#bl1)"/>
<ellipse cx="353.4" cy="443.4" rx="3.5" ry="2.8" fill="url(#cn)" filter="url(#bl1)"/>
<ellipse cx="344.4" cy="459.3" rx="3.8" ry="2.9" fill="url(#ct)" filter="url(#bl2)"/>
<ellipse cx="341.6" cy="459.3" rx="4.0" ry="3.2" fill="url(#cn)" filter="url(#bl1)"/>
<ellipse cx="365.5" cy="464.6" rx="4.0" ry="3.2" fill="url(#cn)" filter="url(#bl1)"/>
</g>
<clipPath id="hc01"><rect x="373.3" y="421.6" width="51.3" height="51.7"/></clipPath>
<rect x="373.30" y="421.60" width="51.30" height="51.70" fill="#020402" />
<g clip-path="url(#hc01)">
<ellipse cx="387.3" cy="441.7" rx="3.4" ry="2.7" fill="url(#cn)" filter="url(#bl1)"/>
<ellipse cx="412.2" cy="442.8" rx="7.5" ry="2.8" fill="url(#ct)" filter="url(#bl2)"/>
<ellipse cx="406.7" cy="442.8" rx="3.9" ry="3.1" fill="url(#cn)" filter="url(#bl1)"/>
<ellipse cx="384.3" cy="454.4" rx="7.5" ry="3.2" fill="url(#ct)" filter="url(#bl2)"/>
<ellipse cx="378.8" cy="454.4" rx="4.5" ry="3.6" fill="url(#cn)" filter="url(#bl1)"/>
<ellipse cx="387.3" cy="464.6" rx="3.4" ry="2.7" fill="url(#cn)" filter="url(#bl1)"/>
<ellipse cx="399.4" cy="462.5" rx="2.2" ry="2.6" fill="url(#ct)" filter="url(#bl2)"/>
<ellipse cx="397.8" cy="462.5" rx="3.6" ry="2.9" fill="url(#cn)" filter="url(#bl1)"/>
<ellipse cx="416.5" cy="466.7" rx="7.5" ry="3.2" fill="url(#ct)" filter="url(#bl2)"/>
<ellipse cx="411.0" cy="466.7" rx="4.5" ry="3.6" fill="url(#cn)" filter="url(#bl1)"/>
</g>
<clipPath id="hc10"><rect x="321.7" y="474.2" width="51.3" height="52.1"/></clipPath>
<rect x="321.70" y="474.20" width="51.30" height="52.10" fill="#020402" />
<g clip-path="url(#hc10)">
<ellipse cx="362.3" cy="478.8" rx="3.6" ry="2.9" fill="url(#cn)" filter="url(#bl1)"/>
<ellipse cx="358.0" cy="487.2" rx="3.1" ry="2.5" fill="url(#cn)" filter="url(#bl1)"/>
<ellipse cx="324.2" cy="488.7" rx="3.4" ry="2.7" fill="url(#cn)" filter="url(#bl1)"/>
<ellipse cx="335.2" cy="491.4" rx="3.6" ry="2.9" fill="url(#cn)" filter="url(#bl1)"/>
<ellipse cx="339.0" cy="497.4" rx="3.4" ry="2.7" fill="url(#cn)" filter="url(#bl1)"/>
<ellipse cx="347.0" cy="504.1" rx="3.4" ry="2.7" fill="url(#cn)" filter="url(#bl1)"/>
<ellipse cx="371.0" cy="510.5" rx="3.1" ry="2.5" fill="url(#cn)" filter="url(#bl1)"/>
</g>
<clipPath id="hc11"><rect x="373.3" y="474.2" width="51.3" height="52.1"/></clipPath>
<rect x="373.30" y="474.20" width="51.30" height="52.10" fill="#020402" />
<g clip-path="url(#hc11)">
<ellipse cx="399.6" cy="479.8" rx="9.0" ry="3.2" fill="url(#ct)" filter="url(#bl2)"/>
<ellipse cx="393.0" cy="479.8" rx="4.5" ry="3.6" fill="url(#cn)" filter="url(#bl1)"/>
<ellipse cx="407.8" cy="477.7" rx="3.6" ry="2.9" fill="url(#cn)" filter="url(#bl1)"/>
<ellipse cx="395.3" cy="496.7" rx="7.5" ry="2.4" fill="url(#ct)" filter="url(#bl2)"/>
<ellipse cx="389.8" cy="496.7" rx="3.4" ry="2.7" fill="url(#cn)" filter="url(#bl1)"/>
<ellipse cx="415.2" cy="506.9" rx="3.4" ry="2.7" fill="url(#cn)" filter="url(#bl1)"/>
<ellipse cx="392.8" cy="516.8" rx="7.5" ry="2.6" fill="url(#ct)" filter="url(#bl2)"/>
<ellipse cx="387.3" cy="516.8" rx="3.6" ry="2.9" fill="url(#cn)" filter="url(#bl1)"/>
<ellipse cx="416.5" cy="523.2" rx="7.5" ry="3.4" fill="url(#ct)" filter="url(#bl2)"/>
<ellipse cx="411.0" cy="523.2" rx="4.7" ry="3.8" fill="url(#cn)" filter="url(#bl1)"/>
<ellipse cx="380.4" cy="475.0" rx="6.0" ry="2.0" fill="url(#ct)" filter="url(#bl2)"/>
<ellipse cx="376.0" cy="475.0" rx="2.8" ry="2.2" fill="url(#cn)" filter="url(#bl1)"/>
</g>
<path d="M387.30,446.00 L384.39,449.59" stroke="#fff" stroke-width="0.9"/>
<path d="M383.00,451.30 L385.55,450.54 L383.22,448.65 Z" fill="#fff"/>
<path d="M418.40,458.20 L415.26,461.34" stroke="#fff" stroke-width="0.9"/>
<path d="M413.70,462.90 L416.32,462.41 L414.19,460.28 Z" fill="#fff"/>
<path d="M403.50,487.00 L401.35,484.24" stroke="#fff" stroke-width="0.9"/>
<path d="M400.00,482.50 L400.17,485.16 L402.53,483.32 Z" fill="#fff"/>
<path d="M420.50,512.60 L417.26,516.25" stroke="#fff" stroke-width="0.9"/>
<path d="M415.80,517.90 L418.38,517.25 L416.14,515.26 Z" fill="#fff"/>
<rect x="354.90" y="521.50" width="13.30" height="1.20" fill="#ffffff" />
<text x="346.20" y="416.81" font-size="6.8" fill="#333" text-anchor="middle" >Scrambled</text>
<text x="398.80" y="416.41" font-size="6.5" fill="#333" text-anchor="middle" >shPIWIL4-A</text>
<text transform="translate(315.20,450.00) rotate(-90)" x="0" y="2.38" font-size="7.0" fill="#333" text-anchor="middle" >#5282</text>
<text transform="translate(315.20,502.50) rotate(-90)" x="0" y="2.38" font-size="7.0" fill="#333" text-anchor="middle" >#3002</text>
<line x1="460.00" y1="421.90" x2="460.00" y2="500.20" stroke="#222" stroke-width="0.8" />
<line x1="460.00" y1="500.20" x2="511.00" y2="500.20" stroke="#222" stroke-width="0.8" />
<line x1="458.00" y1="500.20" x2="460.00" y2="500.20" stroke="#222" stroke-width="0.6" />
<text x="457.20" y="503.08" font-size="7.3" fill="#333" text-anchor="end" letter-spacing="0.3">0</text>
<line x1="458.00" y1="484.66" x2="460.00" y2="484.66" stroke="#222" stroke-width="0.6" />
<text x="457.20" y="487.54" font-size="7.3" fill="#333" text-anchor="end" letter-spacing="0.3">10</text>
<line x1="458.00" y1="469.12" x2="460.00" y2="469.12" stroke="#222" stroke-width="0.6" />
<text x="457.20" y="472.00" font-size="7.3" fill="#333" text-anchor="end" letter-spacing="0.3">20</text>
<line x1="458.00" y1="453.58" x2="460.00" y2="453.58" stroke="#222" stroke-width="0.6" />
<text x="457.20" y="456.46" font-size="7.3" fill="#333" text-anchor="end" letter-spacing="0.3">30</text>
<line x1="458.00" y1="438.04" x2="460.00" y2="438.04" stroke="#222" stroke-width="0.6" />
<text x="457.20" y="440.92" font-size="7.3" fill="#333" text-anchor="end" letter-spacing="0.3">40</text>
<line x1="458.00" y1="422.50" x2="460.00" y2="422.50" stroke="#222" stroke-width="0.6" />
<text x="457.20" y="425.38" font-size="7.3" fill="#333" text-anchor="end" letter-spacing="0.3">50</text>
<text transform="translate(438.20,460.00) rotate(-90)" x="0" y="2.38" font-size="7.0" fill="#333" text-anchor="middle" >Tail moment</text>
<line x1="472.80" y1="417.30" x2="495.60" y2="417.30" stroke="#222" stroke-width="0.6" />
<text x="484.20" y="416.54" font-size="6" fill="#333" text-anchor="middle" >**</text>
<circle cx="475.29" cy="440.37" r="1.15" fill="#1c2f4a" stroke="#0c1c2c" stroke-width="0.3"/>
<circle cx="474.95" cy="441.93" r="1.15" fill="#1c2f4a" stroke="#0c1c2c" stroke-width="0.3"/>
<circle cx="474.85" cy="442.70" r="1.15" fill="#1c2f4a" stroke="#0c1c2c" stroke-width="0.3"/>
<circle cx="475.08" cy="452.03" r="1.15" fill="#1c2f4a" stroke="#0c1c2c" stroke-width="0.3"/>
<circle cx="475.18" cy="459.02" r="1.15" fill="#1c2f4a" stroke="#0c1c2c" stroke-width="0.3"/>
<circle cx="475.23" cy="468.34" r="1.15" fill="#1c2f4a" stroke="#0c1c2c" stroke-width="0.3"/>
<circle cx="474.82" cy="469.12" r="1.15" fill="#1c2f4a" stroke="#0c1c2c" stroke-width="0.3"/>
<circle cx="475.42" cy="470.67" r="1.15" fill="#1c2f4a" stroke="#0c1c2c" stroke-width="0.3"/>
<circle cx="475.07" cy="471.45" r="1.15" fill="#1c2f4a" stroke="#0c1c2c" stroke-width="0.3"/>
<circle cx="475.43" cy="473.00" r="1.15" fill="#1c2f4a" stroke="#0c1c2c" stroke-width="0.3"/>
<circle cx="474.81" cy="474.56" r="1.15" fill="#1c2f4a" stroke="#0c1c2c" stroke-width="0.3"/>
<circle cx="475.56" cy="476.11" r="1.15" fill="#1c2f4a" stroke="#0c1c2c" stroke-width="0.3"/>
<circle cx="475.27" cy="477.67" r="1.15" fill="#1c2f4a" stroke="#0c1c2c" stroke-width="0.3"/>
<circle cx="475.58" cy="479.22" r="1.15" fill="#1c2f4a" stroke="#0c1c2c" stroke-width="0.3"/>
<circle cx="475.59" cy="480.77" r="1.15" fill="#1c2f4a" stroke="#0c1c2c" stroke-width="0.3"/>
<circle cx="475.47" cy="482.33" r="1.15" fill="#1c2f4a" stroke="#0c1c2c" stroke-width="0.3"/>
<circle cx="474.88" cy="483.88" r="1.15" fill="#1c2f4a" stroke="#0c1c2c" stroke-width="0.3"/>
<circle cx="475.08" cy="484.66" r="1.15" fill="#1c2f4a" stroke="#0c1c2c" stroke-width="0.3"/>
<circle cx="474.99" cy="485.44" r="1.15" fill="#1c2f4a" stroke="#0c1c2c" stroke-width="0.3"/>
<circle cx="475.42" cy="486.21" r="1.15" fill="#1c2f4a" stroke="#0c1c2c" stroke-width="0.3"/>
<circle cx="474.95" cy="486.99" r="1.15" fill="#1c2f4a" stroke="#0c1c2c" stroke-width="0.3"/>
<circle cx="474.98" cy="487.77" r="1.15" fill="#1c2f4a" stroke="#0c1c2c" stroke-width="0.3"/>
<circle cx="474.89" cy="488.54" r="1.15" fill="#1c2f4a" stroke="#0c1c2c" stroke-width="0.3"/>
<circle cx="474.90" cy="489.32" r="1.15" fill="#1c2f4a" stroke="#0c1c2c" stroke-width="0.3"/>
<circle cx="475.55" cy="490.10" r="1.15" fill="#1c2f4a" stroke="#0c1c2c" stroke-width="0.3"/>
<circle cx="475.58" cy="490.88" r="1.15" fill="#1c2f4a" stroke="#0c1c2c" stroke-width="0.3"/>
<circle cx="474.82" cy="491.65" r="1.15" fill="#1c2f4a" stroke="#0c1c2c" stroke-width="0.3"/>
<circle cx="475.92" cy="492.43" r="1.15" fill="#1c2f4a" stroke="#0c1c2c" stroke-width="0.3"/>
<circle cx="475.10" cy="493.21" r="1.15" fill="#1c2f4a" stroke="#0c1c2c" stroke-width="0.3"/>
<circle cx="475.27" cy="493.98" r="1.15" fill="#1c2f4a" stroke="#0c1c2c" stroke-width="0.3"/>
<circle cx="474.81" cy="494.76" r="1.15" fill="#1c2f4a" stroke="#0c1c2c" stroke-width="0.3"/>
<circle cx="475.60" cy="495.54" r="1.15" fill="#1c2f4a" stroke="#0c1c2c" stroke-width="0.3"/>
<circle cx="474.41" cy="496.31" r="1.15" fill="#1c2f4a" stroke="#0c1c2c" stroke-width="0.3"/>
<circle cx="471.06" cy="498.40" r="1.15" fill="#1c2f4a" stroke="#0c1c2c" stroke-width="0.3"/>
<circle cx="475.50" cy="498.75" r="1.15" fill="#1c2f4a" stroke="#0c1c2c" stroke-width="0.3"/>
<circle cx="470.06" cy="499.66" r="1.15" fill="#1c2f4a" stroke="#0c1c2c" stroke-width="0.3"/>
<circle cx="474.17" cy="496.83" r="1.15" fill="#1c2f4a" stroke="#0c1c2c" stroke-width="0.3"/>
<circle cx="482.75" cy="500.17" r="1.15" fill="#1c2f4a" stroke="#0c1c2c" stroke-width="0.3"/>
<circle cx="467.08" cy="498.25" r="1.15" fill="#1c2f4a" stroke="#0c1c2c" stroke-width="0.3"/>
<circle cx="468.46" cy="496.71" r="1.15" fill="#1c2f4a" stroke="#0c1c2c" stroke-width="0.3"/>
<circle cx="480.30" cy="499.89" r="1.15" fill="#1c2f4a" stroke="#0c1c2c" stroke-width="0.3"/>
<circle cx="467.68" cy="498.05" r="1.15" fill="#1c2f4a" stroke="#0c1c2c" stroke-width="0.3"/>
<circle cx="470.97" cy="497.80" r="1.15" fill="#1c2f4a" stroke="#0c1c2c" stroke-width="0.3"/>
<circle cx="481.18" cy="500.04" r="1.15" fill="#1c2f4a" stroke="#0c1c2c" stroke-width="0.3"/>
<circle cx="476.99" cy="498.73" r="1.15" fill="#1c2f4a" stroke="#0c1c2c" stroke-width="0.3"/>
<circle cx="470.45" cy="497.47" r="1.15" fill="#1c2f4a" stroke="#0c1c2c" stroke-width="0.3"/>
<circle cx="467.70" cy="498.44" r="1.15" fill="#1c2f4a" stroke="#0c1c2c" stroke-width="0.3"/>
<circle cx="471.38" cy="497.38" r="1.15" fill="#1c2f4a" stroke="#0c1c2c" stroke-width="0.3"/>
<circle cx="471.80" cy="499.59" r="1.15" fill="#1c2f4a" stroke="#0c1c2c" stroke-width="0.3"/>
<circle cx="480.30" cy="499.28" r="1.15" fill="#1c2f4a" stroke="#0c1c2c" stroke-width="0.3"/>
<circle cx="483.28" cy="499.77" r="1.15" fill="#1c2f4a" stroke="#0c1c2c" stroke-width="0.3"/>
<circle cx="480.07" cy="498.23" r="1.15" fill="#1c2f4a" stroke="#0c1c2c" stroke-width="0.3"/>
<circle cx="482.03" cy="496.61" r="1.15" fill="#1c2f4a" stroke="#0c1c2c" stroke-width="0.3"/>
<circle cx="482.52" cy="497.91" r="1.15" fill="#1c2f4a" stroke="#0c1c2c" stroke-width="0.3"/>
<circle cx="481.60" cy="497.19" r="1.15" fill="#1c2f4a" stroke="#0c1c2c" stroke-width="0.3"/>
<circle cx="482.34" cy="498.71" r="1.15" fill="#1c2f4a" stroke="#0c1c2c" stroke-width="0.3"/>
<circle cx="483.15" cy="497.30" r="1.15" fill="#1c2f4a" stroke="#0c1c2c" stroke-width="0.3"/>
<circle cx="468.31" cy="499.81" r="1.15" fill="#1c2f4a" stroke="#0c1c2c" stroke-width="0.3"/>
<circle cx="472.10" cy="499.07" r="1.15" fill="#1c2f4a" stroke="#0c1c2c" stroke-width="0.3"/>
<circle cx="470.90" cy="497.58" r="1.15" fill="#1c2f4a" stroke="#0c1c2c" stroke-width="0.3"/>
<circle cx="476.97" cy="497.38" r="1.15" fill="#1c2f4a" stroke="#0c1c2c" stroke-width="0.3"/>
<circle cx="475.06" cy="498.56" r="1.15" fill="#1c2f4a" stroke="#0c1c2c" stroke-width="0.3"/>
<circle cx="472.60" cy="499.86" r="1.15" fill="#1c2f4a" stroke="#0c1c2c" stroke-width="0.3"/>
<circle cx="480.93" cy="499.16" r="1.15" fill="#1c2f4a" stroke="#0c1c2c" stroke-width="0.3"/>
<circle cx="473.48" cy="499.38" r="1.15" fill="#1c2f4a" stroke="#0c1c2c" stroke-width="0.3"/>
<circle cx="470.25" cy="499.11" r="1.15" fill="#1c2f4a" stroke="#0c1c2c" stroke-width="0.3"/>
<circle cx="471.40" cy="497.06" r="1.15" fill="#1c2f4a" stroke="#0c1c2c" stroke-width="0.3"/>
<circle cx="474.55" cy="499.43" r="1.15" fill="#1c2f4a" stroke="#0c1c2c" stroke-width="0.3"/>
<circle cx="477.08" cy="496.76" r="1.15" fill="#1c2f4a" stroke="#0c1c2c" stroke-width="0.3"/>
<circle cx="476.36" cy="496.78" r="1.15" fill="#1c2f4a" stroke="#0c1c2c" stroke-width="0.3"/>
<circle cx="474.18" cy="499.99" r="1.15" fill="#1c2f4a" stroke="#0c1c2c" stroke-width="0.3"/>
<circle cx="469.87" cy="498.73" r="1.15" fill="#1c2f4a" stroke="#0c1c2c" stroke-width="0.3"/>
<circle cx="473.54" cy="498.29" r="1.15" fill="#1c2f4a" stroke="#0c1c2c" stroke-width="0.3"/>
<circle cx="472.23" cy="500.11" r="1.15" fill="#1c2f4a" stroke="#0c1c2c" stroke-width="0.3"/>
<circle cx="469.60" cy="498.55" r="1.15" fill="#1c2f4a" stroke="#0c1c2c" stroke-width="0.3"/>
<circle cx="475.95" cy="496.68" r="1.15" fill="#1c2f4a" stroke="#0c1c2c" stroke-width="0.3"/>
<circle cx="469.91" cy="499.76" r="1.15" fill="#1c2f4a" stroke="#0c1c2c" stroke-width="0.3"/>
<circle cx="478.80" cy="497.88" r="1.15" fill="#1c2f4a" stroke="#0c1c2c" stroke-width="0.3"/>
<circle cx="477.90" cy="499.73" r="1.15" fill="#1c2f4a" stroke="#0c1c2c" stroke-width="0.3"/>
<circle cx="469.04" cy="497.95" r="1.15" fill="#1c2f4a" stroke="#0c1c2c" stroke-width="0.3"/>
<circle cx="477.33" cy="496.72" r="1.15" fill="#1c2f4a" stroke="#0c1c2c" stroke-width="0.3"/>
<circle cx="472.44" cy="499.41" r="1.15" fill="#1c2f4a" stroke="#0c1c2c" stroke-width="0.3"/>
<circle cx="474.30" cy="500.17" r="1.15" fill="#1c2f4a" stroke="#0c1c2c" stroke-width="0.3"/>
<circle cx="477.01" cy="499.88" r="1.15" fill="#1c2f4a" stroke="#0c1c2c" stroke-width="0.3"/>
<circle cx="479.65" cy="498.10" r="1.15" fill="#1c2f4a" stroke="#0c1c2c" stroke-width="0.3"/>
<circle cx="481.72" cy="500.13" r="1.15" fill="#1c2f4a" stroke="#0c1c2c" stroke-width="0.3"/>
<circle cx="479.17" cy="499.87" r="1.15" fill="#1c2f4a" stroke="#0c1c2c" stroke-width="0.3"/>
<circle cx="470.29" cy="498.27" r="1.15" fill="#1c2f4a" stroke="#0c1c2c" stroke-width="0.3"/>
<circle cx="475.91" cy="496.62" r="1.15" fill="#1c2f4a" stroke="#0c1c2c" stroke-width="0.3"/>
<circle cx="472.40" cy="498.57" r="1.15" fill="#1c2f4a" stroke="#0c1c2c" stroke-width="0.3"/>
<circle cx="467.03" cy="498.65" r="1.15" fill="#1c2f4a" stroke="#0c1c2c" stroke-width="0.3"/>
<circle cx="476.09" cy="497.72" r="1.15" fill="#1c2f4a" stroke="#0c1c2c" stroke-width="0.3"/>
<circle cx="474.70" cy="499.84" r="1.15" fill="#1c2f4a" stroke="#0c1c2c" stroke-width="0.3"/>
<circle cx="481.44" cy="497.95" r="1.15" fill="#1c2f4a" stroke="#0c1c2c" stroke-width="0.3"/>
<circle cx="472.20" cy="499.53" r="1.15" fill="#1c2f4a" stroke="#0c1c2c" stroke-width="0.3"/>
<circle cx="480.87" cy="497.83" r="1.15" fill="#1c2f4a" stroke="#0c1c2c" stroke-width="0.3"/>
<circle cx="475.44" cy="496.48" r="1.15" fill="#1c2f4a" stroke="#0c1c2c" stroke-width="0.3"/>
<circle cx="468.38" cy="499.99" r="1.15" fill="#1c2f4a" stroke="#0c1c2c" stroke-width="0.3"/>
<circle cx="478.89" cy="498.04" r="1.15" fill="#1c2f4a" stroke="#0c1c2c" stroke-width="0.3"/>
<circle cx="471.54" cy="497.84" r="1.15" fill="#1c2f4a" stroke="#0c1c2c" stroke-width="0.3"/>
<circle cx="475.77" cy="499.62" r="1.15" fill="#1c2f4a" stroke="#0c1c2c" stroke-width="0.3"/>
<circle cx="467.91" cy="499.16" r="1.15" fill="#1c2f4a" stroke="#0c1c2c" stroke-width="0.3"/>
<circle cx="466.88" cy="496.33" r="1.15" fill="#1c2f4a" stroke="#0c1c2c" stroke-width="0.3"/>
<circle cx="482.36" cy="496.32" r="1.15" fill="#1c2f4a" stroke="#0c1c2c" stroke-width="0.3"/>
<circle cx="467.41" cy="499.73" r="1.15" fill="#1c2f4a" stroke="#0c1c2c" stroke-width="0.3"/>
<circle cx="469.23" cy="497.46" r="1.15" fill="#1c2f4a" stroke="#0c1c2c" stroke-width="0.3"/>
<circle cx="469.48" cy="496.51" r="1.15" fill="#1c2f4a" stroke="#0c1c2c" stroke-width="0.3"/>
<circle cx="468.33" cy="499.28" r="1.15" fill="#1c2f4a" stroke="#0c1c2c" stroke-width="0.3"/>
<circle cx="480.71" cy="497.83" r="1.15" fill="#1c2f4a" stroke="#0c1c2c" stroke-width="0.3"/>
<circle cx="483.62" cy="500.03" r="1.15" fill="#1c2f4a" stroke="#0c1c2c" stroke-width="0.3"/>
<circle cx="477.74" cy="498.78" r="1.15" fill="#1c2f4a" stroke="#0c1c2c" stroke-width="0.3"/>
<circle cx="473.42" cy="497.58" r="1.15" fill="#1c2f4a" stroke="#0c1c2c" stroke-width="0.3"/>
<circle cx="481.80" cy="497.91" r="1.15" fill="#1c2f4a" stroke="#0c1c2c" stroke-width="0.3"/>
<circle cx="475.31" cy="497.19" r="1.15" fill="#1c2f4a" stroke="#0c1c2c" stroke-width="0.3"/>
<circle cx="468.99" cy="499.86" r="1.15" fill="#1c2f4a" stroke="#0c1c2c" stroke-width="0.3"/>
<circle cx="478.43" cy="498.85" r="1.15" fill="#1c2f4a" stroke="#0c1c2c" stroke-width="0.3"/>
<circle cx="472.80" cy="496.84" r="1.15" fill="#1c2f4a" stroke="#0c1c2c" stroke-width="0.3"/>
<circle cx="471.29" cy="497.93" r="1.15" fill="#1c2f4a" stroke="#0c1c2c" stroke-width="0.3"/>
<circle cx="472.15" cy="498.45" r="1.15" fill="#1c2f4a" stroke="#0c1c2c" stroke-width="0.3"/>
<circle cx="473.25" cy="498.64" r="1.15" fill="#1c2f4a" stroke="#0c1c2c" stroke-width="0.3"/>
<circle cx="469.80" cy="496.37" r="1.15" fill="#1c2f4a" stroke="#0c1c2c" stroke-width="0.3"/>
<circle cx="477.11" cy="497.97" r="1.15" fill="#1c2f4a" stroke="#0c1c2c" stroke-width="0.3"/>
<circle cx="481.46" cy="500.13" r="1.15" fill="#1c2f4a" stroke="#0c1c2c" stroke-width="0.3"/>
<circle cx="497.46" cy="427.16" r="1.15" fill="#1c4a66" stroke="#0c1c2c" stroke-width="0.3"/>
<circle cx="497.01" cy="433.38" r="1.15" fill="#1c4a66" stroke="#0c1c2c" stroke-width="0.3"/>
<circle cx="497.55" cy="439.59" r="1.15" fill="#1c4a66" stroke="#0c1c2c" stroke-width="0.3"/>
<circle cx="497.02" cy="441.15" r="1.15" fill="#1c4a66" stroke="#0c1c2c" stroke-width="0.3"/>
<circle cx="497.38" cy="442.70" r="1.15" fill="#1c4a66" stroke="#0c1c2c" stroke-width="0.3"/>
<circle cx="497.69" cy="444.26" r="1.15" fill="#1c4a66" stroke="#0c1c2c" stroke-width="0.3"/>
<circle cx="497.54" cy="445.81" r="1.15" fill="#1c4a66" stroke="#0c1c2c" stroke-width="0.3"/>
<circle cx="497.73" cy="447.36" r="1.15" fill="#1c4a66" stroke="#0c1c2c" stroke-width="0.3"/>
<circle cx="497.60" cy="448.92" r="1.15" fill="#1c4a66" stroke="#0c1c2c" stroke-width="0.3"/>
<circle cx="497.22" cy="450.47" r="1.15" fill="#1c4a66" stroke="#0c1c2c" stroke-width="0.3"/>
<circle cx="497.11" cy="452.03" r="1.15" fill="#1c4a66" stroke="#0c1c2c" stroke-width="0.3"/>
<circle cx="497.36" cy="453.58" r="1.15" fill="#1c4a66" stroke="#0c1c2c" stroke-width="0.3"/>
<circle cx="497.54" cy="455.13" r="1.15" fill="#1c4a66" stroke="#0c1c2c" stroke-width="0.3"/>
<circle cx="497.19" cy="456.69" r="1.15" fill="#1c4a66" stroke="#0c1c2c" stroke-width="0.3"/>
<circle cx="497.26" cy="458.24" r="1.15" fill="#1c4a66" stroke="#0c1c2c" stroke-width="0.3"/>
<circle cx="497.60" cy="459.80" r="1.15" fill="#1c4a66" stroke="#0c1c2c" stroke-width="0.3"/>
<circle cx="497.28" cy="461.35" r="1.15" fill="#1c4a66" stroke="#0c1c2c" stroke-width="0.3"/>
<circle cx="497.48" cy="462.90" r="1.15" fill="#1c4a66" stroke="#0c1c2c" stroke-width="0.3"/>
<circle cx="497.44" cy="464.46" r="1.15" fill="#1c4a66" stroke="#0c1c2c" stroke-width="0.3"/>
<circle cx="497.74" cy="466.01" r="1.15" fill="#1c4a66" stroke="#0c1c2c" stroke-width="0.3"/>
<circle cx="497.02" cy="467.57" r="1.15" fill="#1c4a66" stroke="#0c1c2c" stroke-width="0.3"/>
<circle cx="497.15" cy="469.12" r="1.15" fill="#1c4a66" stroke="#0c1c2c" stroke-width="0.3"/>
<circle cx="497.62" cy="470.67" r="1.15" fill="#1c4a66" stroke="#0c1c2c" stroke-width="0.3"/>
<circle cx="497.54" cy="472.23" r="1.15" fill="#1c4a66" stroke="#0c1c2c" stroke-width="0.3"/>
<circle cx="497.08" cy="473.78" r="1.15" fill="#1c4a66" stroke="#0c1c2c" stroke-width="0.3"/>
<circle cx="497.11" cy="475.34" r="1.15" fill="#1c4a66" stroke="#0c1c2c" stroke-width="0.3"/>
<circle cx="497.17" cy="476.89" r="1.15" fill="#1c4a66" stroke="#0c1c2c" stroke-width="0.3"/>
<circle cx="497.43" cy="478.44" r="1.15" fill="#1c4a66" stroke="#0c1c2c" stroke-width="0.3"/>
<circle cx="497.72" cy="480.00" r="1.15" fill="#1c4a66" stroke="#0c1c2c" stroke-width="0.3"/>
<circle cx="497.17" cy="481.55" r="1.15" fill="#1c4a66" stroke="#0c1c2c" stroke-width="0.3"/>
<circle cx="497.16" cy="483.11" r="1.15" fill="#1c4a66" stroke="#0c1c2c" stroke-width="0.3"/>
<circle cx="497.55" cy="484.66" r="1.15" fill="#1c4a66" stroke="#0c1c2c" stroke-width="0.3"/>
<circle cx="497.34" cy="486.21" r="1.15" fill="#1c4a66" stroke="#0c1c2c" stroke-width="0.3"/>
<circle cx="497.68" cy="487.77" r="1.15" fill="#1c4a66" stroke="#0c1c2c" stroke-width="0.3"/>
<circle cx="498.60" cy="489.32" r="1.15" fill="#1c4a66" stroke="#0c1c2c" stroke-width="0.3"/>
<circle cx="498.45" cy="490.88" r="1.15" fill="#1c4a66" stroke="#0c1c2c" stroke-width="0.3"/>
<circle cx="497.92" cy="491.65" r="1.15" fill="#1c4a66" stroke="#0c1c2c" stroke-width="0.3"/>
<circle cx="497.39" cy="492.43" r="1.15" fill="#1c4a66" stroke="#0c1c2c" stroke-width="0.3"/>
<circle cx="496.35" cy="493.21" r="1.15" fill="#1c4a66" stroke="#0c1c2c" stroke-width="0.3"/>
<circle cx="498.14" cy="493.98" r="1.15" fill="#1c4a66" stroke="#0c1c2c" stroke-width="0.3"/>
<circle cx="497.16" cy="494.76" r="1.15" fill="#1c4a66" stroke="#0c1c2c" stroke-width="0.3"/>
<circle cx="497.31" cy="495.54" r="1.15" fill="#1c4a66" stroke="#0c1c2c" stroke-width="0.3"/>
<circle cx="499.78" cy="496.47" r="1.15" fill="#1c4a66" stroke="#0c1c2c" stroke-width="0.3"/>
<circle cx="505.75" cy="498.67" r="1.15" fill="#1c4a66" stroke="#0c1c2c" stroke-width="0.3"/>
<circle cx="498.41" cy="498.18" r="1.15" fill="#1c4a66" stroke="#0c1c2c" stroke-width="0.3"/>
<circle cx="504.92" cy="499.21" r="1.15" fill="#1c4a66" stroke="#0c1c2c" stroke-width="0.3"/>
<circle cx="505.75" cy="498.13" r="1.15" fill="#1c4a66" stroke="#0c1c2c" stroke-width="0.3"/>
<circle cx="489.93" cy="498.69" r="1.15" fill="#1c4a66" stroke="#0c1c2c" stroke-width="0.3"/>
<circle cx="494.78" cy="499.79" r="1.15" fill="#1c4a66" stroke="#0c1c2c" stroke-width="0.3"/>
<circle cx="504.39" cy="497.27" r="1.15" fill="#1c4a66" stroke="#0c1c2c" stroke-width="0.3"/>
<circle cx="502.21" cy="499.72" r="1.15" fill="#1c4a66" stroke="#0c1c2c" stroke-width="0.3"/>
<circle cx="505.84" cy="496.54" r="1.15" fill="#1c4a66" stroke="#0c1c2c" stroke-width="0.3"/>
<circle cx="491.75" cy="500.08" r="1.15" fill="#1c4a66" stroke="#0c1c2c" stroke-width="0.3"/>
<circle cx="497.96" cy="496.56" r="1.15" fill="#1c4a66" stroke="#0c1c2c" stroke-width="0.3"/>
<circle cx="505.19" cy="496.44" r="1.15" fill="#1c4a66" stroke="#0c1c2c" stroke-width="0.3"/>
<circle cx="498.12" cy="497.88" r="1.15" fill="#1c4a66" stroke="#0c1c2c" stroke-width="0.3"/>
<circle cx="500.47" cy="496.89" r="1.15" fill="#1c4a66" stroke="#0c1c2c" stroke-width="0.3"/>
<circle cx="505.95" cy="499.04" r="1.15" fill="#1c4a66" stroke="#0c1c2c" stroke-width="0.3"/>
<circle cx="491.52" cy="496.76" r="1.15" fill="#1c4a66" stroke="#0c1c2c" stroke-width="0.3"/>
<circle cx="489.42" cy="498.22" r="1.15" fill="#1c4a66" stroke="#0c1c2c" stroke-width="0.3"/>
<circle cx="503.77" cy="499.12" r="1.15" fill="#1c4a66" stroke="#0c1c2c" stroke-width="0.3"/>
<circle cx="498.86" cy="495.71" r="1.15" fill="#1c4a66" stroke="#0c1c2c" stroke-width="0.3"/>
<circle cx="492.01" cy="498.33" r="1.15" fill="#1c4a66" stroke="#0c1c2c" stroke-width="0.3"/>
<circle cx="503.38" cy="498.46" r="1.15" fill="#1c4a66" stroke="#0c1c2c" stroke-width="0.3"/>
<circle cx="493.50" cy="496.19" r="1.15" fill="#1c4a66" stroke="#0c1c2c" stroke-width="0.3"/>
<circle cx="490.74" cy="498.48" r="1.15" fill="#1c4a66" stroke="#0c1c2c" stroke-width="0.3"/>
<circle cx="493.76" cy="497.09" r="1.15" fill="#1c4a66" stroke="#0c1c2c" stroke-width="0.3"/>
<circle cx="489.05" cy="499.40" r="1.15" fill="#1c4a66" stroke="#0c1c2c" stroke-width="0.3"/>
<circle cx="495.70" cy="496.27" r="1.15" fill="#1c4a66" stroke="#0c1c2c" stroke-width="0.3"/>
<circle cx="502.43" cy="498.99" r="1.15" fill="#1c4a66" stroke="#0c1c2c" stroke-width="0.3"/>
<circle cx="496.57" cy="499.96" r="1.15" fill="#1c4a66" stroke="#0c1c2c" stroke-width="0.3"/>
<circle cx="505.76" cy="495.65" r="1.15" fill="#1c4a66" stroke="#0c1c2c" stroke-width="0.3"/>
<circle cx="489.15" cy="499.39" r="1.15" fill="#1c4a66" stroke="#0c1c2c" stroke-width="0.3"/>
<circle cx="491.52" cy="495.79" r="1.15" fill="#1c4a66" stroke="#0c1c2c" stroke-width="0.3"/>
<circle cx="490.99" cy="495.60" r="1.15" fill="#1c4a66" stroke="#0c1c2c" stroke-width="0.3"/>
<circle cx="498.74" cy="497.37" r="1.15" fill="#1c4a66" stroke="#0c1c2c" stroke-width="0.3"/>
<circle cx="491.99" cy="500.14" r="1.15" fill="#1c4a66" stroke="#0c1c2c" stroke-width="0.3"/>
<circle cx="500.41" cy="499.92" r="1.15" fill="#1c4a66" stroke="#0c1c2c" stroke-width="0.3"/>
<circle cx="497.82" cy="499.23" r="1.15" fill="#1c4a66" stroke="#0c1c2c" stroke-width="0.3"/>
<circle cx="498.86" cy="498.39" r="1.15" fill="#1c4a66" stroke="#0c1c2c" stroke-width="0.3"/>
<circle cx="503.61" cy="497.35" r="1.15" fill="#1c4a66" stroke="#0c1c2c" stroke-width="0.3"/>
<circle cx="502.62" cy="495.69" r="1.15" fill="#1c4a66" stroke="#0c1c2c" stroke-width="0.3"/>
<circle cx="505.00" cy="498.55" r="1.15" fill="#1c4a66" stroke="#0c1c2c" stroke-width="0.3"/>
<circle cx="491.14" cy="499.54" r="1.15" fill="#1c4a66" stroke="#0c1c2c" stroke-width="0.3"/>
<circle cx="495.23" cy="497.58" r="1.15" fill="#1c4a66" stroke="#0c1c2c" stroke-width="0.3"/>
<circle cx="505.69" cy="499.56" r="1.15" fill="#1c4a66" stroke="#0c1c2c" stroke-width="0.3"/>
<circle cx="495.54" cy="499.80" r="1.15" fill="#1c4a66" stroke="#0c1c2c" stroke-width="0.3"/>
<circle cx="493.54" cy="497.61" r="1.15" fill="#1c4a66" stroke="#0c1c2c" stroke-width="0.3"/>
<circle cx="497.07" cy="496.96" r="1.15" fill="#1c4a66" stroke="#0c1c2c" stroke-width="0.3"/>
<circle cx="491.66" cy="499.89" r="1.15" fill="#1c4a66" stroke="#0c1c2c" stroke-width="0.3"/>
<circle cx="503.67" cy="498.10" r="1.15" fill="#1c4a66" stroke="#0c1c2c" stroke-width="0.3"/>
<circle cx="499.85" cy="496.92" r="1.15" fill="#1c4a66" stroke="#0c1c2c" stroke-width="0.3"/>
<circle cx="490.10" cy="496.64" r="1.15" fill="#1c4a66" stroke="#0c1c2c" stroke-width="0.3"/>
<circle cx="505.76" cy="498.41" r="1.15" fill="#1c4a66" stroke="#0c1c2c" stroke-width="0.3"/>
<circle cx="497.77" cy="496.06" r="1.15" fill="#1c4a66" stroke="#0c1c2c" stroke-width="0.3"/>
<circle cx="492.97" cy="499.41" r="1.15" fill="#1c4a66" stroke="#0c1c2c" stroke-width="0.3"/>
<circle cx="499.43" cy="496.86" r="1.15" fill="#1c4a66" stroke="#0c1c2c" stroke-width="0.3"/>
<circle cx="505.49" cy="496.60" r="1.15" fill="#1c4a66" stroke="#0c1c2c" stroke-width="0.3"/>
<circle cx="494.64" cy="496.10" r="1.15" fill="#1c4a66" stroke="#0c1c2c" stroke-width="0.3"/>
<circle cx="488.65" cy="497.89" r="1.15" fill="#1c4a66" stroke="#0c1c2c" stroke-width="0.3"/>
<circle cx="491.96" cy="499.74" r="1.15" fill="#1c4a66" stroke="#0c1c2c" stroke-width="0.3"/>
<circle cx="489.46" cy="499.97" r="1.15" fill="#1c4a66" stroke="#0c1c2c" stroke-width="0.3"/>
<circle cx="497.92" cy="497.73" r="1.15" fill="#1c4a66" stroke="#0c1c2c" stroke-width="0.3"/>
<circle cx="494.01" cy="499.39" r="1.15" fill="#1c4a66" stroke="#0c1c2c" stroke-width="0.3"/>
<circle cx="503.73" cy="497.26" r="1.15" fill="#1c4a66" stroke="#0c1c2c" stroke-width="0.3"/>
<circle cx="492.11" cy="499.81" r="1.15" fill="#1c4a66" stroke="#0c1c2c" stroke-width="0.3"/>
<circle cx="488.67" cy="496.56" r="1.15" fill="#1c4a66" stroke="#0c1c2c" stroke-width="0.3"/>
<circle cx="496.76" cy="499.16" r="1.15" fill="#1c4a66" stroke="#0c1c2c" stroke-width="0.3"/>
<circle cx="490.62" cy="500.14" r="1.15" fill="#1c4a66" stroke="#0c1c2c" stroke-width="0.3"/>
<circle cx="493.99" cy="499.38" r="1.15" fill="#1c4a66" stroke="#0c1c2c" stroke-width="0.3"/>
<circle cx="492.46" cy="498.07" r="1.15" fill="#1c4a66" stroke="#0c1c2c" stroke-width="0.3"/>
<circle cx="491.61" cy="497.59" r="1.15" fill="#1c4a66" stroke="#0c1c2c" stroke-width="0.3"/>
<circle cx="499.85" cy="498.39" r="1.15" fill="#1c4a66" stroke="#0c1c2c" stroke-width="0.3"/>
<circle cx="505.25" cy="499.39" r="1.15" fill="#1c4a66" stroke="#0c1c2c" stroke-width="0.3"/>
<circle cx="495.06" cy="497.95" r="1.15" fill="#1c4a66" stroke="#0c1c2c" stroke-width="0.3"/>
<circle cx="499.89" cy="495.79" r="1.15" fill="#1c4a66" stroke="#0c1c2c" stroke-width="0.3"/>
<circle cx="494.22" cy="497.70" r="1.15" fill="#1c4a66" stroke="#0c1c2c" stroke-width="0.3"/>
<circle cx="504.87" cy="495.81" r="1.15" fill="#1c4a66" stroke="#0c1c2c" stroke-width="0.3"/>
<circle cx="498.35" cy="500.07" r="1.15" fill="#1c4a66" stroke="#0c1c2c" stroke-width="0.3"/>
<circle cx="488.93" cy="495.57" r="1.15" fill="#1c4a66" stroke="#0c1c2c" stroke-width="0.3"/>
<circle cx="501.75" cy="496.06" r="1.15" fill="#1c4a66" stroke="#0c1c2c" stroke-width="0.3"/>
<circle cx="492.18" cy="497.66" r="1.15" fill="#1c4a66" stroke="#0c1c2c" stroke-width="0.3"/>
<circle cx="489.24" cy="497.76" r="1.15" fill="#1c4a66" stroke="#0c1c2c" stroke-width="0.3"/>
<circle cx="488.75" cy="497.70" r="1.15" fill="#1c4a66" stroke="#0c1c2c" stroke-width="0.3"/>
<circle cx="503.52" cy="495.96" r="1.15" fill="#1c4a66" stroke="#0c1c2c" stroke-width="0.3"/>
<circle cx="501.18" cy="499.89" r="1.15" fill="#1c4a66" stroke="#0c1c2c" stroke-width="0.3"/>
<circle cx="494.85" cy="497.20" r="1.15" fill="#1c4a66" stroke="#0c1c2c" stroke-width="0.3"/>
<circle cx="498.44" cy="497.67" r="1.15" fill="#1c4a66" stroke="#0c1c2c" stroke-width="0.3"/>
<circle cx="501.10" cy="498.80" r="1.15" fill="#1c4a66" stroke="#0c1c2c" stroke-width="0.3"/>
<circle cx="489.76" cy="496.82" r="1.15" fill="#1c4a66" stroke="#0c1c2c" stroke-width="0.3"/>
<circle cx="501.10" cy="496.84" r="1.15" fill="#1c4a66" stroke="#0c1c2c" stroke-width="0.3"/>
<circle cx="501.16" cy="499.72" r="1.15" fill="#1c4a66" stroke="#0c1c2c" stroke-width="0.3"/>
<circle cx="505.36" cy="496.94" r="1.15" fill="#1c4a66" stroke="#0c1c2c" stroke-width="0.3"/>
<circle cx="489.46" cy="498.09" r="1.15" fill="#1c4a66" stroke="#0c1c2c" stroke-width="0.3"/>
<circle cx="498.70" cy="497.91" r="1.15" fill="#1c4a66" stroke="#0c1c2c" stroke-width="0.3"/>
<circle cx="497.55" cy="497.23" r="1.15" fill="#1c4a66" stroke="#0c1c2c" stroke-width="0.3"/>
<circle cx="503.63" cy="499.95" r="1.15" fill="#1c4a66" stroke="#0c1c2c" stroke-width="0.3"/>
<circle cx="494.95" cy="497.39" r="1.15" fill="#1c4a66" stroke="#0c1c2c" stroke-width="0.3"/>
<circle cx="500.32" cy="498.46" r="1.15" fill="#1c4a66" stroke="#0c1c2c" stroke-width="0.3"/>
<circle cx="504.55" cy="496.10" r="1.15" fill="#1c4a66" stroke="#0c1c2c" stroke-width="0.3"/>
<circle cx="494.68" cy="499.12" r="1.15" fill="#1c4a66" stroke="#0c1c2c" stroke-width="0.3"/>
<circle cx="497.68" cy="496.36" r="1.15" fill="#1c4a66" stroke="#0c1c2c" stroke-width="0.3"/>
<circle cx="504.48" cy="496.80" r="1.15" fill="#1c4a66" stroke="#0c1c2c" stroke-width="0.3"/>
<circle cx="489.01" cy="497.29" r="1.15" fill="#1c4a66" stroke="#0c1c2c" stroke-width="0.3"/>
<circle cx="505.93" cy="496.12" r="1.15" fill="#1c4a66" stroke="#0c1c2c" stroke-width="0.3"/>
<circle cx="494.03" cy="500.03" r="1.15" fill="#1c4a66" stroke="#0c1c2c" stroke-width="0.3"/>
<circle cx="496.63" cy="497.42" r="1.15" fill="#1c4a66" stroke="#0c1c2c" stroke-width="0.3"/>
<circle cx="493.58" cy="497.34" r="1.15" fill="#1c4a66" stroke="#0c1c2c" stroke-width="0.3"/>
<circle cx="502.76" cy="497.04" r="1.15" fill="#1c4a66" stroke="#0c1c2c" stroke-width="0.3"/>
<circle cx="497.99" cy="498.30" r="1.15" fill="#1c4a66" stroke="#0c1c2c" stroke-width="0.3"/>
<circle cx="501.86" cy="499.88" r="1.15" fill="#1c4a66" stroke="#0c1c2c" stroke-width="0.3"/>
<circle cx="490.27" cy="499.32" r="1.15" fill="#1c4a66" stroke="#0c1c2c" stroke-width="0.3"/>
<line x1="466.00" y1="498.34" x2="484.00" y2="498.34" stroke="#cfd8e0" stroke-width="0.6" />
<line x1="488.00" y1="498.02" x2="507.00" y2="498.02" stroke="#9fdcef" stroke-width="0.6" />
<line x1="475.20" y1="500.20" x2="475.20" y2="502.20" stroke="#222" stroke-width="0.6" />
<line x1="497.40" y1="500.20" x2="497.40" y2="502.20" stroke="#222" stroke-width="0.6" />
<text transform="translate(477.50,508.50) rotate(-45)" x="0" y="0.00" font-size="6.6" fill="#333" text-anchor="end" >Scrambled</text>
<text transform="translate(499.50,508.50) rotate(-45)" x="0" y="0.00" font-size="6.4" fill="#333" text-anchor="end" >shPIWIL4-B</text>
<text x="58.10" y="542.28" font-size="6.7" fill="#333" text-anchor="middle" >Knockdown</text>
<text x="57.90" y="550.28" font-size="6.7" fill="#333" text-anchor="middle" >(KD)</text>
<line x1="45.00" y1="553.00" x2="75.50" y2="553.00" stroke="#333" stroke-width="0.8" />
<text x="103.70" y="542.21" font-size="6.5" fill="#333" text-anchor="middle" >Rescue of KD</text>
<text x="103.70" y="550.21" font-size="6.5" fill="#333" text-anchor="middle" >by overexpression</text>
<line x1="83.30" y1="553.00" x2="114.50" y2="553.00" stroke="#333" stroke-width="0.8" />
<text x="26.30" y="561.04" font-size="6.6" fill="#333" text-anchor="middle" >PIWIL4</text>
<text x="51.30" y="560.98" font-size="6.4" fill="#333" text-anchor="middle" >+</text>
<text x="71.30" y="560.98" font-size="6.4" fill="#333" text-anchor="middle" >–</text>
<text x="90.50" y="560.98" font-size="6.4" fill="#333" text-anchor="middle" >+</text>
<text x="107.00" y="560.98" font-size="6.4" fill="#333" text-anchor="middle" >+</text>
<text transform="translate(52.40,601.20) rotate(-90)" x="0" y="2.24" font-size="6.6" fill="#333" >Scrambled</text>
<text transform="translate(70.40,601.20) rotate(-90)" x="0" y="2.24" font-size="6.6" fill="#333" >shPIWIL4-A</text>
<text transform="translate(90.80,601.20) rotate(-90)" x="0" y="2.24" font-size="6.6" fill="#333" >Scrambled</text>
<text transform="translate(108.40,601.20) rotate(-90)" x="0" y="2.24" font-size="6.6" fill="#333" >shPIWIL4-A</text>
<clipPath id="bi1"><rect x="45" y="602.5" width="76.2" height="13.799999999999955"/></clipPath>
<rect x="45.00" y="602.50" width="76.20" height="13.80" fill="#ffffff" stroke="#222" stroke-width="0.8"/>
<g clip-path="url(#bi1)" filter="url(#bl1)">
<rect x="47.5" y="606.30" width="14.5" height="3.0" rx="1.50" fill="#8a8a8a"/>
<rect x="47.5" y="606.00" width="4.5" height="3.0" rx="1.50" fill="#333"/>
<rect x="65.5" y="607.70" width="14.5" height="2.6" rx="1.30" fill="#bdbdbd"/>
<rect x="84.5" y="608.60" width="18.0" height="5.8" rx="2.90" fill="#0a0a0a"/>
<rect x="103.5" y="608.70" width="15.5" height="5.6" rx="2.80" fill="#111"/>
</g>
<text x="40.00" y="614.24" font-size="6.6" fill="#333" text-anchor="end" >PIWIL4</text>
<clipPath id="bi2"><rect x="45" y="626.3" width="76.2" height="15.0"/></clipPath>
<rect x="45.00" y="626.30" width="76.20" height="15.00" fill="#ffffff" stroke="#222" stroke-width="0.8"/>
<g clip-path="url(#bi2)" filter="url(#bl1)">
<rect x="67" y="632.90" width="14" height="4.2" rx="2.10" fill="#5a5a5a"/>
<rect x="67" y="632.40" width="14" height="1.6" rx="0.80" fill="#7a7a7a"/>
<rect x="52" y="635.50" width="4" height="1" rx="0.50" fill="#ddd"/>
<rect x="95" y="634.50" width="5" height="1" rx="0.50" fill="#ddd"/>
<rect x="108" y="633.40" width="7" height="1.2" rx="0.60" fill="#ccc"/>
</g>
<text x="40.00" y="636.04" font-size="6.6" fill="#333" text-anchor="end" >pATR</text>
<text x="40.00" y="642.54" font-size="6.6" fill="#333" text-anchor="end" >(Ser428)</text>
<clipPath id="bi3"><rect x="45" y="650.5" width="76.2" height="15.799999999999955"/></clipPath>
<rect x="45.00" y="650.50" width="76.20" height="15.80" fill="#ffffff" stroke="#222" stroke-width="0.8"/>
<g clip-path="url(#bi3)" filter="url(#bl1)">
<rect x="67.5" y="655.90" width="15.0" height="3.4" rx="1.70" fill="#151515"/>
<rect x="102.5" y="657.30" width="15.0" height="3.0" rx="1.50" fill="#2a2a2a"/>
<rect x="92" y="654.55" width="7" height="0.9" rx="0.45" fill="#bbb"/>
<rect x="103" y="655.05" width="10" height="0.9" rx="0.45" fill="#aaa"/>
</g>
<text x="40.00" y="658.04" font-size="6.6" fill="#333" text-anchor="end" >pRPA32</text>
<text x="40.00" y="664.74" font-size="6.6" fill="#333" text-anchor="end" >(Ser8)</text>
<clipPath id="bi4"><rect x="45" y="674.5" width="76.2" height="14.299999999999955"/></clipPath>
<rect x="45.00" y="674.50" width="76.20" height="14.30" fill="#ffffff" stroke="#222" stroke-width="0.8"/>
<g clip-path="url(#bi4)" filter="url(#bl1)">
<rect x="47.5" y="680.90" width="17.5" height="1.6" rx="0.80" fill="#666"/>
<rect x="65.5" y="682.40" width="17.0" height="2.4" rx="1.20" fill="#1a1a1a"/>
<rect x="86" y="685.60" width="4" height="0.8" rx="0.40" fill="#ccc"/>
<rect x="100" y="685.10" width="3" height="1.2" rx="0.60" fill="#999"/>
<rect x="47.3" y="675.50" width="1.2000000000000028" height="11" rx="3.00" fill="#bbb"/>
</g>
<text x="40.00" y="684.74" font-size="6.6" fill="#333" text-anchor="end" >γH2AX</text>
<clipPath id="bi5"><rect x="45" y="691.3" width="76.2" height="13.700000000000045"/></clipPath>
<rect x="45.00" y="691.30" width="76.20" height="13.70" fill="#ffffff" stroke="#222" stroke-width="0.8"/>
<g clip-path="url(#bi5)" filter="url(#bl1)">
<rect x="46" y="692.25" width="18" height="11.5" rx="3.00" fill="#0a0a0a"/>
<rect x="63.5" y="693.00" width="20.0" height="11" rx="3.00" fill="#0d0d0d"/>
<rect x="83" y="693.00" width="20" height="11" rx="3.00" fill="#0d0d0d"/>
<rect x="102" y="692.60" width="18.5" height="11.2" rx="3.00" fill="#111"/>
</g>
<text x="40.00" y="700.24" font-size="6.6" fill="#333" text-anchor="end" >β-ACTIN</text>
<line x1="48.00" y1="617.00" x2="48.00" y2="626.00" stroke="#333" stroke-width="0.5" stroke-dasharray="0.8,0.8"/>
<line x1="48.00" y1="641.50" x2="48.00" y2="650.00" stroke="#333" stroke-width="0.5" stroke-dasharray="0.8,0.8"/>
<line x1="48.00" y1="666.50" x2="48.00" y2="674.00" stroke="#333" stroke-width="0.5" stroke-dasharray="0.8,0.8"/>
<line x1="180.40" y1="579.40" x2="180.40" y2="646.10" stroke="#222" stroke-width="0.8" />
<line x1="180.40" y1="646.10" x2="299.00" y2="646.10" stroke="#222" stroke-width="0.8" />
<line x1="177.90" y1="646.10" x2="180.40" y2="646.10" stroke="#222" stroke-width="0.7" />
<text x="174.40" y="648.38" font-size="6.7" fill="#333" text-anchor="end" >0.00</text>
<line x1="177.90" y1="629.80" x2="180.40" y2="629.80" stroke="#222" stroke-width="0.7" />
<text x="174.40" y="632.08" font-size="6.7" fill="#333" text-anchor="end" >0.25</text>
<line x1="177.90" y1="613.50" x2="180.40" y2="613.50" stroke="#222" stroke-width="0.7" />
<text x="174.40" y="615.78" font-size="6.7" fill="#333" text-anchor="end" >0.50</text>
<line x1="177.90" y1="597.20" x2="180.40" y2="597.20" stroke="#222" stroke-width="0.7" />
<text x="174.40" y="599.48" font-size="6.7" fill="#333" text-anchor="end" >0.75</text>
<line x1="177.90" y1="580.90" x2="180.40" y2="580.90" stroke="#222" stroke-width="0.7" />
<text x="174.40" y="583.18" font-size="6.7" fill="#333" text-anchor="end" >1.00</text>
<text transform="translate(142.00,611.50) rotate(-90)" x="0" y="2.45" font-size="7.2" fill="#333" text-anchor="middle" >Relative units</text>
<text transform="translate(154.00,612.70) rotate(-90)" x="0" y="2.35" font-size="6.9" fill="#333" text-anchor="middle" >target protein/β-ACTIN</text>
<rect x="183.00" y="631.10" width="4.00" height="15.00" fill="#1d4d8a" />
<path d="M185.00,631.10 V627.52 M183.80,627.52 H186.20" fill="none" stroke="#1d4d8a" stroke-width="0.6" />
<line x1="185.00" y1="646.10" x2="185.00" y2="647.60" stroke="#222" stroke-width="0.5" />
<rect x="189.67" y="640.88" width="4.00" height="5.22" fill="#1d4d8a" />
<path d="M191.67,640.88 V639.91 M190.47,639.91 H192.87" fill="none" stroke="#1d4d8a" stroke-width="0.6" />
<line x1="191.67" y1="646.10" x2="191.67" y2="647.60" stroke="#222" stroke-width="0.5" />
<rect x="196.34" y="588.07" width="4.00" height="58.03" fill="#1d4d8a" />
<path d="M198.34,588.07 V583.83 M197.14,583.83 H199.54" fill="none" stroke="#1d4d8a" stroke-width="0.6" />
<line x1="198.34" y1="646.10" x2="198.34" y2="647.60" stroke="#222" stroke-width="0.5" />
<rect x="203.01" y="599.16" width="4.00" height="46.94" fill="#1d4d8a" />
<path d="M205.01,599.16 V593.94 M203.81,593.94 H206.21" fill="none" stroke="#1d4d8a" stroke-width="0.6" />
<line x1="205.01" y1="646.10" x2="205.01" y2="647.60" stroke="#222" stroke-width="0.5" />
<text transform="translate(185.00,652.50) rotate(-90)" x="0" y="2.21" font-size="6.5" fill="#333" text-anchor="end" >Scrambled</text>
<text transform="translate(191.67,652.50) rotate(-90)" x="0" y="2.14" font-size="6.3" fill="#333" text-anchor="end" >shPIWIL4-A</text>
<text transform="translate(198.34,652.50) rotate(-90)" x="0" y="2.21" font-size="6.5" fill="#333" text-anchor="end" >Scrambled</text>
<text transform="translate(205.01,652.50) rotate(-90)" x="0" y="2.14" font-size="6.3" fill="#333" text-anchor="end" >shPIWIL4-A</text>
<text x="185.00" y="697.61" font-size="6.8" fill="#333" text-anchor="middle" font-weight="bold" >–</text>
<text x="191.67" y="697.61" font-size="6.8" fill="#333" text-anchor="middle" font-weight="bold" >–</text>
<text x="198.34" y="697.61" font-size="6.8" fill="#333" text-anchor="middle" font-weight="bold" >+</text>
<text x="205.01" y="697.61" font-size="6.8" fill="#333" text-anchor="middle" font-weight="bold" >+</text>
<rect x="214.90" y="644.90" width="2.40" height="1.20" fill="#222" />
<line x1="216.10" y1="646.10" x2="216.10" y2="647.60" stroke="#222" stroke-width="0.5" />
<rect x="220.77" y="599.16" width="4.00" height="46.94" fill="#1a6b4c" />
<path d="M222.77,599.16 V594.59 M221.57,594.59 H223.97" fill="none" stroke="#1a6b4c" stroke-width="0.6" />
<line x1="222.77" y1="646.10" x2="222.77" y2="647.60" stroke="#222" stroke-width="0.5" />
<rect x="228.24" y="644.90" width="2.40" height="1.20" fill="#222" />
<line x1="229.44" y1="646.10" x2="229.44" y2="647.60" stroke="#222" stroke-width="0.5" />
<rect x="234.11" y="636.65" width="4.00" height="9.45" fill="#1a6b4c" />
<path d="M236.11,636.65 V635.99 M234.91,635.99 H237.31" fill="none" stroke="#1a6b4c" stroke-width="0.6" />
<line x1="236.11" y1="646.10" x2="236.11" y2="647.60" stroke="#222" stroke-width="0.5" />
<text transform="translate(216.10,652.50) rotate(-90)" x="0" y="2.21" font-size="6.5" fill="#333" text-anchor="end" >Scrambled</text>
<text transform="translate(222.77,652.50) rotate(-90)" x="0" y="2.14" font-size="6.3" fill="#333" text-anchor="end" >shPIWIL4-A</text>
<text transform="translate(229.44,652.50) rotate(-90)" x="0" y="2.21" font-size="6.5" fill="#333" text-anchor="end" >Scrambled</text>
<text transform="translate(236.11,652.50) rotate(-90)" x="0" y="2.14" font-size="6.3" fill="#333" text-anchor="end" >shPIWIL4-A</text>
<text x="216.10" y="697.61" font-size="6.8" fill="#333" text-anchor="middle" font-weight="bold" >–</text>
<text x="222.77" y="697.61" font-size="6.8" fill="#333" text-anchor="middle" font-weight="bold" >–</text>
<text x="229.44" y="697.61" font-size="6.8" fill="#333" text-anchor="middle" font-weight="bold" >+</text>
<text x="236.11" y="697.61" font-size="6.8" fill="#333" text-anchor="middle" font-weight="bold" >+</text>
<rect x="246.00" y="644.90" width="2.40" height="1.20" fill="#222" />
<line x1="247.20" y1="646.10" x2="247.20" y2="647.60" stroke="#222" stroke-width="0.5" />
<rect x="251.87" y="620.02" width="4.00" height="26.08" fill="#39ace0" />
<path d="M253.87,620.02 V615.78 M252.67,615.78 H255.07" fill="none" stroke="#39ace0" stroke-width="0.6" />
<line x1="253.87" y1="646.10" x2="253.87" y2="647.60" stroke="#222" stroke-width="0.5" />
<rect x="258.54" y="645.45" width="4.00" height="0.65" fill="#39ace0" />
<line x1="260.54" y1="646.10" x2="260.54" y2="647.60" stroke="#222" stroke-width="0.5" />
<rect x="265.21" y="631.10" width="4.00" height="15.00" fill="#39ace0" />
<path d="M267.21,631.10 V627.52 M266.01,627.52 H268.41" fill="none" stroke="#39ace0" stroke-width="0.6" />
<line x1="267.21" y1="646.10" x2="267.21" y2="647.60" stroke="#222" stroke-width="0.5" />
<text transform="translate(247.20,652.50) rotate(-90)" x="0" y="2.21" font-size="6.5" fill="#333" text-anchor="end" >Scrambled</text>
<text transform="translate(253.87,652.50) rotate(-90)" x="0" y="2.14" font-size="6.3" fill="#333" text-anchor="end" >shPIWIL4-A</text>
<text transform="translate(260.54,652.50) rotate(-90)" x="0" y="2.21" font-size="6.5" fill="#333" text-anchor="end" >Scrambled</text>
<text transform="translate(267.21,652.50) rotate(-90)" x="0" y="2.14" font-size="6.3" fill="#333" text-anchor="end" >shPIWIL4-A</text>
<text x="247.20" y="697.61" font-size="6.8" fill="#333" text-anchor="middle" font-weight="bold" >–</text>
<text x="253.87" y="697.61" font-size="6.8" fill="#333" text-anchor="middle" font-weight="bold" >–</text>
<text x="260.54" y="697.61" font-size="6.8" fill="#333" text-anchor="middle" font-weight="bold" >+</text>
<text x="267.21" y="697.61" font-size="6.8" fill="#333" text-anchor="middle" font-weight="bold" >+</text>
<rect x="276.30" y="639.58" width="4.00" height="6.52" fill="#c8c8c8" />
<path d="M278.30,639.58 V637.30 M277.10,637.30 H279.50" fill="none" stroke="#c8c8c8" stroke-width="0.6" />
<line x1="278.30" y1="646.10" x2="278.30" y2="647.60" stroke="#222" stroke-width="0.5" />
<rect x="282.97" y="615.46" width="4.00" height="30.64" fill="#c8c8c8" />
<path d="M284.97,615.46 V606.98 M283.77,606.98 H286.17" fill="none" stroke="#c8c8c8" stroke-width="0.6" />
<line x1="284.97" y1="646.10" x2="284.97" y2="647.60" stroke="#222" stroke-width="0.5" />
<rect x="290.44" y="644.90" width="2.40" height="1.20" fill="#222" />
<line x1="291.64" y1="646.10" x2="291.64" y2="647.60" stroke="#222" stroke-width="0.5" />
<rect x="297.11" y="644.90" width="2.40" height="1.20" fill="#222" />
<line x1="298.31" y1="646.10" x2="298.31" y2="647.60" stroke="#222" stroke-width="0.5" />
<text transform="translate(278.30,652.50) rotate(-90)" x="0" y="2.21" font-size="6.5" fill="#333" text-anchor="end" >Scrambled</text>
<text transform="translate(284.97,652.50) rotate(-90)" x="0" y="2.14" font-size="6.3" fill="#333" text-anchor="end" >shPIWIL4-A</text>
<text transform="translate(291.64,652.50) rotate(-90)" x="0" y="2.21" font-size="6.5" fill="#333" text-anchor="end" >Scrambled</text>
<text transform="translate(298.31,652.50) rotate(-90)" x="0" y="2.14" font-size="6.3" fill="#333" text-anchor="end" >shPIWIL4-A</text>
<text x="278.30" y="697.61" font-size="6.8" fill="#333" text-anchor="middle" font-weight="bold" >–</text>
<text x="284.97" y="697.61" font-size="6.8" fill="#333" text-anchor="middle" font-weight="bold" >–</text>
<text x="291.64" y="697.61" font-size="6.8" fill="#333" text-anchor="middle" font-weight="bold" >+</text>
<text x="298.31" y="697.61" font-size="6.8" fill="#333" text-anchor="middle" font-weight="bold" >+</text>
<path d="M184.50,624.5 V622.7 H191.70 V636.4" fill="none" stroke="#666" stroke-width="0.5" />
<text x="188.10" y="622.84" font-size="6.0" fill="#222" text-anchor="middle" >**</text>
<path d="M191.90,636.4 V576.3 H198.80 V580.5" fill="none" stroke="#666" stroke-width="0.5" />
<text x="195.35" y="576.44" font-size="6.0" fill="#222" text-anchor="middle" >***</text>
<path d="M215.50,644.8 V589.5 H224.30 V593.6" fill="none" stroke="#666" stroke-width="0.5" />
<text x="219.90" y="589.64" font-size="6.0" fill="#222" text-anchor="middle" >***</text>
<path d="M225.20,593.6 V589.0 H236.00 V635.2" fill="none" stroke="#666" stroke-width="0.5" />
<text x="230.60" y="589.14" font-size="6.0" fill="#222" text-anchor="middle" >***</text>
<path d="M248.30,644 V606.5 H253.60 V614.8" fill="none" stroke="#666" stroke-width="0.5" />
<text x="250.95" y="606.64" font-size="6.0" fill="#222" text-anchor="middle" >***</text>
<path d="M254.80,614.8 V606.5 H266.80 V627" fill="none" stroke="#666" stroke-width="0.5" />
<text x="260.80" y="606.64" font-size="6.0" fill="#222" text-anchor="middle" >*</text>
<path d="M278.00,637.3 V601.5 H284.40 V604" fill="none" stroke="#666" stroke-width="0.5" />
<text x="281.20" y="601.64" font-size="6.0" fill="#222" text-anchor="middle" >**</text>
<path d="M285.20,604 V601.5 H297.10 V644.2" fill="none" stroke="#666" stroke-width="0.5" />
<text x="291.15" y="601.64" font-size="6.0" fill="#222" text-anchor="middle" >***</text>
<text x="162.00" y="694.54" font-size="6.6" fill="#333" text-anchor="middle" >PIWIL4</text>
<text x="162.10" y="703.71" font-size="6.5" fill="#333" text-anchor="middle" >overexpression</text>
<text x="268.00" y="556.01" font-size="6.5" fill="#333" text-anchor="middle" >(n = 3)</text>
<rect x="255.80" y="560.70" width="7.70" height="4.40" fill="#1d4d8a" />
<text x="265.40" y="565.11" font-size="6.5" fill="#333" >PIWIL4</text>
<rect x="255.80" y="569.70" width="7.70" height="4.40" fill="#1a6b4c" />
<text x="265.40" y="574.11" font-size="6.5" fill="#333" >p-ATR</text>
<rect x="255.80" y="578.70" width="7.70" height="4.40" fill="#39ace0" />
<text x="265.40" y="583.11" font-size="6.5" fill="#333" >p-RPA</text>
<rect x="255.80" y="587.70" width="7.70" height="4.40" fill="#c8c8c8" />
<text x="265.40" y="592.11" font-size="6.5" fill="#333" >γ-H2AX</text>
<text x="359.20" y="566.71" font-size="6.8" fill="#5ab85a" text-anchor="middle" >BrdU</text>
<rect x="332.70" y="571.70" width="53.20" height="120.70" fill="#8a968a" />
<clipPath id="jc0"><rect x="332.7" y="571.7" width="53.2" height="39.5"/></clipPath>
<rect x="332.70" y="571.70" width="53.20" height="39.50" fill="#0d1f0f" />
<g clip-path="url(#jc0)"><g filter="url(#bl3)">
<circle cx="338" cy="580" r="5.6" fill="#1c4a22" opacity="0.60"/>
<circle cx="348" cy="578" r="6.4" fill="#1c4a22" opacity="0.60"/>
<circle cx="360" cy="582" r="6.9" fill="#1c4a22" opacity="0.60"/>
<circle cx="372" cy="579" r="4.9" fill="#1c4a22" opacity="0.60"/>
<circle cx="381" cy="585" r="6.3" fill="#1c4a22" opacity="0.60"/>
<circle cx="340" cy="595" r="6.1" fill="#1c4a22" opacity="0.60"/>
<circle cx="352" cy="592" r="6.0" fill="#1c4a22" opacity="0.60"/>
<circle cx="366" cy="598" r="4.3" fill="#1c4a22" opacity="0.60"/>
<circle cx="378" cy="600" r="4.1" fill="#1c4a22" opacity="0.60"/>
<circle cx="345" cy="606" r="5.2" fill="#1c4a22" opacity="0.60"/>
<circle cx="360" cy="607" r="6.2" fill="#1c4a22" opacity="0.60"/>
</g></g>
<clipPath id="jc1"><rect x="332.7" y="611.7" width="53.2" height="40.5"/></clipPath>
<rect x="332.70" y="611.70" width="53.20" height="40.50" fill="#0b1a0c" />
<g clip-path="url(#jc1)"><g filter="url(#bl3)">
<circle cx="360" cy="628" r="6.0" fill="#3a8a3a" opacity="0.68"/>
<circle cx="368" cy="625" r="5.0" fill="#4aa84a" opacity="0.75"/>
<circle cx="352" cy="640" r="7.0" fill="#2f7a30" opacity="0.68"/>
<circle cx="365" cy="642" r="6.0" fill="#358a36" opacity="0.68"/>
<circle cx="342" cy="632" r="5.0" fill="#1f5a22" opacity="0.60"/>
<circle cx="374" cy="636" r="5.0" fill="#2a7028" opacity="0.60"/>
<circle cx="347" cy="648" r="5.0" fill="#1f5a22" opacity="0.52"/>
<circle cx="363" cy="615" r="5.0" fill="#1f5420" opacity="0.52"/>
<circle cx="338" cy="618" r="4.0" fill="#163e18" opacity="0.52"/>
</g></g>
<clipPath id="jc2"><rect x="332.7" y="652.7" width="53.2" height="39.7"/></clipPath>
<rect x="332.70" y="652.70" width="53.20" height="39.70" fill="#0b1a0c" />
<g clip-path="url(#jc2)"><g filter="url(#bl3)">
<circle cx="365" cy="665" r="5.0" fill="#2f7a30" opacity="0.68"/>
<circle cx="358" cy="675" r="6.0" fill="#2a6e2c" opacity="0.68"/>
<circle cx="345" cy="662" r="5.0" fill="#1f5a22" opacity="0.52"/>
<circle cx="356" cy="686" r="5.0" fill="#24642a" opacity="0.60"/>
<circle cx="372" cy="682" r="5.0" fill="#1f5a22" opacity="0.52"/>
<circle cx="340" cy="678" r="4.0" fill="#1a4a1c" opacity="0.52"/>
<circle cx="378" cy="668" r="4.0" fill="#1a4a1c" opacity="0.52"/>
</g></g>
<circle cx="367" cy="626.5" r="3.2" fill="#4cbc4c" opacity="0.8" filter="url(#bl2)"/>
<circle cx="362.5" cy="682" r="3" fill="#3a9a3a" opacity="0.6" filter="url(#bl2)"/>
<circle cx="365" cy="663" r="3" fill="#3a9a3a" opacity="0.6" filter="url(#bl2)"/>
<path d="M376.80,632.00 L373.20,630.33" stroke="#fff" stroke-width="0.9"/>
<path d="M371.20,629.40 L372.56,631.69 L373.83,628.97 Z" fill="#fff"/>
<path d="M375.40,677.50 L372.31,674.20" stroke="#fff" stroke-width="0.9"/>
<path d="M370.80,672.60 L371.21,675.23 L373.40,673.18 Z" fill="#fff"/>
<rect x="376.50" y="688.50" width="5.50" height="1.20" fill="#ffffff" />
<text transform="translate(327.30,592.40) rotate(-90)" x="0" y="2.24" font-size="6.6" fill="#333" text-anchor="middle" >Scrambled</text>
<text transform="translate(327.30,631.50) rotate(-90)" x="0" y="2.18" font-size="6.4" fill="#333" text-anchor="middle" >shPIWIL4-A</text>
<text transform="translate(327.30,671.70) rotate(-90)" x="0" y="2.18" font-size="6.4" fill="#333" text-anchor="middle" >shPIWIL4-B</text>
<text x="359.60" y="702.04" font-size="6.6" fill="#333" text-anchor="middle" >THP-1</text>
<text transform="translate(398.00,657.00) rotate(-90)" x="0" y="2.31" font-size="6.8" fill="#333" text-anchor="middle" >BrdU Alexa-488 mean</text>
<text transform="translate(406.20,657.00) rotate(-90)" x="0" y="2.31" font-size="6.8" fill="#333" text-anchor="middle" >fluorescence intensity</text>
<line x1="435.20" y1="625.60" x2="435.20" y2="691.00" stroke="#222" stroke-width="0.8" />
<line x1="435.20" y1="691.00" x2="495.20" y2="691.00" stroke="#222" stroke-width="0.8" />
<line x1="433.20" y1="691.00" x2="435.20" y2="691.00" stroke="#222" stroke-width="0.6" />
<text x="431.60" y="693.85" font-size="7.2" fill="#333" text-anchor="end" letter-spacing="0.3">100</text>
<line x1="433.20" y1="674.75" x2="435.20" y2="674.75" stroke="#222" stroke-width="0.6" />
<text x="431.60" y="677.60" font-size="7.2" fill="#333" text-anchor="end" letter-spacing="0.3">120</text>
<line x1="433.20" y1="658.50" x2="435.20" y2="658.50" stroke="#222" stroke-width="0.6" />
<text x="431.60" y="661.35" font-size="7.2" fill="#333" text-anchor="end" letter-spacing="0.3">140</text>
<line x1="433.20" y1="642.25" x2="435.20" y2="642.25" stroke="#222" stroke-width="0.6" />
<text x="431.60" y="645.10" font-size="7.2" fill="#333" text-anchor="end" letter-spacing="0.3">160</text>
<line x1="433.20" y1="626.00" x2="435.20" y2="626.00" stroke="#222" stroke-width="0.6" />
<text x="431.60" y="628.85" font-size="7.2" fill="#333" text-anchor="end" letter-spacing="0.3">180</text>
<rect x="439.40" y="677.59" width="5.40" height="13.41" fill="#1c3f6e" />
<path d="M442.1,677.59 V671.09 M440.8,671.09 H443.40000000000003" fill="none" stroke="#1c3f6e" stroke-width="0.6" />
<rect x="448.10" y="656.06" width="5.40" height="34.94" fill="#3aa8e0" />
<path d="M450.8,656.06 V651.19 M449.5,651.19 H452.1" fill="none" stroke="#3aa8e0" stroke-width="0.6" />
<text x="450.80" y="649.66" font-size="5.8" fill="#333" text-anchor="middle" >**</text>
<rect x="456.60" y="647.12" width="5.40" height="43.88" fill="#9b8ed0" />
<path d="M459.3,647.12 V639.81 M458.0,639.81 H460.6" fill="none" stroke="#9b8ed0" stroke-width="0.6" />
<text x="459.30" y="638.28" font-size="5.8" fill="#333" text-anchor="middle" >**</text>
<rect x="471.30" y="685.72" width="5.40" height="5.28" fill="#1c3f6e" />
<path d="M474,685.72 V679.22 M472.7,679.22 H475.3" fill="none" stroke="#1c3f6e" stroke-width="0.6" />
<rect x="480.30" y="669.06" width="5.40" height="21.94" fill="#3aa8e0" />
<path d="M483,669.06 V667.44 M481.7,667.44 H484.3" fill="none" stroke="#3aa8e0" stroke-width="0.6" />
<text x="483.00" y="665.91" font-size="5.8" fill="#333" text-anchor="middle" >*</text>
<rect x="488.80" y="665.81" width="5.40" height="25.19" fill="#9b8ed0" />
<path d="M491.5,665.81 V661.75 M490.2,661.75 H492.8" fill="none" stroke="#9b8ed0" stroke-width="0.6" />
<text x="491.50" y="660.22" font-size="5.8" fill="#333" text-anchor="middle" >*</text>
<line x1="450.80" y1="691.00" x2="450.80" y2="693.00" stroke="#222" stroke-width="0.6" />
<line x1="483.00" y1="691.00" x2="483.00" y2="693.00" stroke="#222" stroke-width="0.6" />
<text x="450.80" y="702.84" font-size="6.6" fill="#333" text-anchor="middle" >THP-1</text>
<text x="482.70" y="702.91" font-size="6.8" fill="#333" text-anchor="middle" >NB-4</text>
<text x="471.00" y="602.84" font-size="6.6" fill="#333" text-anchor="middle" >(n = 4)</text>
<rect x="451.00" y="608.20" width="6.70" height="4.00" fill="#1c3f6e" />
<text x="462.50" y="612.38" font-size="6.4" fill="#333" >Scrambled</text>
<rect x="451.00" y="615.90" width="6.70" height="4.00" fill="#3aa8e0" />
<text x="462.50" y="620.08" font-size="6.4" fill="#333" >shPIWIL4-A</text>
<rect x="451.00" y="623.60" width="6.70" height="4.00" fill="#9b8ed0" />
<text x="462.50" y="627.78" font-size="6.4" fill="#333" >shPIWIL4-B</text>
<rect x="0.00" y="0.00" width="520.00" height="1.00" fill="#6a6a6a" />
<rect x="0.00" y="713.00" width="520.00" height="1.00" fill="#383838" />
<rect x="0.00" y="0.00" width="1.00" height="714.00" fill="#3e3e3e" />
<rect x="519.00" y="0.00" width="1.00" height="714.00" fill="#404040" />
</svg></body></html>
